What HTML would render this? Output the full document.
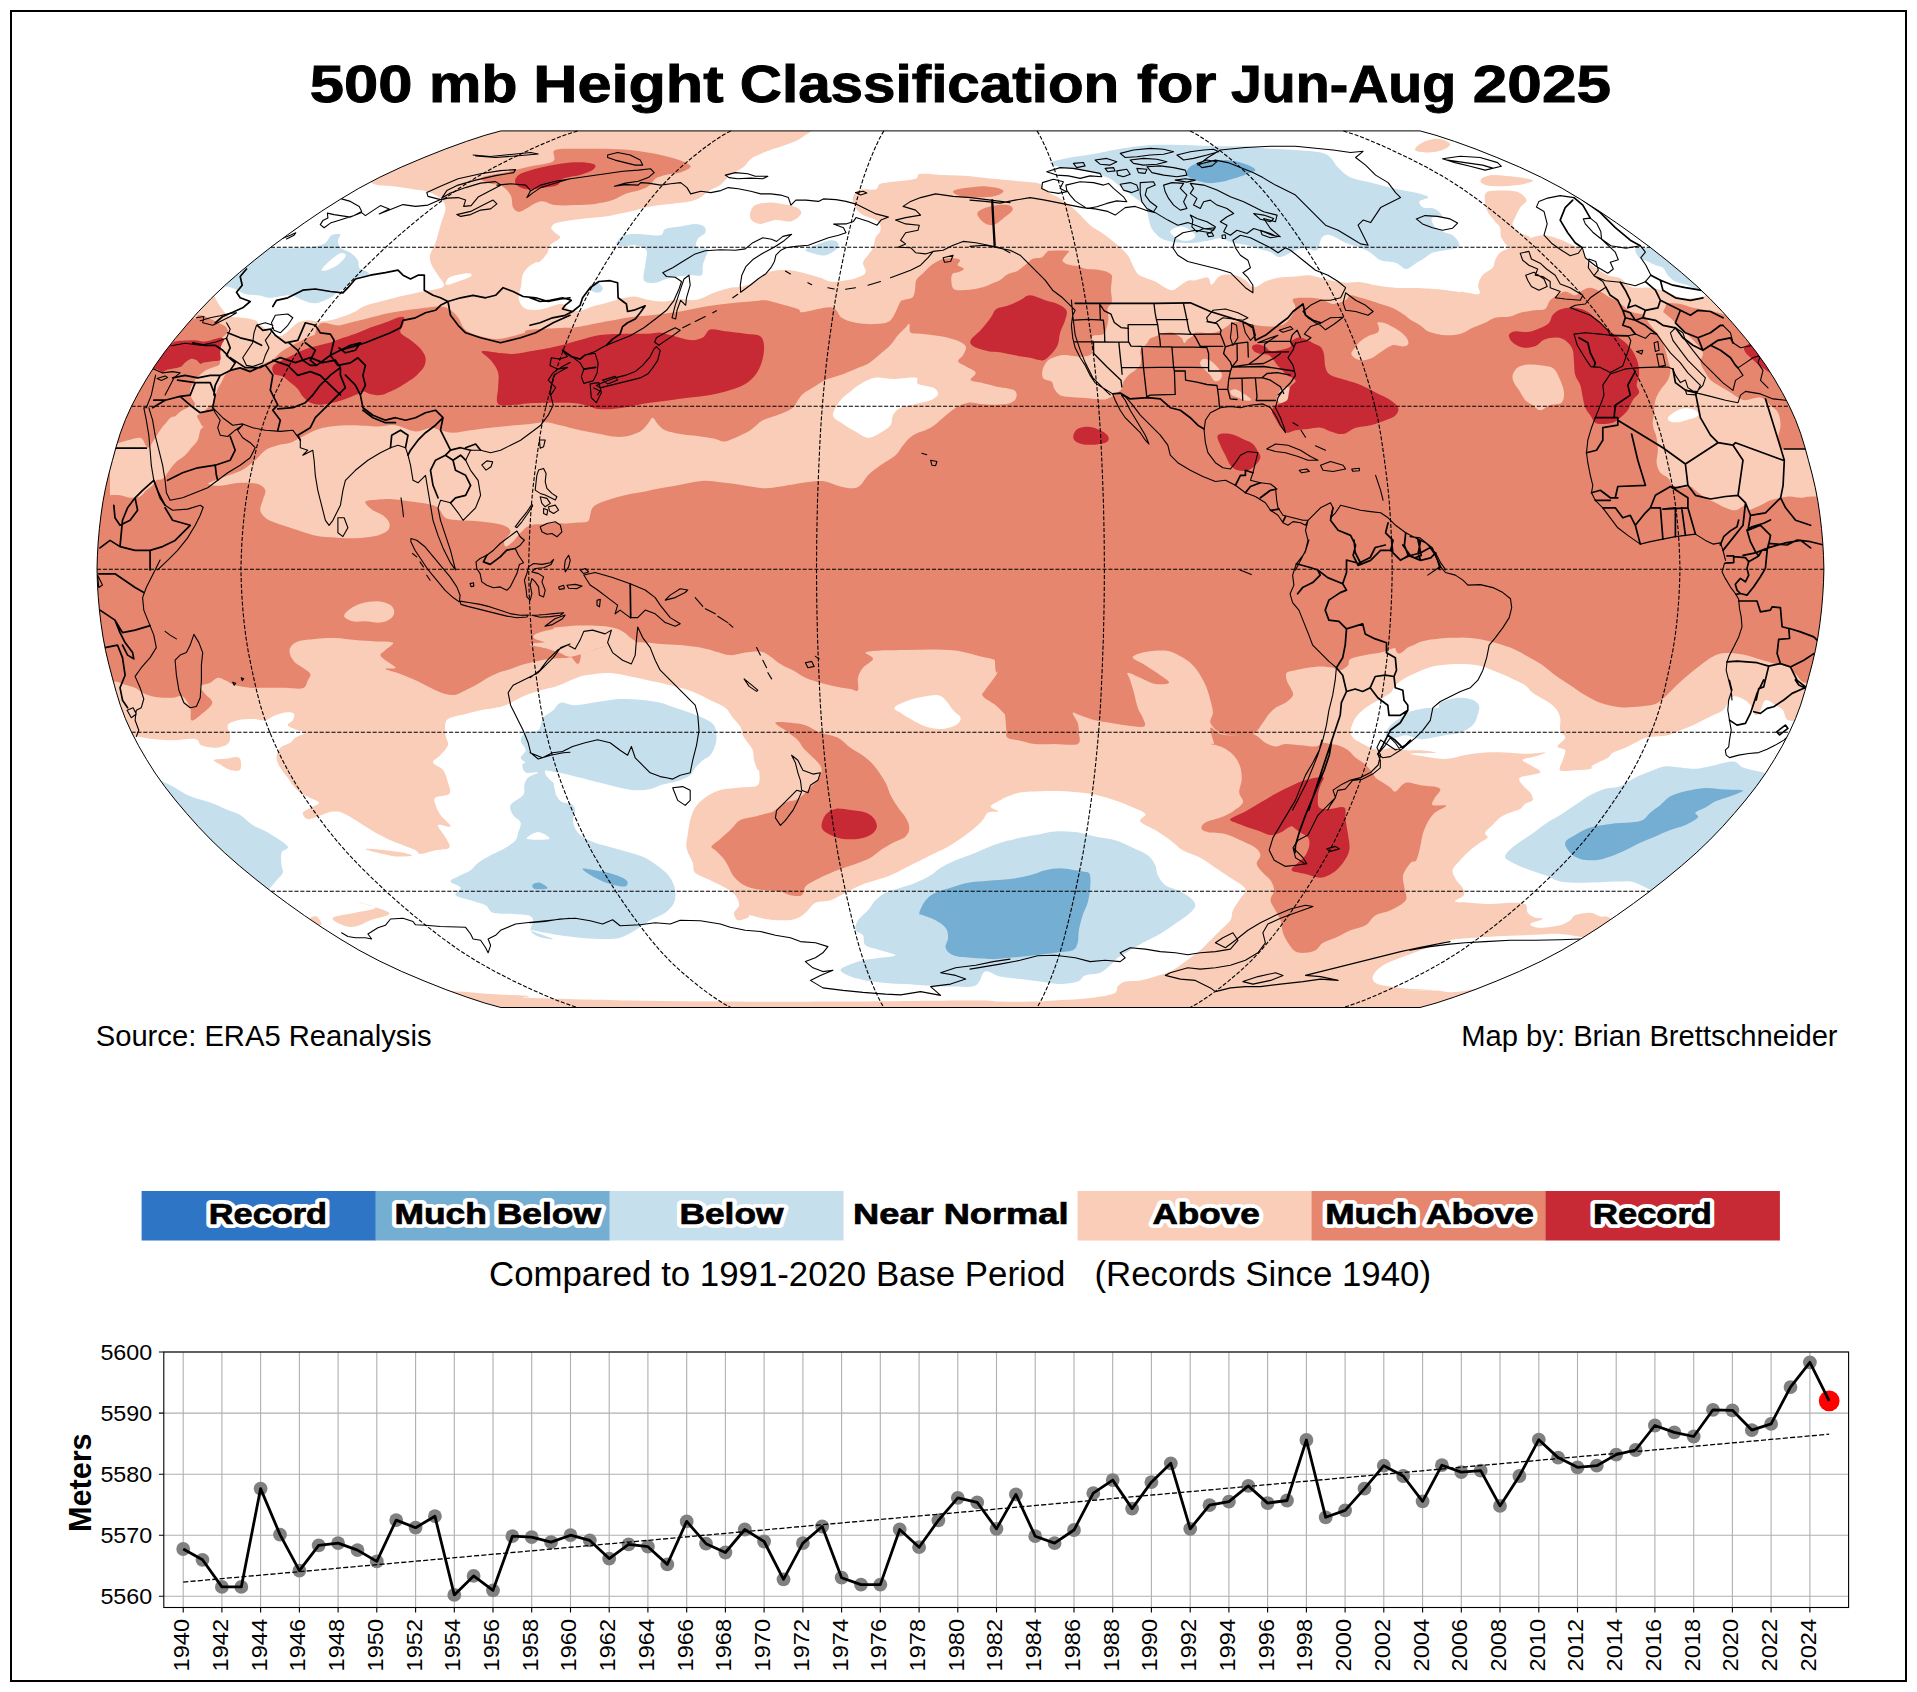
<!DOCTYPE html>
<html><head><meta charset="utf-8"><title>500 mb Height Classification</title>
<style>
html,body{margin:0;padding:0;background:#fff;}
body{width:1917px;height:1692px;overflow:hidden;}
svg{display:block;}
text{font-family:"Liberation Sans",sans-serif;}
.b{font-weight:bold;}
</style></head><body>
<svg width="1917" height="1692" viewBox="0 0 1917 1692">
<rect x="0" y="0" width="1917" height="1692" fill="#fff"/>
<rect x="11" y="11" width="1895" height="1670" fill="none" stroke="#000" stroke-width="2"/>
<text class="b" x="309.8" y="102" font-size="51" textLength="102.6" lengthAdjust="spacingAndGlyphs" stroke="#000" stroke-width="0.9">500</text>
<text class="b" x="429.1" y="102" font-size="51" textLength="88.3" lengthAdjust="spacingAndGlyphs" stroke="#000" stroke-width="0.9">mb</text>
<text class="b" x="533.2" y="102" font-size="51" textLength="190.4" lengthAdjust="spacingAndGlyphs" stroke="#000" stroke-width="0.9">Height</text>
<text class="b" x="739.8" y="102" font-size="51" textLength="379.4" lengthAdjust="spacingAndGlyphs" stroke="#000" stroke-width="0.9">Classification</text>
<text class="b" x="1137.1" y="102" font-size="51" textLength="79.4" lengthAdjust="spacingAndGlyphs" stroke="#000" stroke-width="0.9">for</text>
<text class="b" x="1231.0" y="102" font-size="51" textLength="225.1" lengthAdjust="spacingAndGlyphs" stroke="#000" stroke-width="0.9">Jun-Aug</text>
<text class="b" x="1472.8" y="102" font-size="51" textLength="138.2" lengthAdjust="spacingAndGlyphs" stroke="#000" stroke-width="0.9">2025</text>
<defs><clipPath id="mc"><path d="M500.9,130.9 L484.9,135.3 L466.4,141.4 L445.9,148.8 L424,157.5 L401.3,167.1 L379.2,177.5 L358.8,188.3 L340,199.5 L321.9,211 L304.5,222.8 L287.5,234.9 L270.9,247.2 L254.9,259.8 L239.5,272.5 L224.8,285.4 L211.1,298.5 L198.4,311.7 L186.6,325 L175.3,338.4 L164.7,351.9 L155.1,365.4 L146.5,379 L138.6,392.6 L131.5,406.2 L125.4,419.7 L120.3,433.3 L116.1,446.9 L112.4,460.5 L108.8,474.1 L105.6,487.7 L103,501.3 L101,514.9 L99.4,528.4 L98.2,542 L97.4,555.6 L97,569.2 L97.4,582.8 L98.2,596.4 L99.4,610 L101,623.5 L103,637.1 L105.6,650.7 L108.8,664.3 L112.4,677.9 L116.1,691.5 L120.3,705.1 L125.4,718.7 L131.5,732.2 L138.6,745.8 L146.5,759.4 L155.1,773 L164.7,786.5 L175.3,800 L186.6,813.4 L198.4,826.7 L211.1,839.9 L224.8,853 L239.5,865.9 L254.9,878.6 L270.9,891.2 L287.5,903.5 L304.5,915.6 L321.9,927.4 L340,938.9 L358.8,950.1 L379.2,960.9 L401.3,971.3 L424,980.9 L445.9,989.6 L466.4,997 L484.9,1003.1 L500.9,1007.5 L1420,1007.5 L1436,1003.1 L1454.5,997 L1475,989.6 L1496.9,980.9 L1519.6,971.3 L1541.7,960.9 L1562.1,950.1 L1580.9,938.9 L1599,927.4 L1616.4,915.6 L1633.4,903.5 L1650,891.2 L1666,878.6 L1681.4,865.9 L1696.1,853 L1709.8,839.9 L1722.5,826.7 L1734.3,813.4 L1745.6,800 L1756.2,786.5 L1765.8,773 L1774.4,759.4 L1782.3,745.8 L1789.4,732.2 L1795.5,718.7 L1800.6,705.1 L1804.8,691.5 L1808.5,677.9 L1812.1,664.3 L1815.3,650.7 L1817.9,637.1 L1819.9,623.5 L1821.5,610 L1822.7,596.4 L1823.5,582.8 L1823.9,569.2 L1823.5,555.6 L1822.7,542 L1821.5,528.4 L1819.9,514.9 L1817.9,501.3 L1815.3,487.7 L1812.1,474.1 L1808.5,460.5 L1804.8,446.9 L1800.6,433.3 L1795.5,419.7 L1789.4,406.2 L1782.3,392.6 L1774.4,379 L1765.8,365.4 L1756.2,351.9 L1745.6,338.4 L1734.3,325 L1722.5,311.7 L1709.8,298.5 L1696.1,285.4 L1681.4,272.5 L1666,259.8 L1650,247.2 L1633.4,234.9 L1616.4,222.8 L1599,211 L1580.9,199.5 L1562.1,188.3 L1541.7,177.5 L1519.6,167.1 L1496.9,157.5 L1475,148.8 L1454.5,141.4 L1436,135.3 L1420,130.9Z"/></clipPath></defs>
<g clip-path="url(#mc)">
<rect x="90" y="125" width="1740" height="890" fill="#F9CDB7"/>
<g fill="#ffffff">
<path d="M362.9,178.8 C368.8,179.2 370.8,183.4 375.4,184.6 C380,185.8 384.6,185.4 390.5,186.1 C396.3,186.8 404.4,187.9 410.5,188.8 C416.5,189.8 422,190.1 426.8,191.6 C431.6,193.1 436.1,194.9 439.3,197.6 C442.4,200.3 445.3,203 445.5,207.6 C445.7,212.2 442.2,219.3 440.5,225.2 C438.9,231 437.3,237.7 435.5,242.7 C433.8,247.7 430.6,251.4 430,255.2 C429.4,259 430.4,261.9 431.8,265.2 C433.1,268.5 436.1,271.7 438,275.2 C440,278.8 446,283.8 443.5,286.5 C441,289.2 429.8,290 423,291.5 C416.2,293 409.2,294.3 403,295.8 C396.7,297.2 391.7,298.6 385.4,300.3 C379.2,301.9 370.4,303.9 365.4,305.8 C360.4,307.6 359.2,309.7 355.4,311.5 C351.6,313.3 347.1,315.1 342.9,316.5 C338.7,318 334.5,319.5 330.4,320.3 C326.2,321.1 321.6,321.5 317.8,321.5 C314.1,321.5 311.2,320.1 307.8,320.3 C304.5,320.5 300.7,321.3 297.8,322.8 C294.9,324.3 292.8,327 290.3,329.1 C287.8,331.1 285.5,334.3 282.8,335.3 C280.1,336.4 276.5,336.2 274,335.3 C271.5,334.5 270.3,332.2 267.8,330.3 C265.3,328.4 261.1,325.7 259,324 C256.9,322.4 258,321.3 255.2,320.3 C252.5,319.2 246.9,318.4 242.7,317.8 C238.6,317.2 233.1,317.4 230.2,316.5 C227.3,315.7 226.9,314.5 225.2,312.8 C223.5,311.1 221.7,308.6 220.2,306.5 C218.7,304.4 217.7,302.1 216.4,300.3 C215.2,298.4 215.4,296.1 212.7,295.3 C210,294.4 203.9,296.9 200.2,295.3 C196.4,293.6 179.3,296.9 190.2,285.2 C201,273.6 240.2,242.3 265.3,225.2 C290.3,208 324.1,190.3 340.4,182.6 C356.6,174.9 357.1,178.5 362.9,178.8Z"/>
<path d="M445.5,283.2 C445.9,281.9 446.8,278.4 450.5,276.7 C454.3,275.1 464.6,273.3 468.1,273.2 C471.5,273.1 472.7,274.8 471.1,276.2 C469.4,277.6 461.8,280.1 458.1,281.5 C454.3,282.9 450.6,284.4 448.5,284.7 C446.5,285 445.2,284.6 445.5,283.2Z"/>
<path d="M551.3,227.7 C551.7,226 552.7,224.1 557.5,222.6 C562.3,221.2 572.1,219.9 580.1,218.9 C588,217.8 596.8,217.6 605.1,216.4 C613.5,215.1 622.6,213 630.2,211.4 C637.7,209.7 643.5,207.6 650.2,206.4 C656.9,205.1 663.5,204.7 670.2,203.9 C676.9,203 685.2,202.4 690.2,201.4 C695.2,200.3 696.9,199.5 700.3,197.6 C703.6,195.7 706.9,192.2 710.3,190.1 C713.6,188 716.9,187.6 720.3,185.1 C723.6,182.6 726.5,178 730.3,175.1 C734.1,172.2 739.1,170.5 742.8,167.6 C746.6,164.6 748.2,160.5 752.8,157.5 C757.4,154.6 764.9,152.1 770.4,150 C775.8,148 780.8,146.7 785.4,145 C790,143.4 794.6,141.7 797.9,140 C801.2,138.4 802.1,137.1 805.4,135 C808.8,132.9 817.9,127.5 817.9,127.5 L1020.7,127.5 L1020.7,178.8 C1020.7,178.8 1001.5,179.2 993.2,178.8 C984.8,178.4 979,177 970.7,176.3 C962.3,175.7 951.5,175.5 943.1,175.1 C934.8,174.7 925.2,173.2 920.6,173.8 C916,174.4 919.3,177.6 915.6,178.8 C911.8,180.1 903.9,180.5 898.1,181.3 C892.2,182.2 884.3,182.5 880.5,183.8 C876.8,185.2 878.9,188.6 875.5,189.6 C872.2,190.6 864.3,188.3 860.5,189.6 C856.7,190.9 853.8,194.6 853,197.6 C852.1,200.6 853.8,204.7 855.5,207.6 C857.2,210.5 859.2,212.8 863,215.1 C866.8,217.4 875.1,218.9 878,221.4 C880.9,223.9 880.9,227.4 880.5,230.2 C880.1,232.9 876.8,234.7 875.5,237.7 C874.3,240.6 874.3,244.8 873,247.7 C871.8,250.6 869.7,252.7 868,255.2 C866.3,257.7 863.4,259.8 863,262.7 C862.6,265.6 866.8,270.1 865.5,272.7 C864.3,275.3 859.2,276.9 855.5,278.2 C851.7,279.6 847.1,280.2 843,280.7 C838.8,281.3 834.2,282 830.5,281.5 C826.7,281 825,279.2 820.4,277.7 C815.8,276.3 807.9,274 802.9,272.7 C797.9,271.5 794.6,270.6 790.4,270.2 C786.2,269.8 781.6,269.8 777.9,270.2 C774.1,270.6 771.6,270.8 767.9,272.7 C764.1,274.6 759.5,279.2 755.3,281.5 C751.2,283.8 747,285.4 742.8,286.5 C738.6,287.5 734.9,286.8 730.3,287.7 C725.7,288.7 719.9,290.6 715.3,292.3 C710.7,293.9 706.5,296.4 702.8,297.8 C699,299.1 696.5,300.1 692.7,300.3 C689,300.5 684.8,298.8 680.2,299 C675.6,299.2 670.2,301.3 665.2,301.5 C660.2,301.7 655.2,301.1 650.2,300.3 C645.2,299.4 639.3,296.9 635.2,296.5 C631,296.1 628.5,297.1 625.1,297.8 C621.8,298.4 618.5,299.3 615.1,300.3 C611.8,301.2 608.9,302.2 605.1,303.3 C601.4,304.3 596.8,305.3 592.6,306.5 C588.4,307.8 583.8,310.2 580.1,310.8 C576.3,311.4 573,311.4 570.1,310.3 C567.1,309.2 565.1,304.9 562.5,304 C560,303.2 558.4,304.4 555,305.3 C551.7,306.1 546.7,308.3 542.5,309 C538.3,309.8 533.3,310.2 530,309.8 C526.7,309.4 524.4,308.5 522.5,306.5 C520.6,304.5 518.9,301.3 518.7,297.8 C518.5,294.2 520.6,289 521.2,285.2 C521.9,281.5 521.4,278.1 522.5,275.2 C523.5,272.3 525.4,269.8 527.5,267.7 C529.6,265.6 532.9,263.7 535,262.7 C537.1,261.7 537.9,263.1 540,261.5 C542.1,259.8 545.9,255.4 547.5,252.7 C549.2,250 547.9,247.7 550,245.2 C552.1,242.7 559.2,239.8 560,237.7 C560.9,235.6 556.5,234.3 555,232.7 C553.6,231 550.9,229.3 551.3,227.7Z"/>
<path d="M955,175.1 C955,175.1 963.3,174.4 970,175.1 C976.7,175.7 986.7,177.8 995,178.8 C1003.4,179.9 1012.6,180.5 1020.1,181.3 C1027.6,182.2 1035.9,182.3 1040.1,183.8 C1044.3,185.4 1041.4,187.9 1045.1,190.6 C1048.9,193.3 1057.2,196.4 1062.6,200.1 C1068.1,203.8 1073.1,208.5 1077.7,212.6 C1082.3,216.8 1085.6,221.4 1090.2,225.2 C1094.8,228.9 1100.6,231.8 1105.2,235.2 C1109.8,238.5 1114,241.8 1117.7,245.2 C1121.5,248.5 1125.2,251.9 1127.7,255.2 C1130.2,258.5 1131.1,262.1 1132.7,265.2 C1134.4,268.3 1135.7,271.9 1137.8,274 C1139.8,276.1 1142.3,276.5 1145.3,277.7 C1148.2,279 1151.9,279.8 1155.3,281.5 C1158.6,283.2 1162.4,286.3 1165.3,287.7 C1168.2,289.2 1170.3,290.7 1172.8,290.2 C1175.3,289.8 1177.8,286.8 1180.3,285.2 C1182.8,283.7 1185.3,281.6 1187.8,280.7 C1190.3,279.9 1192,280.7 1195.3,280.2 C1198.7,279.7 1205.1,277 1207.9,277.7 C1210.6,278.5 1209.5,285.1 1211.6,284.7 C1213.7,284.4 1216.4,277.3 1220.4,275.7 C1224.3,274.1 1231.2,274.5 1235.4,275.2 C1239.6,276 1242.3,278.2 1245.4,280.2 C1248.5,282.2 1250.8,287 1254.2,287.2 C1257.5,287.5 1261.5,283.1 1265.4,281.5 C1269.4,279.9 1273,278.6 1278,277.7 C1283,276.9 1290.5,276.9 1295.5,276.5 C1300.5,276.1 1303.8,275 1308,275.2 C1312.2,275.4 1316.8,276.9 1320.5,277.7 C1324.3,278.6 1326.4,279.4 1330.5,280.2 C1334.7,281.1 1340.6,282.4 1345.6,282.7 C1350.6,283.1 1355.6,281.8 1360.6,282.2 C1365.6,282.7 1369.8,284.3 1375.6,285.2 C1381.5,286.2 1388.1,287.3 1395.6,287.7 C1403.1,288.2 1413.6,287.5 1420.7,287.7 C1427.8,288 1431.5,288.2 1438.2,289 C1444.9,289.7 1460.7,292.3 1460.7,292.3 L1460.7,127.5 L955,127.5 L955,175.1Z"/>
<path d="M1395,287.7 C1395,287.7 1403.3,287.5 1410,287.7 C1416.7,288 1426.7,288.4 1435,289 C1443.4,289.6 1452.8,290.7 1460.1,291.5 C1467.4,292.3 1475.8,295 1478.9,294 C1481.9,293 1477.5,288.4 1478.1,285.2 C1478.7,282.1 1480.2,278.1 1482.6,275.2 C1485,272.3 1490.5,270.2 1492.6,267.7 C1494.7,265.2 1493.9,262.7 1495.1,260.2 C1496.4,257.7 1497.6,254.8 1500.1,252.7 C1502.6,250.6 1506.8,249.4 1510.2,247.7 C1513.5,246 1516.8,244.3 1520.2,242.7 C1523.5,241.1 1526.4,239.4 1530.2,238.2 C1533.9,236.9 1538.5,235.2 1542.7,235.2 C1546.9,235.1 1550.6,236.2 1555.2,237.7 C1559.8,239.1 1565.7,241.8 1570.2,243.9 C1574.8,246 1580,247.5 1582.8,250.2 C1585.5,252.9 1584.4,257.3 1586.5,260.2 C1588.6,263.1 1591.7,265.2 1595.3,267.7 C1598.8,270.2 1603.6,273.5 1607.8,275.2 C1612,277 1617,276.6 1620.3,278.2 C1623.7,279.9 1625.3,283.7 1627.8,285.2 C1630.3,286.8 1631.6,287.3 1635.3,287.7 C1639.1,288.2 1645.4,287.1 1650.4,287.7 C1655.4,288.4 1660.4,289.8 1665.4,291.5 C1670.4,293.2 1675.8,296.6 1680.4,297.8 C1685,298.9 1689.2,298.5 1692.9,298.3 C1696.7,298.1 1697.9,298.7 1702.9,296.5 C1707.9,294.3 1723,285.2 1723,285.2 L1585.3,175.1 L1435,120 L1395,120 L1395,287.7Z"/>
<path d="M120,735.3 C120,735.3 130.9,735.9 136.3,736.5 C141.7,737.1 146.5,738.4 152.6,739 C158.6,739.6 165.5,740.3 172.6,740.3 C179.7,740.3 190.4,738.2 195.2,739 C200,739.9 198.1,743.8 201.4,745.3 C204.8,746.7 210.8,748 215.2,747.8 C219.6,747.6 225.2,746.1 227.7,744 C230.2,741.9 230.2,738.4 230.2,735.3 C230.2,732.1 226.5,727.8 227.7,725.2 C229,722.7 233.5,721.3 237.7,720.2 C241.9,719.2 248.2,719 252.7,719 C257.3,719 261.5,720.9 265.3,720.2 C269,719.6 271.5,716.6 275.3,715.2 C279,713.9 284.7,712.4 287.8,712.2 C290.9,712 293.2,712.6 294.1,714 C294.9,715.3 293.8,718.4 292.8,720.2 C291.8,722.1 287,723.6 287.8,725.2 C288.6,726.9 294.9,729 297.8,730.3 C300.7,731.5 305.7,731.5 305.3,732.8 C304.9,734 297.8,736.1 295.3,737.8 C292.8,739.4 292.8,741.1 290.3,742.8 C287.8,744.4 282.6,745.3 280.3,747.8 C278,750.3 276.5,754.5 276.5,757.8 C276.5,761.1 278.4,764.5 280.3,767.8 C282.2,771.2 285.7,774.9 287.8,777.8 C289.9,780.7 290.7,782.8 292.8,785.3 C294.9,787.8 297.4,790.8 300.3,792.8 C303.2,794.9 307.2,796.2 310.3,797.9 C313.5,799.5 319.1,801.2 319.1,802.9 C319.1,804.5 313,806.2 310.3,807.9 C307.6,809.5 303.2,811 302.8,812.9 C302.4,814.8 304.9,818.7 307.8,819.1 C310.7,819.6 316.2,816.6 320.3,815.4 C324.5,814.1 329.1,812 332.9,811.6 C336.6,811.2 339.1,811.4 342.9,812.9 C346.6,814.3 351.6,817.9 355.4,820.1 C359.2,822.4 361.7,824.1 365.4,826.4 C369.2,828.7 373.8,831.6 377.9,833.9 C382.1,836.2 386.3,838.3 390.5,840.2 C394.6,842 398.8,843.5 403,845.2 C407.1,846.8 412.6,848.7 415.5,850.2 C418.4,851.6 417.2,853.9 420.5,853.9 C423.8,853.9 430.7,851.2 435.5,850.2 C440.3,849.1 447.6,849.7 449.3,847.7 C451,845.6 447.4,841.4 445.5,837.6 C443.7,833.9 437.2,827 438,825.1 C438.9,823.2 450.1,828 450.5,826.4 C451,824.7 443,818.7 440.5,815.1 C438,811.6 436.4,808 435.5,805.1 C434.7,802.2 433.2,799.5 435.5,797.6 C437.8,795.7 447.2,796.3 449.3,793.8 C451.4,791.3 449.1,786.5 448,782.6 C447,778.6 445.5,773.4 443,770 C440.5,766.7 433.4,765 433,762.5 C432.6,760 438,757.9 440.5,755 C443,752.1 447.2,748.3 448,745 C448.9,741.7 446,739 445.5,735.3 C445.1,731.6 444.7,725.7 445.5,722.7 C446.4,719.8 447.2,719.2 450.5,717.7 C453.9,716.3 460.6,715.2 465.6,714 C470.6,712.7 475.6,711.3 480.6,710.2 C485.6,709.2 491.4,708.6 495.6,707.7 C499.8,706.9 502.3,706.5 505.6,705.2 C509,704 512.3,701.9 515.6,700.2 C519,698.5 521.5,696.9 525.7,695.2 C529.8,693.5 535.7,691.7 540.7,690.2 C545.7,688.7 551.6,687.7 555.7,686.4 C559.8,685.2 561,684.4 565.1,682.7 C569.1,681 575.1,677.9 580.1,676.4 C585.1,675 589.7,674.5 595.1,673.9 C600.5,673.4 606.8,672.8 612.6,673.2 C618.5,673.6 624.3,675.3 630.2,676.4 C636,677.6 641.8,678.9 647.7,680.2 C653.5,681.4 659.8,682.7 665.2,683.9 C670.6,685.2 675.2,686.2 680.2,687.7 C685.2,689.2 690.2,690.6 695.2,692.7 C700.3,694.8 705.3,697.7 710.3,700.2 C715.3,702.7 721.5,704.8 725.3,707.7 C729,710.6 730.3,714.6 732.8,717.7 C735.3,720.9 738.6,723.6 740.3,726.5 C742,729.4 741.6,732.6 742.8,735.3 C744.1,738 746.2,740.3 747.8,742.8 C749.5,745.3 751.8,747.4 752.8,750.3 C753.9,753.2 753.3,757 754.1,760.3 C754.9,763.6 757,768.7 757.8,770.3 C758.7,771.9 759.1,767.6 759.1,770 C759.1,772.5 761,782.1 757.8,785.1 C754.7,788 746.6,786.7 740.3,787.6 C734.1,788.4 726.1,788.4 720.3,790.1 C714.4,791.7 709.4,794.7 705.3,797.6 C701.1,800.5 697.8,803.8 695.2,807.6 C692.7,811.4 691.5,815.5 690.2,820.1 C689,824.7 688.4,830.6 687.7,835.1 C687.1,839.7 685.7,843.1 686.5,847.7 C687.3,852.3 691.3,858.5 692.7,862.7 C694.2,866.9 692.3,869.8 695.2,872.7 C698.2,875.6 705.3,877.7 710.3,880.2 C715.3,882.7 721.1,885.2 725.3,887.7 C729.5,890.2 733,892.3 735.3,895.2 C737.6,898.2 739.3,902.3 739.1,905.2 C738.9,908.2 734.3,910.3 734.1,912.8 C733.8,915.3 735.5,919.4 737.8,920.3 C740.1,921.1 745.7,918.6 747.8,917.8 C749.9,916.9 747.4,915.1 750.3,915.3 C753.3,915.5 760.3,918.2 765.4,919 C770.4,919.9 775.4,920.3 780.4,920.3 C785.4,920.3 791.2,920.3 795.4,919 C799.6,917.8 802.1,915.5 805.4,912.8 C808.8,910 811.3,904.8 815.4,902.7 C819.6,900.7 825.4,901.9 830.5,900.2 C835.5,898.6 840.5,895.2 845.5,892.7 C850.5,890.2 855.5,887.3 860.5,885.2 C865.5,883.1 870.5,881.9 875.5,880.2 C880.5,878.5 885.5,877.3 890.5,875.2 C895.5,873.1 900.6,870.2 905.6,867.7 C910.6,865.2 915.6,862.7 920.6,860.2 C925.6,857.7 930.6,855.2 935.6,852.7 C940.6,850.2 945.6,848.1 950.6,845.2 C955.6,842.2 960.6,838.9 965.7,835.1 C970.7,831.4 976.9,826.4 980.7,822.6 C984.4,818.9 985.3,814.5 988.2,812.6 C991.1,810.7 997.8,812.4 998.2,811.4 C998.6,810.3 990.3,808.2 990.7,806.3 C991.1,804.5 998.3,801.6 1000.7,800.1 C1003.1,798.6 1001.8,798.8 1005.1,797.6 C1008.3,796.3 1014.2,793.6 1020.1,792.6 C1025.9,791.5 1032.6,791.5 1040.1,791.3 C1047.6,791.1 1056.8,790.9 1065.1,791.3 C1073.5,791.7 1082.7,792.6 1090.2,793.8 C1097.7,795.1 1103.5,796.8 1110.2,798.8 C1116.9,800.9 1124.4,803.8 1130.2,806.3 C1136.1,808.9 1143.6,811.4 1145.3,813.9 C1146.9,816.4 1138.6,818.7 1140.3,821.4 C1141.9,824.1 1150.3,827 1155.3,830.1 C1160.3,833.3 1165.7,836.8 1170.3,840.2 C1174.9,843.5 1177.8,847.2 1182.8,850.2 C1187.8,853.1 1194.9,854.8 1200.3,857.7 C1205.8,860.6 1210.4,864.4 1215.4,867.7 C1220.4,871 1225.4,874.2 1230.4,877.7 C1235.4,881.3 1244,885.2 1245.4,889 C1246.9,892.7 1241.2,896.7 1239.2,900.2 C1237.1,903.8 1234.4,906.9 1232.9,910.3 C1231.4,913.6 1232.5,916.9 1230.4,920.3 C1228.3,923.6 1223.7,926.9 1220.4,930.3 C1217,933.6 1213.7,937 1210.4,940.3 C1207,943.6 1203.7,947.4 1200.3,950.3 C1197,953.2 1193.7,955.3 1190.3,957.8 C1187,960.3 1183.7,963 1180.3,965.3 C1177,967.6 1174.5,969.7 1170.3,971.6 C1166.1,973.5 1160.3,975.1 1155.3,976.6 C1150.3,978.1 1145.3,979.5 1140.3,980.4 C1135.2,981.2 1129,980.6 1125.2,981.6 C1121.5,982.7 1119.4,984.7 1117.7,986.6 C1116.1,988.5 1118.1,991.2 1115.2,992.9 C1112.3,994.5 1106,995.6 1100.2,996.6 C1094.4,997.7 1087.7,998.5 1080.2,999.1 C1072.7,999.8 1063.5,1000 1055.1,1000.4 C1046.8,1000.8 1039.3,1001.4 1030.1,1001.6 C1020.9,1001.9 1010.1,1001.9 1000,1001.6 C990,1001.4 998.3,1000.4 970,1000.4 C941.7,1000.4 870.4,1001.4 830.5,1001.6 C790.5,1001.9 763.7,1001.9 730.3,1001.6 C696.9,1001.4 663.5,1001 630.2,1000.4 C596.8,999.8 547,998.6 530,997.9 C513,997.1 534.7,996.5 528.2,995.9 C521.6,995.3 501.9,994.8 490.6,994.1 C479.3,993.4 469.7,992.3 460.6,991.6 C451.4,991 435.5,990.4 435.5,990.4 L265.3,900.2 L165.1,802.6 L120,735.3Z"/>
<path d="M1350.6,730.3 C1351,726.9 1353.1,721.5 1355.6,717.7 C1358.1,714 1361.4,710.9 1365.6,707.7 C1369.8,704.6 1376.4,701.5 1380.6,699 C1384.8,696.5 1388.1,695 1390.6,692.7 C1393.1,690.4 1393.1,687.7 1395.6,685.2 C1398.1,682.7 1400.8,680.4 1405.7,677.7 C1410.6,675 1419.3,671 1425,668.9 C1430.8,666.8 1434.2,666 1440,665.2 C1445.9,664.3 1453.8,663.9 1460.1,663.9 C1466.3,663.9 1472.2,664.1 1477.6,665.2 C1483,666.2 1487.2,668.1 1492.6,670.2 C1498,672.3 1504.7,675.2 1510.2,677.7 C1515.6,680.2 1521.4,682.7 1525.2,685.2 C1528.9,687.7 1529.3,690.2 1532.7,692.7 C1536,695.2 1541.4,697.7 1545.2,700.2 C1549,702.7 1552.7,704.8 1555.2,707.7 C1557.7,710.6 1559.4,714 1560.2,717.7 C1561.1,721.5 1559.4,726.9 1560.2,730.3 C1561.1,733.6 1565.7,735.1 1565.2,737.8 C1564.8,740.5 1557.7,744.4 1557.7,746.5 C1557.7,748.6 1564.4,748 1565.2,750.3 C1566.1,752.6 1563.6,757 1562.7,760.3 C1561.9,763.6 1558.1,768.6 1560.2,770.3 C1562.3,772 1570.2,770.5 1575.2,770.3 C1580.3,770.1 1587.3,769.9 1590.3,769.1 C1593.2,768.2 1589.9,767.2 1592.8,765.3 C1595.7,763.4 1604.5,759.9 1607.8,757.8 C1611.1,755.7 1609.9,754.5 1612.8,752.8 C1615.7,751.1 1621.6,749.5 1625.3,747.8 C1629.1,746.1 1632,744.4 1635.3,742.8 C1638.7,741.1 1642,738.8 1645.4,737.8 C1648.7,736.7 1651.6,736.9 1655.4,736.5 C1659.1,736.1 1663.7,736.3 1667.9,735.3 C1672.1,734.2 1676.2,731.9 1680.4,730.3 C1684.6,728.6 1689.2,726.9 1692.9,725.2 C1696.7,723.6 1699.6,721.9 1702.9,720.2 C1706.3,718.6 1709.6,716.9 1713,715.2 C1716.3,713.6 1720.5,712.3 1723,710.2 C1725.5,708.1 1726.3,705 1728,702.7 C1729.6,700.4 1730.5,697.1 1733,696.5 C1735.5,695.8 1740.1,697.5 1743,699 C1745.9,700.4 1748.4,702.5 1750.5,705.2 C1752.6,707.9 1753.8,714.4 1755.5,715.2 C1757.2,716.1 1758.9,712.7 1760.5,710.2 C1762.2,707.7 1763,701 1765.5,700.2 C1768,699.4 1772.6,703.5 1775.5,705.2 C1778.5,706.9 1781,707.7 1783.1,710.2 C1785.1,712.7 1784.3,718.6 1788.1,720.2 C1791.8,721.9 1805.6,720.2 1805.6,720.2 L1773,765 L1635.3,940.3 C1635.3,940.3 1616.1,922.2 1610.3,918.3 C1604.5,914.3 1603.6,917.4 1600.3,916.5 C1596.9,915.6 1594.4,913 1590.3,912.8 C1586.1,912.6 1578.6,914 1575.2,915.3 C1571.9,916.5 1572.7,918.6 1570.2,920.3 C1567.7,921.9 1565.2,924 1560.2,925.3 C1555.2,926.5 1545.2,928 1540.2,927.8 C1535.2,927.6 1529.8,925.5 1530.2,924 C1530.6,922.6 1541.9,920.1 1542.7,919 C1543.5,918 1537.7,918.8 1535.2,917.8 C1532.7,916.7 1529.3,915.1 1527.7,912.8 C1526,910.5 1528.1,905.7 1525.2,904 C1522.3,902.3 1516,902.7 1510.2,902.7 C1504.3,902.7 1496.8,904 1490.1,904 C1483.4,904 1475.9,903.2 1470.1,902.7 C1464.2,902.3 1456.1,902.7 1455.1,901.5 C1454,900.2 1462.6,897.5 1463.8,895.2 C1465.1,892.9 1463.8,890.2 1462.6,887.7 C1461.3,885.2 1458,883.1 1456.3,880.2 C1454.7,877.3 1451.9,873.5 1452.6,870.2 C1453.2,866.9 1457.2,863.5 1460.1,860.2 C1463,856.8 1466.8,853.1 1470.1,850.2 C1473.4,847.2 1477.2,844.7 1480.1,842.7 C1483,840.6 1486.8,839.3 1487.6,837.6 C1488.5,836 1484.3,834.7 1485.1,832.6 C1485.9,830.6 1490.1,827.6 1492.6,825.1 C1495.1,822.6 1497.2,819.7 1500.1,817.6 C1503.1,815.5 1506.8,814.1 1510.2,812.6 C1513.5,811.1 1517.7,810.3 1520.2,808.9 C1522.7,807.4 1523.1,805.3 1525.2,803.8 C1527.3,802.4 1531.8,802 1532.7,800.1 C1533.5,798.2 1531.8,795.1 1530.2,792.6 C1528.5,790.1 1524.3,787.6 1522.7,785.1 C1521,782.6 1517.2,779.6 1520.2,777.6 C1523.1,775.5 1538.5,774.6 1540.2,772.5 C1541.9,770.5 1533.1,767.1 1530.2,765 C1527.3,763 1521.8,761.5 1522.7,760 C1523.5,758.6 1531.4,757.5 1535.2,756.3 C1538.9,755 1546.9,752.9 1545.2,752.5 C1543.5,752.1 1531.8,753.8 1525.2,753.8 C1518.5,753.8 1511.8,752.7 1505.1,752.5 C1498.5,752.3 1491.8,752.1 1485.1,752.5 C1478.4,752.9 1471.3,754 1465.1,755 C1458.8,756.1 1453.4,758.4 1447.6,758.8 C1441.7,759.2 1436.3,758.4 1430,757.5 C1423.8,756.7 1409.1,754.6 1410,753.8 C1410.9,753 1433.9,753.4 1435.7,752.8 C1437.5,752.2 1425.7,750.7 1420.7,750.3 C1415.7,749.9 1410.7,750.7 1405.7,750.3 C1400.6,749.9 1394.8,747.8 1390.6,747.8 C1386.5,747.8 1384,750.3 1380.6,750.3 C1377.3,750.3 1373.9,749 1370.6,747.8 C1367.3,746.5 1363.5,744.4 1360.6,742.8 C1357.7,741.1 1354.7,739.9 1353.1,737.8 C1351.4,735.7 1350.2,733.6 1350.6,730.3Z"/>
<path d="M1373.1,975.4 C1374.4,972.4 1378.5,968.3 1383.1,965.3 C1387.7,962.4 1394.4,960.3 1400.6,957.8 C1406.9,955.3 1414.4,952.6 1420.7,950.3 C1426.9,948 1433.3,945.7 1438.2,944.1 C1443.1,942.4 1445.6,941.3 1450.1,940.3 C1454.5,939.3 1459.2,938.8 1465.1,938.3 C1470.9,937.8 1477.6,937.5 1485.1,937 C1492.6,936.6 1501.8,936.2 1510.2,935.8 C1518.5,935.4 1526.8,935.1 1535.2,934.8 C1543.5,934.5 1551.9,933.5 1560.2,934 C1568.6,934.5 1585.3,937.8 1585.3,937.8 L1510.2,980.4 C1510.2,980.4 1472.6,990 1460.1,991.6 C1447.6,993.3 1443.4,990.6 1435,990.4 C1426.7,990.2 1410.3,990.4 1410,990.4 C1409.7,990.4 1433.1,990.6 1433.2,990.4 C1433.3,990.2 1417.8,989.7 1410.7,989.1 C1403.6,988.5 1396.5,987.7 1390.6,986.6 C1384.8,985.6 1378.5,984.7 1375.6,982.9 C1372.7,981 1371.9,978.3 1373.1,975.4Z"/>
<path d="M894.3,707.7 C895.1,705.8 901.2,703.2 905.6,701.5 C909.9,699.7 915.2,698.2 920.6,697.2 C926,696.2 933.9,694.7 938.1,695.2 C942.3,695.7 943.1,697.7 945.6,700.2 C948.1,702.7 950.6,707.3 953.1,710.2 C955.6,713.1 960.2,715.2 960.6,717.7 C961.1,720.2 959,723.4 955.6,725.2 C952.3,727.1 945.6,728.8 940.6,729 C935.6,729.2 930.6,728.2 925.6,726.5 C920.6,724.8 914.7,721.3 910.6,719 C906.4,716.7 903.3,714.6 900.6,712.7 C897.8,710.9 893.5,709.6 894.3,707.7Z"/>
</g>
<g fill="#F9CDB7">
<path d="M750.3,212.6 C751,210.1 752,206.8 755.3,205.1 C758.7,203.5 764.9,202.6 770.4,202.6 C775.8,202.6 783.1,204.1 787.9,205.1 C792.7,206.2 797.1,207.2 799.2,208.9 C801.2,210.5 801.9,213 800.4,215.1 C798.9,217.2 794.6,220.6 790.4,221.4 C786.2,222.2 780.4,219.7 775.4,220.1 C770.4,220.6 764.3,223.9 760.3,223.9 C756.4,223.9 753.3,222 751.6,220.1 C749.9,218.3 749.7,215.1 750.3,212.6Z"/>
<path d="M1415,150 C1414.2,148.4 1418.8,144.4 1422.5,142.5 C1426.3,140.6 1433,138.6 1437.5,138.8 C1442.1,139 1449.2,141.9 1450.1,143.8 C1450.9,145.7 1446.3,148.6 1442.5,150 C1438.8,151.5 1432.1,152.5 1427.5,152.5 C1422.9,152.5 1415.8,151.7 1415,150Z"/>
<path d="M1481.4,178.8 C1483,177.4 1487.8,175.5 1492.6,175.1 C1497.4,174.7 1504.3,175.7 1510.2,176.3 C1516,177 1523.9,178 1527.7,178.8 C1531.4,179.7 1534.4,180.3 1532.7,181.3 C1531,182.4 1523.9,184.3 1517.7,185.1 C1511.4,185.9 1501,186.6 1495.1,186.3 C1489.3,186.1 1484.9,185.1 1482.6,183.8 C1480.3,182.6 1479.7,180.3 1481.4,178.8Z"/>
<path d="M1486.4,192.6 C1488.9,190.6 1494.9,190.7 1500.1,190.6 C1505.4,190.5 1513.3,190.5 1517.7,192.1 C1522,193.7 1526,197.5 1526.4,200.1 C1526.8,202.7 1522,204.7 1520.2,207.6 C1518.3,210.5 1516.4,214.7 1515.2,217.6 C1513.9,220.6 1511.8,222.6 1512.7,225.2 C1513.5,227.7 1517.2,230.6 1520.2,232.7 C1523.1,234.7 1530.2,236 1530.2,237.7 C1530.2,239.3 1523.5,241 1520.2,242.7 C1516.8,244.3 1513.3,248.5 1510.2,247.7 C1507,246.8 1503.1,241 1501.4,237.7 C1499.7,234.3 1501.2,230.4 1500.1,227.7 C1499.1,224.9 1497.2,224.1 1495.1,221.4 C1493,218.7 1489.3,214.5 1487.6,211.4 C1485.9,208.2 1485.3,205.7 1485.1,202.6 C1484.9,199.5 1483.9,194.6 1486.4,192.6Z"/>
<path d="M365.4,848.9 C366.7,848.5 379.2,849.5 385.4,850.2 C391.7,850.8 398.6,851.8 403,852.7 C407.4,853.6 413,855 411.7,855.7 C410.5,856.3 401.1,856.9 395.5,856.4 C389.8,855.9 382.9,853.9 377.9,852.7 C372.9,851.4 364.2,849.3 365.4,848.9Z"/>
<path d="M213.9,760 C214.8,759.1 221,759.2 225.2,758.8 C229.4,758.4 236.5,755.7 239,757.5 C241.5,759.3 241.7,767.5 240.2,769.5 C238.8,771.6 233.5,770.9 230.2,770 C226.9,769.2 222.9,766.2 220.2,764.5 C217.5,762.9 213.1,761 213.9,760Z"/>
<path d="M332.9,917.8 C335,915.7 348.3,914.4 355.4,912.8 C362.5,911.1 375.4,909.6 375.4,907.8 C375.4,905.9 353.1,900.7 355.4,901.5 C357.7,902.3 386.7,909.6 389.2,912.8 C391.7,915.9 376.1,918 370.4,920.3 C364.8,922.6 360,925.7 355.4,926.5 C350.8,927.4 346.6,926.7 342.9,925.3 C339.1,923.8 330.8,919.9 332.9,917.8Z"/>
<path d="M310.3,918.3 C310.5,917 314.7,915.6 316.6,916.5 C318.5,917.5 321.8,922.8 321.6,924 C321.4,925.3 317.2,925 315.3,924 C313.5,923.1 310.1,919.5 310.3,918.3Z"/>
</g>
<g fill="#C6DFED">
<path d="M220.2,290.2 C213.7,297.1 223.5,286.5 226.5,286.5 C229.4,286.5 234.6,289 237.7,290.2 C240.9,291.5 241.5,293.1 245.2,294 C249,294.9 256.1,295.1 260.3,295.8 C264.4,296.4 265.3,297.8 270.3,297.8 C275.3,297.7 284.9,294.8 290.3,295.3 C295.7,295.7 298.6,298.9 302.8,300.3 C307,301.6 310.7,303.7 315.3,303.3 C319.9,302.9 326.6,299.7 330.4,297.8 C334.1,295.8 335.4,293.2 337.9,291.5 C340.4,289.8 343.3,289.4 345.4,287.7 C347.5,286.1 347.9,283.4 350.4,281.5 C352.9,279.6 357.3,277.6 360.4,276.5 C363.5,275.4 368.1,275.6 369.2,274.7 C370.2,273.9 368.3,272.6 366.7,271.5 C365,270.3 360.6,269.6 359.2,267.7 C357.7,265.8 359.4,262.7 357.9,260.2 C356.4,257.7 353.3,254.8 350.4,252.7 C347.5,250.6 342.5,249.8 340.4,247.7 C338.3,245.6 337.9,242.4 337.9,240.2 C337.9,238 341.4,235.2 340.4,234.4 C339.3,233.6 334.1,233.8 331.6,235.2 C329.1,236.5 328.1,240.8 325.4,242.7 C322.6,244.6 321.2,245.5 315.3,246.4 C309.5,247.4 297.6,248 290.3,248.2 C283,248.4 275.7,248.2 271.5,247.7 C267.3,247.2 273.8,238.1 265.3,245.2 C256.7,252.3 226.7,283.4 220.2,290.2Z"/>
<path d="M616.4,242.7 C616.8,240.8 621.6,236.6 625.1,235.2 C628.7,233.7 631.8,233.9 637.7,233.9 C643.5,233.9 655.6,236 660.2,235.2 C664.8,234.3 661.9,230.4 665.2,228.9 C668.5,227.4 675.2,227.2 680.2,226.4 C685.2,225.6 691.3,223.9 695.2,223.9 C699.2,223.9 702.3,224.9 704,226.4 C705.7,227.9 706.3,230.6 705.3,232.7 C704.2,234.7 699.2,236.4 697.8,238.9 C696.3,241.4 694.8,246 696.5,247.7 C698.2,249.4 706.3,247.3 707.8,248.9 C709.2,250.6 706.1,255 705.3,257.7 C704.4,260.4 703.4,262.3 702.8,265.2 C702.1,268.1 703.6,273.6 701.5,275.2 C699.4,276.9 695.5,274.8 690.2,275.2 C685,275.6 676.1,276.5 670.2,277.7 C664.4,279 659.6,282.3 655.2,282.7 C650.8,283.2 645.6,283.2 643.9,280.2 C642.3,277.3 644.8,270.2 645.2,265.2 C645.6,260.2 648.1,253.5 646.4,250.2 C644.8,246.8 639.1,245.8 635.2,245.2 C631.2,244.6 625.8,246.8 622.6,246.4 C619.5,246 616,244.6 616.4,242.7Z"/>
<path d="M805.4,250.2 C805.4,248.7 811.3,246.8 815.4,245.2 C819.6,243.5 826.7,240.6 830.5,240.2 C834.2,239.8 836.9,241.2 838,242.7 C839,244.1 838.8,246.8 836.7,248.9 C834.6,251 829,254.4 825.4,255.2 C821.9,256 818.8,254.8 815.4,253.9 C812.1,253.1 805.4,251.6 805.4,250.2Z"/>
<path d="M590.1,285.2 C590.9,283.8 595.5,282.3 597.6,282.7 C599.7,283.2 602.2,286.2 602.6,287.7 C603,289.3 601.8,291.6 600.1,292.3 C598.4,292.9 594.3,292.7 592.6,291.5 C590.9,290.3 589.3,286.7 590.1,285.2Z"/>
<path d="M1050.1,162.6 C1052.2,161.1 1062.6,159 1070.2,157.5 C1077.7,156.1 1086.8,155.3 1095.2,153.8 C1103.5,152.3 1111,150.2 1120.2,148.8 C1129.4,147.3 1139.8,145.7 1150.3,145 C1160.7,144.4 1171.1,144.8 1182.8,145 C1194.5,145.2 1209.9,146.1 1220.4,146.3 C1230.8,146.5 1237.1,145.9 1245.4,146.3 C1253.8,146.7 1262.1,148.2 1270.5,148.8 C1278.8,149.4 1287.1,149.4 1295.5,150 C1303.8,150.7 1314.7,151.3 1320.5,152.5 C1326.4,153.8 1327.6,155 1330.5,157.5 C1333.5,160.1 1334.7,164.2 1338.1,167.6 C1341.4,170.9 1345.1,175.1 1350.6,177.6 C1356,180.1 1363.1,180.7 1370.6,182.6 C1378.1,184.5 1387.3,187 1395.6,188.8 C1404,190.7 1415.3,192.4 1420.7,193.9 C1426.1,195.3 1428.4,196.4 1428.2,197.6 C1428,198.9 1420.3,199.7 1419.4,201.4 C1418.6,203 1420.6,206.4 1423.2,207.6 C1425.8,208.9 1431.6,207 1435,208.9 C1438.5,210.8 1442.8,215.3 1443.8,218.9 C1444.8,222.4 1439.8,227.4 1441.3,230.2 C1442.8,232.9 1449.6,233.1 1452.6,235.2 C1455.5,237.3 1458,240.6 1458.8,242.7 C1459.7,244.8 1459.9,246.4 1457.6,247.7 C1455.3,248.9 1449.2,249.4 1445.1,250.2 C1440.9,251 1435.9,251.4 1432.5,252.7 C1429.2,253.9 1427.5,256.1 1425,257.7 C1422.5,259.3 1419.5,261 1417.5,262.2 C1415.5,263.5 1415.1,264.1 1413.2,265.2 C1411.2,266.3 1408.6,269.4 1405.7,269 C1402.7,268.5 1399.8,264.2 1395.6,262.7 C1391.5,261.2 1384.8,261.9 1380.6,260.2 C1376.4,258.5 1373.9,254.8 1370.6,252.7 C1367.3,250.6 1364.8,249.4 1360.6,247.7 C1356.4,246 1350.6,244.8 1345.6,242.7 C1340.6,240.6 1334.5,236 1330.5,235.2 C1326.6,234.3 1324.1,235.2 1321.8,237.7 C1319.5,240.2 1319.5,248.5 1316.8,250.2 C1314.1,251.9 1309.1,247.7 1305.5,247.7 C1302,247.7 1298.8,248.9 1295.5,250.2 C1292.1,251.4 1288.4,254.1 1285.5,255.2 C1282.6,256.3 1280.5,257.4 1278,256.9 C1275.5,256.4 1273.8,253.6 1270.5,252.2 C1267.1,250.8 1262.1,249.7 1257.9,248.4 C1253.8,247.2 1249.6,245.6 1245.4,244.7 C1241.2,243.7 1237.1,243.8 1232.9,242.7 C1228.7,241.6 1224.1,238.6 1220.4,238.2 C1216.6,237.8 1214.5,239.4 1210.4,240.2 C1206.2,240.9 1199.9,242.3 1195.3,242.7 C1190.7,243.1 1187,242.9 1182.8,242.7 C1178.6,242.5 1174.1,242.3 1170.3,241.4 C1166.5,240.6 1163,239.3 1160.3,237.7 C1157.6,236 1155.7,233.5 1154,231.4 C1152.4,229.3 1151.7,229.3 1150.3,225.2 C1148.8,221 1147.8,210.9 1145.3,206.4 C1142.8,201.9 1138.6,200.7 1135.2,198.1 C1131.9,195.5 1128.2,192.9 1125.2,190.6 C1122.3,188.3 1120.2,186.6 1117.7,184.6 C1115.2,182.6 1113.1,180.4 1110.2,178.8 C1107.3,177.2 1103.5,176.2 1100.2,175.1 C1096.9,173.9 1094.4,173 1090.2,172.1 C1086,171.2 1080.6,170.5 1075.2,169.6 C1069.7,168.6 1061.8,167.5 1057.6,166.3 C1053.5,165.1 1048,164 1050.1,162.6Z"/>
<path d="M1635.3,248.9 C1636.4,247.3 1642.2,247.5 1645.4,247.7 C1648.5,247.9 1644.5,242.9 1654.1,250.2 C1663.7,257.5 1697.3,285.7 1702.9,291.5 C1708.6,297.3 1692.5,286.9 1687.9,285.2 C1683.3,283.6 1678.7,283.2 1675.4,281.5 C1672.1,279.8 1670,277.5 1667.9,275.2 C1665.8,272.9 1665,269.4 1662.9,267.7 C1660.8,266 1657.9,266.3 1655.4,265.2 C1652.9,264.2 1650.6,262.7 1647.9,261.5 C1645.1,260.2 1641.2,259.8 1639.1,257.7 C1637,255.6 1634.3,250.6 1635.3,248.9Z"/>
<path d="M152.6,775.1 C152.6,775.1 159.3,779.4 162.6,781.3 C165.9,783.2 168,783.8 172.6,786.3 C177.2,788.8 183.9,793.6 190.2,796.3 C196.4,799 203.9,800.3 210.2,802.6 C216.4,804.9 222.7,808 227.7,810.1 C232.7,812.2 236.1,812.6 240.2,815.1 C244.4,817.6 247.7,822 252.7,825.1 C257.8,828.3 264.4,830.3 270.3,833.9 C276.1,837.4 285.9,843.3 287.8,846.4 C289.7,849.5 282.6,849.5 281.5,852.7 C280.5,855.8 281.3,861.8 281.5,865.2 C281.7,868.5 283.6,870.2 282.8,872.7 C282,875.2 278.6,877.7 276.5,880.2 C274.4,882.7 272.6,885.2 270.3,887.7 C268,890.2 262.8,895.2 262.8,895.2 L190.2,840.2 L152.6,775.1Z"/>
<path d="M560.8,702.7 C564.4,701.9 568.5,705.4 575.1,705.2 C581.6,705 592.6,702.5 600.1,701.5 C607.6,700.4 613.5,699.3 620.1,699 C626.8,698.7 633.5,699.1 640.2,699.7 C646.8,700.3 654.4,701.4 660.2,702.7 C666,704 670.2,706.1 675.2,707.7 C680.2,709.4 685.2,710.9 690.2,712.7 C695.2,714.6 701.3,716.9 705.3,719 C709.2,721.1 712.1,722.5 714,725.2 C715.9,728 716.3,731.9 716.5,735.3 C716.7,738.6 716.3,741.9 715.3,745.3 C714.2,748.6 712.4,752.8 710.3,755.3 C708.2,757.8 705.3,758.2 702.8,760.3 C700.3,762.4 697.3,765.3 695.2,767.8 C693.2,770.3 692.7,773.2 690.2,775.3 C687.7,777.4 683.6,779.1 680.2,780.3 C676.9,781.6 673.5,782 670.2,782.8 C666.9,783.7 663.5,784.3 660.2,785.3 C656.9,786.4 654.4,788.3 650.2,789.1 C646,789.9 640.2,790.6 635.2,790.3 C630.2,790.1 625.1,788.9 620.1,787.8 C615.1,786.8 610.1,785.3 605.1,784.1 C600.1,782.8 595.1,781.6 590.1,780.3 C585.1,779.1 580.1,777.8 575.1,776.6 C570.1,775.3 565.1,773.9 560,772.8 C555,771.8 550,771.2 545,770.3 C540,769.5 533.2,769.1 530,767.8 C526.8,766.6 527.3,764.5 525.7,762.8 C524.2,761.1 520.7,759.9 520.7,757.8 C520.7,755.7 525.7,753.2 525.7,750.3 C525.7,747.4 520.7,743.2 520.7,740.3 C520.7,737.3 522.8,734.4 525.7,732.8 C528.7,731.1 535.3,732.8 538.3,730.3 C541.2,727.8 540.8,721.1 543.3,717.7 C545.8,714.4 550.4,712.7 553.3,710.2 C556.2,707.7 557.2,703.5 560.8,702.7Z"/>
<path d="M523.1,763.8 C525.2,761.9 533.2,762.1 538.2,761.3 C543.2,760.4 552.1,756.9 553.2,758.8 C554.3,760.7 544.7,768.1 545,772.5 C545.3,777 553.2,781.5 555,785.3 C556.9,789.1 554.2,792.7 556.3,795.3 C558.4,798 564.4,799.1 567.6,801.3 C570.7,803.6 574.1,805.3 575.1,808.9 C576,812.4 572.2,818.2 573.1,822.6 C573.9,827 576.4,831.8 580.1,835.1 C583.7,838.5 589.7,840.6 595.1,842.7 C600.5,844.7 606.8,846 612.6,847.7 C618.5,849.3 624.7,851 630.2,852.7 C635.6,854.3 640.2,855.2 645.2,857.7 C650.2,860.2 656,864.4 660.2,867.7 C664.4,871 667.7,874 670.2,877.7 C672.7,881.5 674.6,886.1 675.2,890.2 C675.8,894.4 675.6,899 674,902.7 C672.3,906.5 669.2,909.8 665.2,912.8 C661.2,915.7 655.2,917.3 650.2,920.3 C645.2,923.2 640.2,927.4 635.2,930.3 C630.2,933.2 626,936.3 620.1,937.8 C614.3,939.3 606.8,939 600.1,939 C593.4,939 586.8,938.4 580.1,937.8 C573.4,937.2 565.9,936.1 560,935.3 C554.2,934.5 550,933.6 545,932.8 C540,932 528.6,929.2 530,930.3 C531.4,931.3 551.8,938 553.2,939 C554.6,940.1 541.9,938 538.2,936.5 C534.4,935.1 531.5,933 530.7,930.3 C529.8,927.6 533.6,922.8 533.2,920.3 C532.7,917.8 531.5,916.3 528.2,915.3 C524.8,914.2 519,914.4 513.1,914 C507.3,913.6 497.7,914.2 493.1,912.8 C488.5,911.3 489.3,907.3 485.6,905.2 C481.8,903.2 475.6,901.9 470.6,900.2 C465.6,898.6 457.2,897.3 455.5,895.2 C453.9,893.1 461.4,890 460.6,887.7 C459.7,885.4 451,883.3 450.5,881.5 C450.1,879.6 454.7,878.3 458.1,876.5 C461.4,874.6 467.2,872.5 470.6,870.2 C473.9,867.9 474.7,865.2 478.1,862.7 C481.4,860.2 486,857.7 490.6,855.2 C495.2,852.7 501.5,850.2 505.6,847.7 C509.8,845.2 513.6,842.7 515.6,840.2 C517.7,837.6 517.3,835.6 518.1,832.6 C519,829.7 521.5,825.5 520.6,822.6 C519.8,819.7 514.8,818 513.1,815.1 C511.5,812.2 509,808.4 510.6,805.1 C512.3,801.8 520.9,798.4 523.1,795.1 C525.4,791.7 523.6,788 524.4,785.1 C525.2,782.1 525.9,779.6 528.2,777.6 C530.5,775.5 538.6,773.4 538.2,772.5 C537.8,771.7 528.2,774 525.7,772.5 C523.1,771.1 521.1,765.7 523.1,763.8Z"/>
<path d="M1010,840.2 C1012.2,838.9 998.9,843.1 993.2,845.2 C987.5,847.2 981.9,850.2 975.7,852.7 C969.4,855.2 961.5,857.7 955.6,860.2 C949.8,862.7 944.8,865.2 940.6,867.7 C936.4,870.2 934.8,872.7 930.6,875.2 C926.4,877.7 920.6,880.6 915.6,882.7 C910.6,884.8 905.6,886.1 900.6,887.7 C895.5,889.4 889.7,890.6 885.5,892.7 C881.4,894.8 878.4,897.3 875.5,900.2 C872.6,903.2 870.9,906.9 868,910.3 C865.1,913.6 860.1,916.9 858,920.3 C855.9,923.6 854.7,927.8 855.5,930.3 C856.3,932.8 861.3,932.8 863,935.3 C864.7,937.8 862.6,942.8 865.5,945.3 C868.4,947.8 875.5,948.6 880.5,950.3 C885.5,952 895.5,954.1 895.5,955.3 C895.5,956.6 886,957 880.5,957.8 C875.1,958.7 868.4,959.1 863,960.3 C857.6,961.6 851.7,963.7 848,965.3 C844.2,967 840,968.5 840.5,970.3 C840.9,972.2 846.3,974.9 850.5,976.6 C854.7,978.3 859.7,979.3 865.5,980.4 C871.3,981.4 878.9,982.2 885.5,982.9 C892.2,983.5 898.9,983.7 905.6,984.1 C912.2,984.5 918.1,985 925.6,985.4 C933.1,985.8 942.3,986.6 950.6,986.6 C959,986.6 969.9,987.9 975.7,985.4 C981.4,982.9 981,973.1 985,971.6 C989.1,970.1 994.2,975.4 1000,976.6 C1005.9,977.9 1013.4,978.3 1020.1,979.1 C1026.8,979.9 1033.4,980.8 1040.1,981.6 C1046.8,982.4 1053.9,984.1 1060.1,984.1 C1066.4,984.1 1073.5,983.1 1077.7,981.6 C1081.8,980.2 1081.4,976.8 1085.2,975.4 C1088.9,973.9 1096,974.5 1100.2,972.8 C1104.4,971.2 1107.3,967.8 1110.2,965.3 C1113.1,962.8 1114.4,960.3 1117.7,957.8 C1121.1,955.3 1126.1,952.8 1130.2,950.3 C1134.4,947.8 1138.6,945.1 1142.8,942.8 C1146.9,940.5 1151.1,938.8 1155.3,936.5 C1159.5,934.2 1163.6,931.7 1167.8,929 C1172,926.3 1176.6,923 1180.3,920.3 C1184.1,917.6 1187.8,915.3 1190.3,912.8 C1192.8,910.3 1195.3,907.8 1195.3,905.2 C1195.3,902.7 1193.3,900.2 1190.3,897.7 C1187.4,895.2 1182,892.3 1177.8,890.2 C1173.6,888.1 1168.6,887.7 1165.3,885.2 C1162,882.7 1159.5,878.5 1157.8,875.2 C1156.1,871.9 1156.9,868.5 1155.3,865.2 C1153.6,861.8 1151.5,858.1 1147.8,855.2 C1144,852.3 1138.2,850.2 1132.7,847.7 C1127.3,845.2 1121.5,842 1115.2,840.2 C1109,838.3 1101.9,837.7 1095.2,836.4 C1088.5,835.1 1081.8,833 1075.2,832.1 C1068.5,831.3 1061.8,830.9 1055.1,831.4 C1048.5,831.9 1041.8,833.9 1035.1,835.1 C1028.4,836.4 1021.7,837.2 1015.1,838.9 C1008.4,840.6 1000.9,842.9 995,845.2 C989.2,847.5 977.5,853.5 980,852.7 C982.5,851.8 1007.8,841.4 1010,840.2Z"/>
<path d="M1385.6,735.3 C1384.8,733.2 1388.1,728.2 1390.6,725.2 C1393.1,722.3 1397.3,720 1400.6,717.7 C1404,715.4 1406.5,713.1 1410.7,711.5 C1414.8,709.9 1421.1,708.8 1425.7,708.2 C1430.3,707.6 1435.8,708.6 1438.2,707.7 C1440.6,706.8 1437.2,704.3 1440,702.7 C1442.9,701.1 1450.1,698.8 1455.1,698.2 C1460.1,697.6 1466.1,697.8 1470.1,699 C1474.1,700.1 1477.6,702.5 1478.9,705.2 C1480.1,707.9 1478.6,711.9 1477.6,715.2 C1476.6,718.6 1475.5,722.3 1472.6,725.2 C1469.7,728.2 1464.7,731.1 1460.1,732.8 C1455.5,734.4 1450.1,734.3 1445.1,735.3 C1440,736.2 1434.2,737.6 1430,738.3 C1425.9,738.9 1424.1,739.5 1420,739 C1416,738.5 1409.7,735.5 1405.7,735.3 C1401.6,735.1 1399,737.8 1395.6,737.8 C1392.3,737.8 1386.5,737.3 1385.6,735.3Z"/>
<path d="M1505.1,856.4 C1505.1,853.3 1511,848.7 1515.2,845.2 C1519.3,841.6 1525.2,838.7 1530.2,835.1 C1535.2,831.6 1540.2,827.2 1545.2,823.9 C1550.2,820.5 1555.2,818.2 1560.2,815.1 C1565.2,812 1570.2,808.4 1575.2,805.1 C1580.3,801.8 1585.3,797.8 1590.3,795.1 C1595.3,792.4 1600.3,790.3 1605.3,788.8 C1610.3,787.4 1615.3,788.2 1620.3,786.3 C1625.3,784.4 1630.3,780.1 1635.3,777.6 C1640.3,775.1 1645.4,773.2 1650.4,771.3 C1655.4,769.4 1660.4,766.9 1665.4,766.3 C1670.4,765.7 1675.4,767.1 1680.4,767.5 C1685.4,768 1690.4,769 1695.4,768.8 C1700.4,768.6 1705.4,767.3 1710.5,766.3 C1715.5,765.2 1721.3,763.2 1725.5,762.5 C1729.6,761.8 1732.6,761.2 1735.5,762 C1738.4,762.9 1739.2,766 1743,767.5 C1746.8,769.1 1753,770 1758,771.3 C1763,772.5 1773,775.1 1773,775.1 L1660.4,895.2 C1660.4,895.2 1642,885 1635.3,882.7 C1628.7,880.4 1626.2,881.5 1620.3,881.5 C1614.5,881.4 1607,882 1600.3,882.2 C1593.6,882.4 1586.9,882.8 1580.3,882.7 C1573.6,882.6 1566.1,882.7 1560.2,881.5 C1554.4,880.2 1550.2,877.1 1545.2,875.2 C1540.2,873.3 1535.2,872.1 1530.2,870.2 C1525.2,868.3 1519.3,866.2 1515.2,863.9 C1511,861.6 1505.1,859.6 1505.1,856.4Z"/>
</g>
<g fill="#ffffff">
<path d="M321.6,269.7 C322,268.3 326,264.2 329.1,261.5 C332.2,258.7 337.6,254.2 340.4,253.2 C343.2,252.2 346.3,253.8 345.9,255.7 C345.5,257.6 341.1,262.3 337.9,264.7 C334.7,267.1 329.3,269.4 326.6,270.2 C323.9,271.1 321.2,271.2 321.6,269.7Z"/>
<path d="M1170.3,231.4 C1170.7,229.3 1177,226.6 1180.3,226.4 C1183.7,226.2 1187.8,228.5 1190.3,230.2 C1192.8,231.8 1195.8,234.7 1195.3,236.4 C1194.9,238.2 1190.7,240.3 1187.8,240.7 C1184.9,241.1 1180.7,240.5 1177.8,238.9 C1174.9,237.4 1169.9,233.5 1170.3,231.4Z"/>
<path d="M1432.5,217.6 C1434.8,216.5 1443.4,217.2 1447.6,218.1 C1451.7,219.1 1456.7,221.4 1457.6,223.1 C1458.4,224.9 1455.5,227.8 1452.6,228.9 C1449.6,230 1443.2,230.3 1440,229.7 C1436.9,229 1435,227.2 1433.8,225.2 C1432.5,223.1 1430.2,218.8 1432.5,217.6Z"/>
<path d="M554.4,782.6 C556.1,781.1 562.8,782.6 565.7,783.8 C568.6,785.1 570.9,786.9 572,790.1 C573,793.2 573.9,800.7 572,802.6 C570.1,804.5 563.4,803 560.7,801.3 C558,799.7 556.7,795.7 555.7,792.6 C554.7,789.4 552.8,784 554.4,782.6Z"/>
<path d="M526.9,838.9 C525,837.8 534.4,832.1 538.2,832.1 C541.9,832.1 551.3,837.8 549.4,838.9 C547.6,840 528.8,840 526.9,838.9Z"/>
</g>
<g fill="#74AED2">
<path d="M1186.6,171.3 C1187.4,169.4 1189.7,166.6 1192.8,165.1 C1196,163.5 1200.8,162.9 1205.4,162.1 C1209.9,161.2 1215.4,160.2 1220.4,160.1 C1225.4,159.9 1230.8,160.5 1235.4,161.3 C1240,162.1 1244.6,163.6 1247.9,165.1 C1251.3,166.5 1255.4,168.6 1255.4,170.1 C1255.4,171.5 1251.7,172.4 1247.9,173.8 C1244.2,175.3 1237.5,177.5 1232.9,178.8 C1228.3,180.2 1224.5,181.4 1220.4,182.1 C1216.2,182.8 1212,183.4 1207.9,183.1 C1203.7,182.8 1198.7,181.2 1195.3,180.1 C1192,179 1189.3,177.8 1187.8,176.3 C1186.4,174.9 1185.7,173.2 1186.6,171.3Z"/>
<path d="M582.6,868.9 C582.6,867.7 590.1,869.4 595.1,870.2 C600.1,871 607.4,872.3 612.6,874 C617.8,875.6 624.3,878.1 626.4,880.2 C628.5,882.3 627.9,885.8 625.1,886.5 C622.4,887.1 615.1,885.4 610.1,884 C605.1,882.5 599.7,880.2 595.1,877.7 C590.5,875.2 582.6,870.2 582.6,868.9Z"/>
<path d="M532.5,884.7 C533.3,883.7 537.5,882.1 540,882.7 C542.5,883.3 548.4,887.2 547.5,888.2 C546.7,889.3 537.5,889.6 535,889 C532.5,888.4 531.7,885.8 532.5,884.7Z"/>
<path d="M919.3,912.8 C919.8,910.3 922.9,903.6 925.6,900.2 C928.3,896.9 931.4,894.8 935.6,892.7 C939.8,890.6 945.2,889.4 950.6,887.7 C956.1,886.1 961.9,883.9 968.2,882.7 C974.4,881.5 981.2,881.3 988.2,880.7 C995.2,880.1 1003.1,879.9 1010.1,879 C1017,878 1024.2,876.7 1030.1,875.2 C1035.9,873.7 1040.1,871.4 1045.1,870.2 C1050.1,869 1055.1,868.2 1060.1,868.2 C1065.1,868.2 1071.4,869.7 1075.2,870.2 C1078.9,870.7 1080.2,870.8 1082.7,871.4 C1085.1,872.1 1088.4,871.2 1089.7,874 C1090.9,876.7 1090.5,882.9 1090.2,887.7 C1089.8,892.5 1088.9,898.2 1087.7,902.7 C1086.4,907.3 1084.1,910.7 1082.7,915.3 C1081.2,919.9 1079.7,925.7 1078.9,930.3 C1078.1,934.9 1078.7,939.5 1077.7,942.8 C1076.6,946.1 1076.4,948.6 1072.7,950.3 C1068.9,952 1061.4,952 1055.1,952.8 C1048.9,953.7 1041.8,954.6 1035.1,955.3 C1028.4,956.1 1021.7,956.7 1015.1,957.3 C1008.4,958 999.1,958.8 995,959.1 C991,959.4 994.8,959.3 990.7,959.1 C986.6,958.9 976.9,958.5 970.7,957.8 C964.4,957.2 957.3,957 953.1,955.3 C949,953.7 946.5,950.7 945.6,947.8 C944.8,944.9 948.1,941.1 948.1,937.8 C948.1,934.5 947.7,930.7 945.6,927.8 C943.5,924.9 939.4,922.4 935.6,920.3 C931.9,918.2 925.8,916.5 923.1,915.3 C920.4,914 918.9,915.3 919.3,912.8Z"/>
<path d="M1565.2,842.7 C1566.1,839.7 1571.1,837.6 1575.2,835.1 C1579.4,832.6 1584.4,829.5 1590.3,827.6 C1596.1,825.8 1603.6,824.7 1610.3,823.9 C1617,823 1624.9,823.2 1630.3,822.6 C1635.8,822 1639.5,821.8 1642.8,820.1 C1646.2,818.5 1647.4,815.1 1650.4,812.6 C1653.3,810.1 1657,807.8 1660.4,805.1 C1663.7,802.4 1666.2,798.6 1670.4,796.3 C1674.6,794 1679.6,792.7 1685.4,791.3 C1691.3,789.9 1698.8,788.4 1705.4,788.1 C1712.1,787.8 1719.2,789.2 1725.5,789.6 C1731.7,790 1742.2,789.4 1743,790.6 C1743.8,791.7 1735.1,794.5 1730.5,796.3 C1725.9,798.1 1719.6,799.5 1715.5,801.3 C1711.3,803.2 1708.8,805.7 1705.4,807.6 C1702.1,809.5 1696.7,810.9 1695.4,812.6 C1694.2,814.3 1699.6,815.5 1697.9,817.6 C1696.3,819.7 1690,823 1685.4,825.1 C1680.8,827.2 1675.4,828.3 1670.4,830.1 C1665.4,832 1660.4,834.3 1655.4,836.4 C1650.4,838.5 1645.4,840.4 1640.3,842.7 C1635.3,844.9 1630.3,847.9 1625.3,850.2 C1620.3,852.5 1615.3,854.8 1610.3,856.4 C1605.3,858.1 1600.3,859.8 1595.3,860.2 C1590.3,860.6 1584.4,860.2 1580.3,858.9 C1576.1,857.7 1572.7,855.4 1570.2,852.7 C1567.7,850 1564.4,845.6 1565.2,842.7Z"/>
</g>
<g fill="#E6866E">
<path d="M182.6,312.5 C197,301 191.2,318.4 193.9,318.8 C196.6,319.2 196.6,315.2 198.9,315 C201.2,314.8 204.5,316.3 207.7,317.5 C210.8,318.8 214.8,321.1 217.7,322.5 C220.6,324 223.5,324.8 225.2,326.3 C226.9,327.8 227.9,329.6 227.7,331.3 C227.5,333 225,335.3 224,336.3 C222.9,337.4 221.4,336.9 221.4,337.6 C221.4,338.2 224,338.8 224,340.1 C224,341.3 222.1,343 221.4,345.1 C220.8,347.2 220.4,350.1 220.2,352.6 C220,355.1 220.4,358 220.2,360.1 C220,362.2 220.2,363.8 218.9,365.1 C217.7,366.4 215.2,366.6 212.7,367.6 C210.2,368.6 206.8,369.3 203.9,371.4 C201,373.4 197.5,377 195.2,380.1 C192.9,383.3 190.8,387.2 190.1,390.1 C189.5,393.1 190.6,395.4 191.4,397.7 C192.2,399.9 195.4,402.5 195.2,403.9 C194.9,405.4 192.2,405.4 190.1,406.4 C188.1,407.5 184.9,408.7 182.6,410.2 C180.3,411.6 178.5,412.9 176.4,415.2 C174.3,417.5 172,420.6 170.1,423.9 C168.2,427.2 166.4,432.2 165.1,435 C163.9,437.7 162.6,440.2 162.6,440.2 L107.5,440.2 L107.5,387.6 C107.5,387.6 168.2,324 182.6,312.5Z"/>
<path d="M335,328.8 C332.9,329.2 329.5,330.5 326.6,331.3 C323.8,332.1 321,332.8 317.8,333.8 C314.7,334.8 310.8,336.3 307.8,337.6 C304.9,338.8 303.2,339.9 300.3,341.3 C297.4,342.8 293.6,344.4 290.3,346.3 C287,348.2 283,350.5 280.3,352.6 C277.6,354.7 276.3,357.2 274,358.8 C271.7,360.5 269.2,361.1 266.5,362.6 C263.8,364.1 260.9,366.6 257.8,367.6 C254.6,368.6 250.9,368.9 247.7,368.9 C244.6,368.9 241.7,367.4 239,367.6 C236.3,367.8 233.8,368.9 231.5,370.1 C229.2,371.4 226.9,373 225.2,375.1 C223.5,377.2 222.6,380.5 221.4,382.6 C220.3,384.7 219.4,385.3 218.3,387.6 C217.3,389.9 216.1,393.7 215.2,396.4 C214.2,399.1 213.9,402 212.7,403.9 C211.4,405.8 209.1,406.4 207.7,407.7 C206.2,408.9 205.2,410.4 203.9,411.4 C202.7,412.5 201.3,413.2 200.2,413.9 C199,414.7 197.2,414.8 197,415.8 C196.8,416.8 198.2,418.6 198.9,420.2 C199.6,421.8 201.2,423.5 201.4,425.2 C201.6,426.9 200.8,428.6 200.2,430.2 C199.5,431.8 198.1,433.3 197.7,435 C197.2,436.6 197.7,440.2 197.7,440.2 L339.1,440.2 L339.1,328.8 C339.1,328.8 337.1,328.4 335,328.8Z"/>
<path d="M315.3,332.8 C319.5,314.3 332,327.6 340.4,325.3 C348.7,323 357.1,321.1 365.4,319 C373.8,316.9 382.1,314.4 390.5,312.8 C398.8,311.1 407.1,310.1 415.5,309 C423.8,308 434.7,306.3 440.5,306.5 C446.4,306.7 447.6,308.4 450.5,310.3 C453.5,312.1 455.5,314.2 458.1,317.5 C460.6,320.8 461.8,326.9 465.6,330 C469.3,333.2 474.7,334.8 480.6,336.3 C486.4,337.8 491.4,339.9 500.6,338.8 C509.8,337.7 535.7,329.5 535.7,329.5 L535.7,580.4 L77.5,580.4 L77.5,436.5 L315.3,436.5 C315.3,436.5 311.2,351.3 315.3,332.8Z"/>
<path d="M480.6,178.8 C480.6,177.4 485.6,176.3 490.6,175.1 C495.6,173.8 504,172.8 510.6,171.3 C517.3,169.9 523.6,168 530.7,166.3 C537.8,164.6 549.1,164 553.2,161.3 C557.3,158.6 550.6,152.1 555,150 C559.5,148 571.7,149 580.1,148.8 C588.4,148.6 596.8,148.6 605.1,148.8 C613.5,149 621.8,149.2 630.2,150 C638.5,150.9 647.7,152.3 655.2,153.8 C662.7,155.3 669.8,157.1 675.2,158.8 C680.6,160.5 685.2,162.3 687.7,163.8 C690.2,165.3 691.5,166.1 690.2,167.6 C689,169 684.4,171.3 680.2,172.6 C676.1,173.8 669.4,174 665.2,175.1 C661,176.1 657.7,177.2 655.2,178.8 C652.7,180.5 652.7,183.2 650.2,185.1 C647.7,187 644.3,188.6 640.2,190.1 C636,191.6 629.7,192.2 625.1,193.9 C620.6,195.5 617.6,198.4 612.6,200.1 C607.6,201.8 601.4,203 595.1,203.9 C588.8,204.7 581.7,204.9 575.1,205.1 C568.4,205.3 560.9,205.7 555,205.1 C549.2,204.5 545.7,200.3 540,201.4 C534.3,202.4 525.1,210.3 520.6,211.4 C516.2,212.4 514.8,210.3 513.1,207.6 C511.5,204.9 512.7,198.9 510.6,195.1 C508.5,191.3 504,187 500.6,185.1 C497.3,183.2 493.9,184.9 490.6,183.8 C487.3,182.8 480.6,180.3 480.6,178.8Z"/>
<path d="M953.1,191.3 C954,190 960.2,188.7 965.7,188.1 C971.1,187.5 979.4,187.2 985.7,187.6 C991.9,188 1001.5,189.3 1003.2,190.6 C1004.9,191.9 1000.3,194.4 995.7,195.6 C991.1,196.8 981.5,197.5 975.7,197.6 C969.8,197.7 964.4,197.4 960.6,196.4 C956.9,195.3 952.3,192.7 953.1,191.3Z"/>
<path d="M525,331.1 C525,331.1 525,330.3 530,329.8 C535,329.3 547.5,328.7 555,328.3 C562.5,327.9 568.8,328 575.1,327.3 C581.3,326.6 586.8,325.1 592.6,324 C598.4,323 603.9,321.9 610.1,320.8 C616.4,319.7 622.6,318.3 630.2,317.3 C637.7,316.3 646.8,315.7 655.2,314.8 C663.5,313.8 671.9,312.9 680.2,311.5 C688.6,310.2 696.9,307.9 705.3,306.5 C713.6,305.1 722,304.2 730.3,303.3 C738.6,302.3 749.5,301.5 755.3,301 C761.2,300.5 761.2,299.8 765.4,300.3 C769.5,300.8 775,302.6 780.4,304 C785.8,305.5 794.4,307.6 797.9,309 C801.4,310.4 798.3,312.3 801.7,312.3 C805,312.3 813.1,309.9 817.9,309 C822.7,308.2 827.3,307 830.5,307.3 C833.6,307.6 834.8,309 836.7,310.8 C838.6,312.5 838.6,315.8 841.7,317.8 C844.8,319.8 849.9,321.8 855.5,322.8 C861.1,323.8 869.7,324.5 875.5,324 C881.4,323.6 886.5,323.9 890.5,320.3 C894.6,316.7 897.8,306 900,302.6 C902.2,299.3 901.7,301 903.8,300.1 C905.8,299.3 910.6,299.3 912.5,297.6 C914.4,296 914.4,293 915,290.1 C915.6,287.2 915,282.8 916.3,280.1 C917.5,277.4 920.2,276.1 922.5,273.8 C924.8,271.5 927.5,268.4 930,266.3 C932.6,264.2 935.3,262.6 937.6,261.3 C939.9,260.1 941.3,259.3 943.8,258.8 C946.3,258.3 949.9,258 952.6,258.2 C955.3,258.4 959.3,258.9 960.1,260.1 C960.9,261.2 957,263.6 957.6,265.1 C958.2,266.5 963.6,267.7 963.8,268.8 C964.1,270 960.7,271.1 958.8,272 C957,272.8 953.8,272.5 952.6,273.8 C951.3,275.2 951.3,277.8 951.3,280.1 C951.3,282.4 951.7,285.9 952.6,287.6 C953.4,289.3 954.3,289.7 956.3,290.1 C958.4,290.5 962,290.3 965.1,290.1 C968.2,289.9 971.8,289.5 975.1,288.9 C978.5,288.2 982.2,287.3 985.1,286.4 C988.1,285.4 990.1,284.3 992.6,283.2 C995.1,282.2 997.9,281.5 1000.2,280.1 C1002.5,278.7 1004.7,276.2 1006.4,275.1 C1008.1,273.9 1008.3,273.9 1010.2,273.2 C1012.1,272.5 1015.2,272.1 1017.7,270.7 C1020.2,269.4 1022.7,267.1 1025.2,265.1 C1027.7,263.1 1030,260.1 1032.7,258.8 C1035.4,257.6 1039.2,258.6 1041.5,257.6 C1043.8,256.5 1045,253.7 1046.5,252.6 C1047.9,251.4 1046.7,251 1050.2,250.7 C1053.8,250.4 1064.9,250.2 1067.8,250.7 C1070.6,251.2 1067.8,252.7 1067.1,253.8 C1066.5,255 1064.7,256.3 1064,257.6 C1063.3,258.8 1062.1,260.2 1062.8,261.3 C1063.4,262.5 1065.3,263.6 1067.8,264.5 C1070.3,265.3 1074.9,265.6 1077.8,266.3 C1080.7,267.1 1082.4,268.3 1085.3,268.8 C1088.2,269.4 1092,269 1095.3,269.5 C1098.6,269.9 1102.6,270.4 1105.3,271.3 C1108,272.3 1110.5,273.7 1111.6,275.1 C1112.7,276.5 1111.9,277.5 1111.8,280 C1111.7,282.5 1111,286.4 1111,290 C1111,293.6 1112.3,298.6 1111.8,301.7 C1111.2,304.8 1108.2,305.6 1107.6,308.4 C1107.1,311.2 1108.6,315.3 1108.4,318.4 C1108.3,321.5 1107.5,324.2 1106.8,326.7 C1106.1,329.2 1105.7,332 1104.3,333.4 C1102.9,334.8 1100.4,334.7 1098.4,335.1 C1096.5,335.5 1093.8,335.4 1092.6,335.9 C1091.3,336.5 1090.6,337.5 1090.9,338.4 C1091.2,339.3 1093.9,339.5 1094.3,341.4 C1094.6,343.4 1093.8,347.8 1093.1,350.1 C1092.4,352.4 1092,354 1090.1,355.1 C1088.2,356.2 1084.5,356.7 1081.7,356.8 C1079,356.9 1076.4,356.2 1073.4,356 C1070.3,355.7 1066.7,354.8 1063.4,355.1 C1060,355.4 1056.1,356.5 1053.4,357.6 C1050.6,358.7 1048.5,359.7 1046.7,361.8 C1044.9,363.9 1043.1,367.4 1042.5,370.2 C1041.9,372.9 1041.8,376.5 1043.3,378.5 C1044.9,380.4 1049.9,380.2 1051.7,381.8 C1053.5,383.5 1052.8,386.3 1054.2,388.5 C1055.6,390.7 1057.4,393.8 1060,395.2 C1062.7,396.6 1066.4,396.4 1070.1,396.9 C1073.7,397.3 1077.6,397.4 1081.7,397.7 C1085.9,398 1091.2,398.6 1095.1,398.9 C1099,399.1 1102,399.9 1105.1,399.4 C1108.2,398.8 1111.2,396.8 1113.5,395.5 C1115.7,394.3 1117.1,393 1118.5,391.9 C1119.9,390.7 1121,390.2 1121.8,388.5 C1122.6,386.8 1122.4,384.1 1123.5,381.8 C1124.6,379.6 1126.5,377.1 1128.5,375.2 C1130.4,373.2 1133.2,371.8 1135.2,370.2 C1137.1,368.5 1139.2,367.1 1140.2,365.1 C1141.1,363.2 1141,360.7 1141,358.5 C1141,356.2 1140,353.5 1140.2,351.8 C1140.3,350.1 1140.7,349.8 1141.8,348.4 C1142.9,347.1 1145.5,345.1 1146.8,343.4 C1148.2,341.8 1148.5,339.7 1150.2,338.4 C1151.9,337.2 1154.6,336.8 1156.9,335.9 C1159.1,335.1 1161,334 1163.5,333.4 C1166,332.9 1169.7,332.3 1171.9,332.6 C1174.1,332.9 1175.2,334.1 1176.9,335.1 C1178.6,336.1 1180.7,337.1 1181.9,338.4 C1183.2,339.8 1183.4,343 1184.4,343.1 C1185.4,343.2 1186.4,340.5 1187.7,339.3 C1189.1,338.1 1191.6,337 1192.8,335.9 C1193.9,334.9 1193.2,333.6 1194.4,333.1 C1195.7,332.5 1198.2,332.6 1200.3,332.6 C1202.4,332.6 1204.4,333.1 1206.9,333.1 C1209.4,333.1 1212.9,333.1 1215.3,332.6 C1217.7,332.1 1219.5,330.9 1221.1,330.1 C1222.8,329.2 1223.8,328.6 1225.3,327.6 C1226.8,326.5 1228.8,324.7 1230.3,323.7 C1231.8,322.8 1232.8,322 1234.5,321.7 C1236.2,321.5 1238.2,321.8 1240.3,322.1 C1242.4,322.3 1244.8,323 1247,323.4 C1249.2,323.9 1251.2,324.3 1253.7,324.7 C1256.2,325.2 1259.3,325.6 1262,325.9 C1264.8,326.2 1267.9,326.4 1270.4,326.4 C1272.9,326.4 1274.8,326.3 1277.1,325.9 C1279.3,325.5 1281.8,325.2 1283.7,324.2 C1285.7,323.3 1287.2,321.9 1288.7,320.1 C1290.3,318.3 1291.8,315.6 1292.9,313.4 C1294,311.2 1295.4,309.1 1295.4,306.7 C1295.4,304.3 1291.2,300.7 1292.9,299.2 C1294.6,297.7 1300.9,297.8 1305.5,297.8 C1310.1,297.7 1315.9,298 1320.5,299 C1325.1,300.1 1328.9,303.8 1333,304 C1337.2,304.2 1342.6,301.7 1345.6,300.3 C1348.5,298.8 1348.1,295.7 1350.6,295.3 C1353.1,294.8 1356.8,296.7 1360.6,297.8 C1364.3,298.8 1369.3,300.3 1373.1,301.5 C1376.9,302.7 1379.8,303.6 1383.1,304.8 C1386.5,305.9 1389.9,306.8 1393.1,308.3 C1396.4,309.8 1399.9,312 1402.6,313.8 C1405.4,315.6 1406.8,317.1 1409.4,319 C1412,321 1415,323.2 1418.2,325.3 C1421.3,327.4 1423.6,329.8 1428.2,331.6 C1432.8,333.4 1445.7,336.1 1445.7,336.1 L1445.7,580.4 L525,580.4 L525,331.1Z"/>
<path d="M970,187.6 C973.3,187.2 980,186.1 985,186.3 C990,186.6 997.1,187.8 1000,188.8 C1003,189.9 1003.8,191.3 1002.5,192.6 C1001.3,193.9 996.7,195.7 992.5,196.4 C988.4,197 982.1,196.6 977.5,196.4 C972.9,196.1 967.1,196.4 965,195.1 C962.9,193.9 964.2,190.1 965,188.8 C965.8,187.6 966.7,188 970,187.6Z"/>
<path d="M977.5,212.6 C978.8,210.1 985,207.6 990,206.4 C995,205.1 1003.8,204.5 1007.6,205.1 C1011.3,205.7 1013.4,207.8 1012.6,210.1 C1011.7,212.4 1005.9,216.4 1002.5,218.9 C999.2,221.4 995.9,224.7 992.5,225.2 C989.2,225.6 985,223.5 982.5,221.4 C980,219.3 976.3,215.1 977.5,212.6Z"/>
<path d="M1395,317.8 C1395,317.8 1405.8,319 1410,320.3 C1414.2,321.5 1416.7,323.2 1420,325.3 C1423.4,327.4 1425.9,331.1 1430,332.8 C1434.2,334.5 1440,335.1 1445.1,335.3 C1450.1,335.5 1455.5,335.3 1460.1,334.1 C1464.7,332.8 1468.4,329.7 1472.6,327.8 C1476.8,325.9 1481.4,324.5 1485.1,322.8 C1488.9,321.1 1491,318.8 1495.1,317.8 C1499.3,316.7 1506,317.4 1510.2,316.5 C1514.3,315.7 1516,313.8 1520.2,312.8 C1524.3,311.7 1531,310.9 1535.2,310.3 C1539.4,309.7 1542.7,310.7 1545.2,309 C1547.7,307.4 1548.1,302.6 1550.2,300.3 C1552.3,298 1555.2,296.7 1557.7,295.3 C1560.2,293.8 1562.3,291.5 1565.2,291.5 C1568.2,291.5 1572.3,295.5 1575.2,295.3 C1578.2,295 1580.3,291.5 1582.8,290.2 C1585.3,289 1587.3,287.5 1590.3,287.7 C1593.2,288 1596.9,289.8 1600.3,291.5 C1603.6,293.2 1607.4,296.3 1610.3,297.8 C1613.2,299.2 1613.6,299.6 1617.8,300.3 C1622,300.9 1629.9,301.1 1635.3,301.5 C1640.8,301.9 1645.4,302.6 1650.4,302.8 C1655.4,303 1660.4,302.6 1665.4,302.8 C1670.4,303 1675.8,303.2 1680.4,304 C1685,304.9 1687.9,306.6 1692.9,307.8 C1697.9,308.9 1705,309.5 1710.5,310.8 C1715.9,312 1720.5,313.3 1725.5,315.3 C1730.5,317.3 1740.5,322.8 1740.5,322.8 L1835.6,375.1 L1835.6,580.4 L1395,580.4 L1395,317.8Z"/>
<path d="M75,555 L580.7,555 C580.7,555 582.5,639.5 580.7,656.4 C578.9,673.3 573.3,656.2 570,656.4 C566.6,656.6 564.3,657.2 560.7,657.6 C557.1,658.1 552.4,658.3 548.2,658.9 C544,659.5 540.3,660.4 535.7,661.4 C531.1,662.4 524.8,663.9 520.6,665.2 C516.5,666.4 514.8,667.5 510.6,668.9 C506.5,670.4 499.8,672.3 495.6,673.9 C491.4,675.6 488.9,677.1 485.6,678.9 C482.3,680.8 478.9,683.3 475.6,685.2 C472.2,687.1 468.9,688.6 465.6,690.2 C462.2,691.8 458.9,694.1 455.5,694.7 C452.2,695.3 448.9,694.7 445.5,694 C442.2,693.2 438.9,691.7 435.5,690.2 C432.2,688.7 428.8,686.9 425.5,685.2 C422.2,683.5 419.7,682.1 415.5,680.2 C411.3,678.3 405.5,675.8 400.5,673.9 C395.5,672 386.3,670 385.4,668.9 C384.6,667.9 395.5,669.1 395.5,667.7 C395.5,666.2 387.9,662.2 385.4,660.2 C382.9,658.1 380.4,656.8 380.4,655.1 C380.4,653.5 383.4,652.2 385.4,650.1 C387.5,648 394.6,644.1 393,642.6 C391.3,641.2 381.7,641.8 375.4,641.4 C369.2,641 362.1,640.7 355.4,640.1 C348.7,639.6 342,638.3 335.4,638.1 C328.7,637.9 321.6,638.3 315.3,638.9 C309.1,639.4 302,639.9 297.8,641.4 C293.6,642.8 291.6,645.3 290.3,647.6 C289,649.9 289.5,652.6 290.3,655.1 C291.1,657.6 293.2,660.6 295.3,662.7 C297.4,664.7 300.3,665.8 302.8,667.7 C305.3,669.5 309.5,671.8 310.3,673.9 C311.2,676 309.1,677.8 307.8,680.2 C306.6,682.6 306.6,686.9 302.8,688.2 C299.1,689.4 291.6,687.8 285.3,687.7 C279,687.6 271.1,687.7 265.3,687.7 C259.4,687.7 255.2,688.1 250.2,687.7 C245.2,687.3 239.4,686.4 235.2,685.2 C231,683.9 228.1,681.4 225.2,680.2 C222.3,678.9 220.2,677.3 217.7,677.7 C215.2,678.1 213.1,681.2 210.2,682.7 C207.3,684.1 201,684.6 200.2,686.4 C199.3,688.3 203.2,691.2 205.2,694 C207.2,696.7 213,699.7 212.2,703.2 C211.3,706.8 203.6,712.4 200.2,715.2 C196.7,718.1 193.1,721.5 191.4,720.2 C189.7,719 191.6,711.7 190.2,707.7 C188.7,703.8 185.6,698.1 182.6,696.5 C179.7,694.8 176.8,697.6 172.6,697.7 C168.5,697.8 162.2,697.8 157.6,697.2 C153,696.6 148.8,695.5 145.1,694 C141.3,692.4 138.8,689.4 135.1,687.7 C131.3,686 126.1,685 122.5,683.9 C119,682.9 121.7,682.1 113.8,681.4 C105.9,680.8 75,680.2 75,680.2 L75,555Z"/>
<path d="M479.9,555 L1020.7,555 L1020.7,720.2 C1020.7,720.2 1012.5,721.1 1010,720.2 C1007.5,719.4 1008.1,717.7 1005.7,715.2 C1003.3,712.7 999.5,708.3 995.7,705.2 C991.9,702.1 984.8,699 983.2,696.5 C981.5,694 984,692.9 985.7,690.2 C987.4,687.5 990.9,683.9 993.2,680.2 C995.5,676.4 999,671 999.5,667.7 C999.9,664.3 998.8,662 995.7,660.2 C992.6,658.3 987.4,658 980.7,656.4 C974,654.8 964,651.8 955.6,650.6 C947.3,649.5 938.9,649.7 930.6,649.6 C922.3,649.6 913.9,650 905.6,650.1 C897.2,650.3 887.2,650.2 880.5,650.6 C873.8,651.1 866.8,651.3 865.5,652.6 C864.3,654 873.4,656.4 873,658.9 C872.6,661.4 865.5,664.5 863,667.7 C860.5,670.8 858.8,673.9 858,677.7 C857.2,681.4 859.2,688.3 858,690.2 C856.7,692.1 854.2,689.6 850.5,688.9 C846.7,688.3 840.5,687.5 835.5,686.4 C830.5,685.4 825.4,684.1 820.4,682.7 C815.4,681.2 810,679.8 805.4,677.7 C800.8,675.6 797.1,672.5 792.9,670.2 C788.7,667.9 784.1,666.2 780.4,663.9 C776.6,661.6 773.7,658.5 770.4,656.4 C767,654.3 764.5,652 760.3,651.4 C756.2,650.8 750.3,652 745.3,652.6 C740.3,653.3 735.3,655.4 730.3,655.1 C725.3,654.9 720.3,652.6 715.3,651.4 C710.3,650.1 706.1,648.7 700.3,647.6 C694.4,646.6 686.9,645.8 680.2,645.1 C673.5,644.5 666,644.3 660.2,643.9 C654.4,643.5 649.3,642.8 645.2,642.6 C641,642.4 641.8,642 635.2,642.6 C628.5,643.2 615.5,644.1 605.1,646.4 C594.7,648.7 579.7,654.4 572.6,656.4 C565.5,658.4 567.1,657.7 562.5,658.1 C558,658.6 550.4,658.6 545,658.9 C539.6,659.2 536.7,660.2 530,660.2 C523.3,660.2 513.3,658.9 505,658.9 C496.6,658.9 479.9,660.2 479.9,660.2 L479.9,555Z"/>
<path d="M995,555 C995,555 994.4,643.5 995,662.7 C995.7,681.8 999.2,667.2 998.8,670.2 C998.4,673.1 994.8,676.8 992.5,680.2 C990.2,683.5 986.7,687.7 985,690.2 C983.4,692.7 981.3,693.7 982.5,695.2 C983.8,696.7 989.2,697.7 992.5,699 C995.9,700.2 1000.5,700 1002.5,702.7 C1004.6,705.4 1004.4,710.6 1005.1,715.2 C1005.7,719.8 1005.9,726.5 1006.3,730.3 C1006.7,734 1005.3,736 1007.6,737.8 C1009.9,739.5 1015.5,739.7 1020.1,740.8 C1024.7,741.8 1029.3,743.5 1035.1,744 C1040.9,744.6 1048,744 1055.1,744 C1062.2,744 1073.7,745.9 1077.7,744 C1081.6,742.1 1078.9,736.3 1078.9,732.8 C1078.9,729.2 1078.7,726.1 1077.7,722.7 C1076.6,719.4 1072.2,714 1072.7,712.7 C1073.1,711.5 1076.4,714 1080.2,715.2 C1083.9,716.5 1090.2,719 1095.2,720.2 C1100.2,721.5 1105.2,721.9 1110.2,722.7 C1115.2,723.6 1119.6,724.6 1125.2,725.2 C1130.9,725.9 1141.1,727.8 1144,726.5 C1146.9,725.2 1143.8,720.9 1142.8,717.7 C1141.7,714.6 1139.2,711.9 1137.8,707.7 C1136.3,703.5 1135.2,697.3 1134,692.7 C1132.7,688.1 1131.3,683.5 1130.2,680.2 C1129.2,676.8 1126.1,673.1 1127.7,672.7 C1129.4,672.3 1135.7,675.8 1140.3,677.7 C1144.8,679.6 1150.5,683.1 1155.3,683.9 C1160.1,684.8 1168.2,684.1 1169,682.7 C1169.9,681.2 1164.2,678.1 1160.3,675.2 C1156.3,672.3 1149.9,668.1 1145.3,665.2 C1140.7,662.2 1133.2,659.7 1132.7,657.6 C1132.3,655.6 1138.6,653.8 1142.8,652.6 C1146.9,651.5 1153.2,650.8 1157.8,650.6 C1162.4,650.4 1166.1,650.2 1170.3,651.4 C1174.5,652.6 1179.1,655.4 1182.8,657.6 C1186.6,659.9 1189.9,662.2 1192.8,665.2 C1195.8,668.1 1198.1,671.4 1200.3,675.2 C1202.6,678.9 1204.9,683.5 1206.6,687.7 C1208.3,691.9 1209.3,696 1210.4,700.2 C1211.4,704.4 1212.9,709 1212.9,712.7 C1212.9,716.5 1209.1,719.4 1210.4,722.7 C1211.6,726.1 1216.2,730.7 1220.4,732.8 C1224.5,734.8 1230,735.1 1235.4,735.3 C1240.8,735.5 1248.3,736.1 1252.9,734 C1257.5,731.9 1260.4,725.9 1262.9,722.7 C1265.4,719.6 1265.9,717.7 1267.9,715.2 C1270,712.7 1272.5,709.8 1275.5,707.7 C1278.4,705.6 1282.6,704.8 1285.5,702.7 C1288.4,700.6 1292.1,697.7 1293,695.2 C1293.8,692.7 1291.5,690.2 1290.5,687.7 C1289.4,685.2 1287.4,682.7 1286.7,680.2 C1286.1,677.7 1285.3,674.3 1286.7,672.7 C1288.2,671 1291.9,671 1295.5,670.2 C1299,669.3 1303.8,668.3 1308,667.7 C1312.2,667 1316.4,666.4 1320.5,666.4 C1324.7,666.4 1329.7,667 1333,667.7 C1336.4,668.3 1338.1,670.6 1340.6,670.2 C1343.1,669.7 1346.4,667 1348.1,665.2 C1349.7,663.3 1347.6,660.6 1350.6,658.9 C1353.5,657.2 1360.6,656.2 1365.6,655.1 C1370.6,654.1 1375.6,653.9 1380.6,652.6 C1385.6,651.4 1390.6,649.1 1395.6,647.6 C1400.6,646.2 1405.2,645.1 1410.7,643.9 C1416.1,642.6 1421.6,641.2 1428.2,640.1 C1434.7,639.1 1444.5,638 1450,637.6 C1455.4,637.2 1460.7,637.6 1460.7,637.6 L1460.7,555 L995,555Z"/>
<path d="M1395,555 C1395,555 1392.5,631.1 1395,646.4 C1397.5,661.6 1405,647.4 1410,646.4 C1415,645.3 1419.2,641.6 1425,640.1 C1430.9,638.7 1437.5,638 1445.1,637.6 C1452.6,637.3 1462.6,637.5 1470.1,638.1 C1477.6,638.7 1483.4,639.8 1490.1,641.4 C1496.8,643 1503.9,645.1 1510.2,647.6 C1516.4,650.1 1522.3,653.5 1527.7,656.4 C1533.1,659.3 1538.1,662 1542.7,665.2 C1547.3,668.3 1550.6,671.8 1555.2,675.2 C1559.8,678.5 1565.2,681.8 1570.2,685.2 C1575.2,688.5 1580.3,692.3 1585.3,695.2 C1590.3,698.1 1594.4,700.7 1600.3,702.7 C1606.1,704.7 1613.6,706.6 1620.3,707.2 C1627,707.8 1634.5,707 1640.3,706.5 C1646.2,705.9 1651.2,705.6 1655.4,704 C1659.5,702.3 1662,699.4 1665.4,696.5 C1668.7,693.5 1671.6,690 1675.4,686.4 C1679.2,682.9 1683.7,678.7 1687.9,675.2 C1692.1,671.6 1696.3,668.3 1700.4,665.2 C1704.6,662 1708.8,658.4 1713,656.4 C1717.1,654.4 1720.5,653.4 1725.5,653.1 C1730.5,652.8 1737.2,653.6 1743,654.6 C1748.8,655.7 1755.1,658.1 1760.5,659.6 C1766,661.2 1771,662.8 1775.5,663.9 C1780.1,665 1784.5,664.5 1788.1,666.4 C1791.6,668.3 1793.9,672.5 1796.8,675.2 C1799.8,677.9 1799.1,681.4 1805.6,682.7 C1812.1,683.9 1835.6,682.7 1835.6,682.7 L1835.6,555 L1395,555Z"/>
<path d="M1210.4,727.8 C1211.4,726.1 1216.2,732.8 1220.4,734 C1224.5,735.3 1230,735.3 1235.4,735.3 C1240.8,735.3 1247.9,732.8 1252.9,734 C1257.9,735.3 1261.7,740.7 1265.4,742.8 C1269.2,744.9 1272.1,746.3 1275.5,746.5 C1278.8,746.7 1281.3,744.2 1285.5,744 C1289.6,743.8 1295.5,744.9 1300.5,745.3 C1305.5,745.7 1311.8,746.9 1315.5,746.5 C1319.3,746.1 1320.5,743.2 1323,742.8 C1325.5,742.4 1328,743.6 1330.5,744 C1333,744.4 1335.1,744.2 1338.1,745.3 C1341,746.3 1345.1,748.2 1348.1,750.3 C1351,752.4 1353.1,755.7 1355.6,757.8 C1358.1,759.9 1360.6,760.7 1363.1,762.8 C1365.6,764.9 1368.5,767.8 1370.6,770.3 C1372.7,772.8 1373.5,775.7 1375.6,777.8 C1377.7,779.9 1380.6,781.2 1383.1,782.8 C1385.6,784.5 1388.5,786.4 1390.6,787.8 C1392.7,789.3 1393.1,792.4 1395.6,791.6 C1398.1,790.8 1401.5,783.9 1405.7,782.8 C1409.8,781.8 1416.1,784.7 1420.7,785.3 C1425.3,786 1432.5,786.6 1433.2,786.6 C1433.9,786.5 1423.9,784.7 1425,785.1 C1426.2,785.4 1438.4,786.7 1440,788.8 C1441.7,790.9 1436.3,794.9 1435,797.6 C1433.8,800.3 1430.7,803.8 1432.5,805.1 C1434.4,806.4 1445.9,804.3 1446.3,805.6 C1446.7,806.9 1438.2,809.8 1435,812.6 C1431.9,815.4 1429.6,818.9 1427.5,822.6 C1425.4,826.4 1423.8,831 1422.5,835.1 C1421.3,839.3 1421.1,843.5 1420,847.7 C1419,851.8 1417.8,857.7 1416.3,860.2 C1414.7,862.7 1412.8,860.2 1410.7,862.7 C1408.5,865.2 1404.2,871 1403.1,875.2 C1402.1,879.4 1404,883.5 1404.4,887.7 C1404.8,891.9 1407.9,896.5 1405.7,900.2 C1403.4,904 1395.6,907.8 1390.6,910.3 C1385.6,912.8 1379.8,912.8 1375.6,915.3 C1371.4,917.8 1369.8,922.8 1365.6,925.3 C1361.4,927.8 1355.6,928.2 1350.6,930.3 C1345.6,932.4 1340.1,935.7 1335.5,937.8 C1331,939.9 1326.4,940.7 1323,942.8 C1319.7,944.9 1318.4,948.6 1315.5,950.3 C1312.6,952 1308.8,952.6 1305.5,952.8 C1302.2,953 1298.4,953.2 1295.5,951.6 C1292.6,949.9 1290.1,945.9 1288,942.8 C1285.9,939.7 1284.2,936.5 1283,932.8 C1281.7,929 1281.7,924 1280.5,920.3 C1279.2,916.5 1277.1,913.6 1275.5,910.3 C1273.8,906.9 1270.7,903.6 1270.5,900.2 C1270.2,896.9 1274.2,893.6 1274.2,890.2 C1274.2,886.9 1272.3,883.1 1270.5,880.2 C1268.6,877.3 1265.2,875.4 1262.9,872.7 C1260.6,870 1257.1,866.9 1256.7,863.9 C1256.3,861 1260.6,857.9 1260.4,855.2 C1260.2,852.5 1258.8,850.2 1255.4,847.7 C1252.1,845.2 1245.4,842.4 1240.4,840.2 C1235.4,837.9 1230.4,835.1 1225.4,833.9 C1220.4,832.6 1214.3,833.5 1210.4,832.6 C1206.4,831.8 1202.4,830.6 1201.6,828.9 C1200.8,827.2 1202.2,824.5 1205.4,822.6 C1208.5,820.7 1215.8,819.5 1220.4,817.6 C1225,815.7 1229.1,813.9 1232.9,811.4 C1236.6,808.9 1241.9,805.7 1242.9,802.6 C1244,799.5 1239.4,796.3 1239.2,792.6 C1238.9,788.8 1241.4,784.2 1241.7,780.1 C1241.9,775.9 1241.4,771.3 1240.4,767.5 C1239.4,763.8 1237.9,760.7 1235.4,757.5 C1232.9,754.4 1229.3,751.1 1225.4,748.8 C1221.4,746.5 1213.5,744.5 1211.6,743.8 C1209.7,743 1214.3,746.7 1214.1,744 C1213.9,741.4 1209.3,729.4 1210.4,727.8Z"/>
<path d="M775.4,722.7 C776.2,721.5 785.4,722.3 790.4,722.7 C795.4,723.2 800.4,723.6 805.4,725.2 C810.4,726.9 815,730.7 820.4,732.8 C825.9,734.8 833,735.3 838,737.8 C843,740.3 845.9,744.5 850.5,747.8 C855.1,751.1 861.3,754.2 865.5,757.5 C869.7,760.8 872.2,763.4 875.5,767.5 C878.9,771.7 883,778 885.5,782.6 C888,787.2 888.5,790.9 890.5,795.1 C892.6,799.3 895.5,803.8 898.1,807.6 C900.6,811.4 903.7,814.3 905.6,817.6 C907.4,821 909.3,824.5 909.3,827.6 C909.3,830.8 908.3,833.9 905.6,836.4 C902.9,838.9 897.2,840.4 893,842.7 C888.9,844.9 884.3,847.7 880.5,850.2 C876.8,852.7 874.7,855.4 870.5,857.7 C866.3,860 860.5,862.1 855.5,863.9 C850.5,865.8 845.5,867.1 840.5,868.9 C835.5,870.8 830,873.1 825.4,875.2 C820.9,877.3 816.3,879.6 812.9,881.5 C809.6,883.3 807.3,884.2 805.4,886.5 C803.5,888.8 804.2,893.8 801.7,895.2 C799.2,896.7 793.9,895.9 790.4,895.2 C786.8,894.6 784.5,892.3 780.4,891.5 C776.2,890.6 770.4,890.9 765.4,890.2 C760.3,889.6 754.5,889 750.3,887.7 C746.2,886.5 743.2,884.8 740.3,882.7 C737.4,880.6 734.9,878.1 732.8,875.2 C730.7,872.3 729.5,868.1 727.8,865.2 C726.1,862.3 724.9,860.2 722.8,857.7 C720.7,855.2 717.2,852 715.3,850.2 C713.4,848.3 710.7,848.3 711.5,846.4 C712.4,844.5 717.2,841.6 720.3,838.9 C723.4,836.2 727,833.3 730.3,830.1 C733.6,827 736.1,822.4 740.3,820.1 C744.5,817.8 750.3,817.6 755.3,816.4 C760.3,815.1 767,813.7 770.4,812.6 C773.7,811.6 772.9,811.8 775.4,810.1 C777.9,808.4 782,804.3 785.4,802.6 C788.7,800.9 792.5,801.3 795.4,800.1 C798.3,798.8 800.4,797.2 802.9,795.1 C805.4,793 807.9,790.1 810.4,787.6 C812.9,785.1 816.1,783 817.9,780.1 C819.8,777.1 821.7,773 821.7,770 C821.7,767.1 819.8,765 817.9,762.5 C816.1,760 812.9,757.5 810.4,755 C807.9,752.5 805,750 802.9,747.5 C800.8,745.1 800.8,743.1 797.9,740.3 C795,737.4 789.1,733.2 785.4,730.3 C781.6,727.3 774.5,724 775.4,722.7Z"/>
</g>
<g fill="#F9CDB7">
<path d="M175.1,416.4 C181.2,416.6 197.2,422.9 201.4,425.2 C205.6,427.5 200.8,427.7 200.2,430.2 C199.5,432.7 199.1,437.3 197.7,440.2 C196.2,443.1 193.5,445.2 191.4,447.7 C189.3,450.2 187.4,453.1 185.1,455.2 C182.8,457.4 179.7,459 177.6,460.7 C175.5,462.5 174.3,463.7 172.6,465.7 C171,467.8 169.3,470.5 167.6,472.8 C165.9,475 164.5,477.8 162.6,479 C160.7,480.3 158,479.2 156.3,480.3 C154.7,481.3 154.3,483.6 152.6,485.3 C150.9,486.9 148.4,488.4 146.3,490.3 C144.2,492.2 142.8,495.3 140.1,496.5 C137.4,497.8 133.4,498 130.1,497.8 C126.7,497.6 123.4,495.7 120,495.3 C116.7,494.9 110,495.3 110,495.3 L110,442.7 C110,442.7 114.2,443.7 117.5,443.2 C120.9,442.7 126.1,440.5 130.1,439.7 C134,438.9 138.4,436.9 141.3,438.2 C144.2,439.5 145.5,447.4 147.6,447.7 C149.7,448.1 151.8,443.1 153.8,440.2 C155.9,437.3 158.2,432.9 160.1,430.2 C162,427.5 162.6,426.2 165.1,423.9 C167.6,421.6 169.1,416.2 175.1,416.4Z"/>
<path d="M210.2,482.3 C213.5,480.6 224.8,476.8 230.2,474.8 C235.6,472.7 238.6,472.2 242.7,469.8 C246.9,467.3 251.5,463.5 255.2,460.2 C259,457 261.5,452.7 265.3,450.2 C269,447.7 273.6,446.5 277.8,445.2 C282,444 286.5,444 290.3,442.7 C294.1,441.5 296.1,439.8 300.3,437.7 C304.5,435.6 310.3,432.1 315.3,430.2 C320.3,428.3 324.1,427.3 330.4,426.4 C336.6,425.6 345,425.2 352.9,425.2 C360.8,425.2 370.8,426.4 377.9,426.4 C385,426.4 389.2,424.4 395.5,425.2 C401.7,426 409.6,431 415.5,431.4 C421.3,431.9 426.3,427.9 430.5,427.7 C434.7,427.5 436.8,429.4 440.5,430.2 C444.3,431 448,432.7 453,432.7 C458.1,432.7 464.3,431 470.6,430.2 C476.8,429.4 483.1,428.5 490.6,427.7 C498.1,426.9 509.1,425.8 515.6,425.2 C522.2,424.6 525.1,424.4 530,423.9 C534.9,423.4 540,422 545,422.2 C550,422.4 554.2,423.9 560,425.2 C565.9,426.5 573.4,428.7 580.1,430.2 C586.8,431.7 594.7,432.9 600.1,434 C605.5,435 608.5,436 612.6,436.5 C616.8,436.9 620.6,437.3 625.1,436.5 C629.7,435.6 636.4,433.5 640.2,431.4 C643.9,429.4 645.6,426.2 647.7,423.9 C649.8,421.6 651,417.7 652.7,417.7 C654.4,417.7 655.6,421.8 657.7,423.9 C659.8,426 661.4,428.5 665.2,430.2 C669,431.9 674.4,432.9 680.2,434 C686.1,435 694.4,435.6 700.3,436.5 C706.1,437.3 711.3,438.1 715.3,439 C719.2,439.8 720.7,441.7 724,441.5 C727.4,441.3 730.9,439.6 735.3,437.7 C739.7,435.8 745.7,433.1 750.3,430.2 C754.9,427.3 757.8,422.9 762.8,420.2 C767.9,417.5 775.4,416 780.4,413.9 C785.4,411.8 790,410 792.9,407.7 C795.8,405.4 796.2,402.4 797.9,400.2 C799.6,397.9 800.4,396 802.9,393.9 C805.4,391.8 809.2,389.9 812.9,387.6 C816.7,385.3 820.9,382.2 825.4,380.1 C830,378 835.5,377 840.5,375.1 C845.5,373.2 850.9,370.7 855.5,368.9 C860.1,367 863.8,366.3 868,363.8 C872.2,361.3 876.8,357 880.5,353.8 C884.3,350.7 887.6,348.2 890.5,345.1 C893.5,341.9 895.5,338 898.1,335.1 C900.6,332.1 903.7,329.4 905.6,327.5 C907.4,325.7 908.5,323 909.3,323.8 C910.2,324.6 908.7,330.9 910.6,332.5 C912.4,334.2 915.6,333.2 920.6,333.8 C925.6,334.4 934.8,335.3 940.6,336.3 C946.5,337.3 951.5,338.4 955.6,340.1 C959.8,341.7 964.4,343.8 965.7,346.3 C966.9,348.8 964.4,352.6 963.1,355.1 C961.9,357.6 957.7,359.5 958.1,361.3 C958.6,363.2 962.7,364.5 965.7,366.3 C968.6,368.2 974.8,370.3 975.7,372.6 C976.5,374.9 969.8,378.5 970.7,380.1 C971.5,381.8 976.5,381.6 980.7,382.6 C984.8,383.7 990.2,385.1 995.7,386.4 C1001.2,387.6 1010.4,388.3 1013.8,390.1 C1017.3,392 1016.9,395.5 1016.3,397.6 C1015.7,399.8 1013.6,402 1010.1,403.2 C1006.5,404.3 1000,404.5 995,404.7 C990,404.8 984.5,404.2 980,403.9 C975.5,403.6 972.2,402 968.2,402.7 C964.1,403.3 959.8,405.2 955.6,407.7 C951.5,410.2 947.3,414.3 943.1,417.7 C938.9,421 935.6,424.8 930.6,427.7 C925.6,430.6 917.7,432.3 913.1,435.2 C908.5,438.1 906,441.9 903.1,445.2 C900.1,448.6 899.3,451.9 895.5,455.2 C891.8,458.6 885.1,461.9 880.5,465.2 C875.9,468.6 871.3,471.9 868,475.3 C864.7,478.6 863,483.1 860.5,485.3 C858,487.4 856.3,488.1 853,488.3 C849.6,488.5 845.1,487.7 840.5,486.5 C835.9,485.4 830,482.4 825.4,481.5 C820.9,480.7 817.9,481.1 812.9,481.5 C807.9,481.9 800.8,483.2 795.4,484 C790,484.9 785.4,485.8 780.4,486.5 C775.4,487.2 770.4,488.3 765.4,488.3 C760.3,488.3 755.3,487.2 750.3,486.5 C745.3,485.8 740.3,484.7 735.3,484 C730.3,483.3 725.3,482.8 720.3,482.3 C715.3,481.7 710.3,480.7 705.3,480.8 C700.3,480.9 695.2,481.9 690.2,482.8 C685.2,483.6 680.2,484.9 675.2,485.8 C670.2,486.7 665.2,487.3 660.2,488.3 C655.2,489.2 650.2,490.6 645.2,491.5 C640.2,492.5 635.2,493 630.2,494 C625.1,495.1 620.1,496.3 615.1,497.8 C610.1,499.3 603.9,501.1 600.1,502.8 C596.3,504.5 594.3,505.7 592.6,507.8 C590.9,509.9 590.9,513 590.1,515.3 C589.3,517.6 590.1,520.3 587.6,521.6 C585.1,522.8 578.8,522.5 575.1,522.8 C571.3,523.2 568,523.6 565.1,523.6 C562.1,523.6 560.9,522.8 557.5,522.8 C554.2,522.9 549.6,523.7 545,524.1 C540.4,524.5 534.1,523.9 530,525.3 C525.9,526.8 523.5,530.1 520.6,532.8 C517.8,535.6 515.6,539.3 513.1,541.6 C510.6,543.9 507.1,546.8 505.6,546.6 C504.2,546.4 503.5,542.9 504.4,540.4 C505.2,537.9 510.8,534.1 510.6,531.6 C510.4,529.1 508.1,527 503.1,525.3 C498.1,523.7 488.1,522.4 480.6,521.6 C473.1,520.7 463.9,521 458.1,520.3 C452.2,519.7 448.9,519.9 445.5,517.8 C442.2,515.7 440.9,510.1 438,507.8 C435.1,505.5 432.6,505.1 428,504.1 C423.4,503 416.7,502.4 410.5,501.6 C404.2,500.7 397.1,499.3 390.5,499 C383.8,498.8 374.6,499.7 370.4,500.3 C366.2,500.9 365,501.1 365.4,502.8 C365.8,504.5 370,508.2 372.9,510.3 C375.8,512.4 380.2,513.2 382.9,515.3 C385.7,517.4 388.4,520.3 389.2,522.8 C390,525.3 389.8,528.3 387.9,530.3 C386.1,532.4 382.5,534.1 377.9,535.4 C373.3,536.6 366.7,537.4 360.4,537.9 C354.1,538.3 347.1,538.1 340.4,537.9 C333.7,537.6 326.2,537.4 320.3,536.6 C314.5,535.8 310.3,534.3 305.3,532.8 C300.3,531.4 295.3,529.5 290.3,527.8 C285.3,526.2 279.5,524.5 275.3,522.8 C271.1,521.2 267.8,519.9 265.3,517.8 C262.8,515.7 260.7,513.2 260.3,510.3 C259.8,507.4 261.9,503.6 262.8,500.3 C263.6,497 266.1,493 265.3,490.3 C264.4,487.6 261.9,485.3 257.8,484 C253.6,482.8 246.5,482.5 240.2,482.8 C234,483.1 225.2,485.4 220.2,485.8 C215.2,486.1 211.8,485.4 210.2,484.8 C208.5,484.2 206.8,483.9 210.2,482.3Z"/>
<path d="M1351.3,353.9 C1351.1,352 1353.6,349.7 1355.1,347.6 C1356.6,345.6 1358,343.3 1360.1,341.4 C1362.2,339.5 1364.7,337.8 1367.6,336.4 C1370.5,334.9 1375.8,334.1 1377.6,332.6 C1379.5,331.2 1378.9,329.3 1378.9,327.6 C1378.9,325.9 1376.6,323.3 1377.6,322.6 C1378.7,321.9 1382.4,322.4 1385.1,323.2 C1387.9,324.1 1391.2,326 1393.9,327.6 C1396.6,329.2 1399.3,330.9 1401.4,332.6 C1403.5,334.3 1405.3,335.7 1406.4,337.6 C1407.6,339.5 1408.9,342.4 1408.3,343.9 C1407.7,345.3 1405.1,346.2 1402.7,346.4 C1400.3,346.6 1396.4,344.9 1393.9,345.1 C1391.4,345.3 1389.9,346.4 1387.7,347.6 C1385.4,348.9 1382.6,351 1380.1,352.6 C1377.6,354.3 1375.3,356.4 1372.6,357.7 C1369.9,358.9 1366.6,359.9 1363.9,360.2 C1361.2,360.4 1358.4,359.9 1356.4,358.9 C1354.3,357.9 1351.6,355.8 1351.3,353.9Z"/>
<path d="M1200.3,361.8 C1200.8,360.6 1202.5,358.8 1204.4,358.8 C1206.4,358.8 1209.6,360.2 1212,361.8 C1214.3,363.4 1217,366.3 1218.6,368.5 C1220.3,370.7 1221.8,373.2 1222,375.2 C1222.1,377.1 1220.7,379.2 1219.5,380.2 C1218.2,381.1 1216,381.8 1214.5,381 C1212.9,380.2 1211.8,377 1210.3,375.2 C1208.8,373.4 1206.8,371.7 1205.3,370.2 C1203.7,368.6 1201.9,367.4 1201.1,366 C1200.3,364.6 1199.7,363 1200.3,361.8Z"/>
<path d="M1230.3,391 C1230.9,390 1233.4,389.1 1235.3,389.3 C1237.3,389.6 1239.8,391.4 1242,392.7 C1244.2,393.9 1247.2,395.6 1248.7,396.9 C1250.2,398.1 1251.7,399.6 1251.2,400.2 C1250.6,400.8 1247.4,401 1245.3,400.5 C1243.3,400.1 1240.9,398.6 1238.7,397.7 C1236.4,396.8 1233.4,396.3 1232,395.2 C1230.6,394.1 1229.8,392 1230.3,391Z"/>
<path d="M1277.1,396.9 C1277.2,394.8 1278.7,391.9 1280.4,390.2 C1282.1,388.5 1285.4,386.8 1287.1,386.8 C1288.7,386.8 1290,388.5 1290.4,390.2 C1290.8,391.9 1290.4,394.9 1289.6,396.9 C1288.7,398.8 1287.1,400.9 1285.4,401.9 C1283.7,402.8 1281,403.5 1279.6,402.7 C1278.2,401.9 1276.9,398.9 1277.1,396.9Z"/>
<path d="M1617.8,300.3 C1615.9,301.2 1622,304.6 1624.1,306.5 C1626.2,308.4 1627.6,310.3 1630.3,311.5 C1633,312.8 1638.1,313.5 1640.3,314 C1642.6,314.6 1642.4,313.2 1644.1,315 C1645.8,316.9 1647.6,321.3 1650.4,325 C1653.1,328.8 1657.9,333.4 1660.4,337.6 C1662.9,341.7 1664.1,346.3 1665.4,350.1 C1666.6,353.8 1667.1,356.8 1667.9,360.1 C1668.7,363.4 1670.4,366.8 1670.4,370.1 C1670.4,373.4 1669.6,376.8 1667.9,380.1 C1666.2,383.5 1662.5,386.8 1660.4,390.1 C1658.3,393.5 1656.4,396.4 1655.4,400.2 C1654.3,403.9 1654.5,408.5 1654.1,412.7 C1653.7,416.8 1652.4,421 1652.9,425.2 C1653.3,429.4 1655.8,433.5 1656.6,437.7 C1657.5,441.9 1657.9,446.1 1657.9,450.2 C1657.9,454.4 1656.2,459 1656.6,462.7 C1657,466.5 1658.5,470.3 1660.4,472.8 C1662.3,475.3 1665.8,475.7 1667.9,477.8 C1670,479.9 1670.4,483.6 1672.9,485.3 C1675.4,486.9 1680,487.6 1682.9,487.8 C1685.8,488 1688.3,486.1 1690.4,486.5 C1692.5,486.9 1692.9,488.4 1695.4,490.3 C1697.9,492.2 1702.1,495.7 1705.4,497.8 C1708.8,499.9 1712.1,501.1 1715.5,502.8 C1718.8,504.5 1722.1,506.6 1725.5,507.8 C1728.8,509.1 1732.1,510.7 1735.5,510.3 C1738.8,509.9 1743.4,505.3 1745.5,505.3 C1747.6,505.3 1745.5,510.3 1748,510.3 C1750.5,510.3 1756.8,507 1760.5,505.3 C1764.3,503.6 1767.2,501.6 1770.5,500.3 C1773.9,499 1777.2,498.4 1780.6,497.8 C1783.9,497.2 1787.2,496.5 1790.6,496.5 C1793.9,496.5 1797.2,497.8 1800.6,497.8 C1803.9,497.8 1804.8,496.8 1810.6,496.5 C1816.4,496.3 1835.6,496.5 1835.6,496.5 L1835.6,449 C1835.6,449 1813.9,449 1805.6,449 C1797.2,449 1789.7,449.2 1785.6,449 C1781.4,448.8 1781.8,449.6 1780.6,447.7 C1779.3,445.8 1778.1,441.5 1778.1,437.7 C1778.1,434 1780.6,429.4 1780.6,425.2 C1780.6,421 1779.7,416 1778.1,412.7 C1776.4,409.3 1773.5,407.7 1770.5,405.2 C1767.6,402.7 1764.7,398.5 1760.5,397.6 C1756.4,396.8 1749.3,400.2 1745.5,400.2 C1741.7,400.2 1740.5,398.9 1738,397.6 C1735.5,396.4 1733.8,394.7 1730.5,392.6 C1727.1,390.6 1721.3,387.2 1718,385.1 C1714.6,383 1712.5,382.2 1710.5,380.1 C1708.4,378 1707.1,375.5 1705.4,372.6 C1703.8,369.7 1700.9,365.9 1700.4,362.6 C1700,359.3 1703.8,355.9 1702.9,352.6 C1702.1,349.2 1698.3,345.9 1695.4,342.6 C1692.5,339.2 1688.8,335.9 1685.4,332.5 C1682.1,329.2 1678.7,325.7 1675.4,322.5 C1672.1,319.4 1667.4,315.6 1665.4,313.8 C1663.4,311.9 1663.4,313.3 1663.4,311.5 C1663.4,309.8 1667.6,304.8 1665.4,303.3 C1663.2,301.7 1655.4,302.6 1650.4,302.3 C1645.4,301.9 1640.8,301.3 1635.3,301 C1629.9,300.7 1619.7,299.3 1617.8,300.3Z"/>
<path d="M1512.7,375.1 C1513.3,372.6 1515.2,369.4 1517.7,367.6 C1520.2,365.8 1523.5,364.9 1527.7,364.6 C1531.8,364.3 1538.3,364.9 1542.7,365.6 C1547.1,366.3 1551,366.4 1554,368.9 C1556.9,371.3 1558.6,376.2 1560.2,380.1 C1561.9,384.1 1563.8,388.9 1564,392.6 C1564.2,396.4 1563.8,400.6 1561.5,402.7 C1559.2,404.7 1553.8,403.9 1550.2,405.2 C1546.7,406.4 1543.1,410.2 1540.2,410.2 C1537.3,410.2 1535.2,406.8 1532.7,405.2 C1530.2,403.5 1527.5,402.7 1525.2,400.2 C1522.9,397.6 1520.8,393.1 1518.9,390.1 C1517,387.2 1514.9,385.1 1513.9,382.6 C1512.9,380.1 1512,377.6 1512.7,375.1Z"/>
<path d="M344.1,616.3 C343.7,614.2 347.3,611 350.4,608.8 C353.5,606.6 358.3,604.3 362.9,603.1 C367.5,601.8 373.3,601 377.9,601.3 C382.5,601.6 387.7,603.2 390.5,605.1 C393.2,606.9 394.2,610.3 394.2,612.6 C394.2,614.9 392.7,617.2 390.5,618.8 C388.2,620.5 384.6,622.2 380.4,622.6 C376.3,623 370,621.6 365.4,621.3 C360.8,621.1 356.4,622.2 352.9,621.3 C349.3,620.5 344.5,618.4 344.1,616.3Z"/>
<path d="M533.2,636.4 C533.6,635 537.3,633.4 540.7,632.1 C544,630.9 550.8,629.6 553.2,628.9 C555.6,628.1 550.6,628.1 555,627.6 C559.5,627.1 571.7,625.8 580.1,625.6 C588.4,625.4 598.4,625.6 605.1,626.3 C611.8,627.1 616,628.2 620.1,630.1 C624.3,632 627.6,635.3 630.2,637.6 C632.7,639.9 639.3,642.4 635.2,643.9 C631,645.3 615.5,644.3 605.1,646.4 C594.7,648.5 580.1,655.3 572.6,656.4 C565.1,657.5 564.6,654.5 560,653.1 C555.5,651.8 550,649.7 545,648.1 C540,646.6 527.4,645 530,643.9 C532.6,642.7 557.7,641.6 560.7,641.4 C563.7,641.2 551.9,642.8 548.2,642.6 C544.4,642.4 540.7,641.2 538.2,640.1 C535.7,639.1 532.7,637.7 533.2,636.4Z"/>
</g>
<g fill="#ffffff">
<path d="M833,415.2 C832.5,411.2 837.5,404.1 840.5,400.2 C843.4,396.2 847.1,394.1 850.5,391.4 C853.8,388.7 856.3,386.2 860.5,383.9 C864.7,381.6 870.1,378.5 875.5,377.6 C880.9,376.8 886.4,378.9 893,378.9 C899.7,378.9 911.4,376.8 915.6,377.6 C919.8,378.5 915.2,382.2 918.1,383.9 C921,385.5 929.8,386 933.1,387.6 C936.4,389.3 938.5,391.8 938.1,393.9 C937.7,396 934.4,398.5 930.6,400.2 C926.8,401.8 920.6,402.7 915.6,403.9 C910.6,405.2 904.3,405.8 900.6,407.7 C896.8,409.5 894.7,412.3 893,415.2 C891.4,418.1 892.6,422.3 890.5,425.2 C888.5,428.1 884.3,430.6 880.5,432.7 C876.8,434.8 872.2,437.9 868,437.7 C863.8,437.5 859.7,433.7 855.5,431.4 C851.3,429.2 846.7,426.6 843,423.9 C839.2,421.2 833.4,419.1 833,415.2Z"/>
<path d="M1667.9,417.7 C1668.7,416 1672.5,413 1675.4,411.4 C1678.3,409.8 1682.1,408.4 1685.4,408.2 C1688.8,408 1693.3,408.9 1695.4,410.2 C1697.5,411.4 1699.2,414.1 1697.9,415.7 C1696.7,417.3 1691.3,418.6 1687.9,419.7 C1684.6,420.8 1680.8,421.9 1677.9,422.2 C1675,422.5 1672.1,422.2 1670.4,421.4 C1668.7,420.7 1667.1,419.3 1667.9,417.7Z"/>
</g>
<g fill="#C72A35">
<path d="M165.1,346.3 C169.7,341.3 168.4,345.9 170.1,345.1 C171.8,344.3 173,342.3 175.1,341.6 C177.2,340.8 179.3,340.9 182.6,340.7 C186,340.5 191.4,340.2 195.2,340.3 C198.9,340.5 201.8,341.8 205.2,341.6 C208.5,341.4 212.5,339.7 215.2,339.1 C217.9,338.4 220,337.4 221.4,337.6 C222.9,337.7 224,338.8 224,340.1 C224,341.3 222.1,343 221.4,345.1 C220.8,347.2 220.4,350.1 220.2,352.6 C220,355.1 221.4,358.6 220.2,360.1 C218.9,361.6 215.4,360.9 212.7,361.3 C210,361.8 206,362.2 203.9,362.6 C201.8,363 201.4,364.3 200.2,363.8 C198.9,363.4 197.9,360.9 196.4,360.1 C194.9,359.3 193.3,358.4 191.4,358.8 C189.5,359.3 186.8,361.3 185.1,362.6 C183.5,363.8 183.1,365.4 181.4,366.4 C179.7,367.3 177.4,367.7 175.1,368.2 C172.8,368.8 169.7,368.9 167.6,369.5 C165.5,370.1 164.3,372 162.6,372 C160.9,372 159.1,370 157.6,369.5 C156.1,369 155.1,368.4 153.8,368.9 C152.6,369.3 152,370.9 150.1,372 C148.2,373 140.1,379.4 142.6,375.1 C145.1,370.8 160.5,351.3 165.1,346.3Z"/>
<path d="M481.8,351.3 C483.5,350.2 495,352.7 500.6,353.1 C506.2,353.5 510.7,354.1 515.6,353.8 C520.5,353.5 525.1,352.2 530,351.3 C534.9,350.5 539.6,349.9 545,348.8 C550.4,347.8 556.7,346.5 562.5,345.1 C568.4,343.6 573.8,341.7 580.1,340.1 C586.3,338.4 592.6,336.1 600.1,335.1 C607.6,334 617.2,334 625.1,333.8 C633.1,333.6 641.8,334 647.7,333.8 C653.5,333.6 656.4,332.3 660.2,332.5 C664,332.8 665.2,333.8 670.2,335.1 C675.2,336.3 684.8,339.6 690.2,340.1 C695.7,340.5 699.4,339.3 702.8,337.6 C706.1,335.8 706.5,330.6 710.3,329.5 C714,328.5 719.5,330.6 725.3,331.3 C731.1,332 739.5,333 745.3,333.8 C751.2,334.6 757.2,334 760.3,336.3 C763.5,338.6 763.9,343.2 764.1,347.6 C764.3,352 763.1,358 761.6,362.6 C760.1,367.2 758.1,371.6 755.3,375.1 C752.6,378.7 749.5,381.4 745.3,383.9 C741.2,386.4 736.1,388.3 730.3,390.1 C724.5,392 716.9,393.9 710.3,395.1 C703.6,396.4 696.9,396.8 690.2,397.6 C683.6,398.5 676.9,399.3 670.2,400.2 C663.5,401 656.9,401.6 650.2,402.7 C643.5,403.7 636.4,405.4 630.2,406.4 C623.9,407.5 618,408.5 612.6,408.9 C607.2,409.3 601.4,409.3 597.6,408.9 C593.8,408.5 593.8,407.4 590.1,406.4 C586.3,405.4 580.9,403.8 575.1,403.2 C569.2,402.5 562.5,402.7 555,402.7 C547.5,402.7 536.6,402.8 530,403.2 C523.4,403.5 521,404.5 515.6,404.7 C510.3,404.8 501,406.7 498.1,403.9 C495.2,401.1 498.1,392.8 498.1,387.6 C498.1,382.4 499.4,377.2 498.1,372.6 C496.9,368 493.3,363.6 490.6,360.1 C487.9,356.5 480.2,352.5 481.8,351.3Z"/>
<path d="M272.8,366.3 C273.8,364.3 277.4,363 280.3,361.3 C283.2,359.7 287,358 290.3,356.3 C293.6,354.7 297,352.8 300.3,351.3 C303.7,349.9 307,348.6 310.3,347.6 C313.7,346.5 317,345.9 320.3,345.1 C323.7,344.2 327,343.6 330.4,342.6 C333.7,341.5 336.2,340.3 340.4,338.8 C344.5,337.3 350.4,335.7 355.4,333.8 C360.4,331.9 365.4,329.4 370.4,327.5 C375.4,325.7 380.9,324.2 385.4,322.5 C390,320.9 394.8,318.4 398,317.5 C401.1,316.7 403.4,316.3 404.2,317.5 C405.1,318.8 403.6,322.5 403,325 C402.3,327.5 399.2,330 400.5,332.5 C401.7,335.1 407.1,337.3 410.5,340.1 C413.8,342.8 418,345.9 420.5,348.8 C423,351.7 424.9,354.7 425.5,357.6 C426.1,360.5 425.5,363.6 424.3,366.3 C423,369.1 420.3,371.6 418,373.9 C415.7,376.2 413.4,378 410.5,380.1 C407.6,382.2 403.8,384.5 400.5,386.4 C397.1,388.3 393.8,389.9 390.5,391.4 C387.1,392.8 383.8,394.7 380.4,395.1 C377.1,395.6 373.3,394.5 370.4,393.9 C367.5,393.3 365.4,391.2 362.9,391.4 C360.4,391.6 358.3,393.9 355.4,395.1 C352.5,396.4 349.1,397.6 345.4,398.9 C341.6,400.2 337,401.7 332.9,402.7 C328.7,403.6 324.1,404.7 320.3,404.7 C316.6,404.7 313.3,404 310.3,402.7 C307.4,401.3 304.9,398.7 302.8,396.4 C300.7,394.1 299.9,391.2 297.8,388.9 C295.7,386.6 292.8,384.7 290.3,382.6 C287.8,380.5 285.5,377.8 282.8,376.4 C280.1,374.9 275.7,375.5 274,373.9 C272.4,372.2 271.7,368.4 272.8,366.3Z"/>
<path d="M515.6,178.8 C516.5,177.2 517.3,175.5 520.6,173.8 C524,172.2 530.2,170.3 535.7,168.8 C541.1,167.4 547.5,166.1 553.2,165.1 C558.9,164 564.7,163 570.1,162.6 C575.4,162.1 580.9,162.1 585.1,162.6 C589.3,163 593.8,163.8 595.1,165.1 C596.3,166.3 595.1,168.4 592.6,170.1 C590.1,171.7 585.1,173.6 580.1,175.1 C575.1,176.5 566.3,177.2 562.5,178.8 C558.8,180.5 560.5,183.6 557.5,185.1 C554.6,186.6 549.6,186.8 545,187.6 C540.4,188.3 534.1,189.6 530,189.6 C525.9,189.6 523,188.6 520.6,187.6 C518.3,186.6 516.5,185.3 515.6,183.8 C514.8,182.4 514.8,180.5 515.6,178.8Z"/>
<path d="M970.8,340.1 C972,337.4 977.4,333.8 980.8,330.1 C984.1,326.3 988.2,321 990.8,317.5 C993.4,314 993.5,311 996.3,309 C999.1,307.1 1003.6,307.2 1007.6,305.8 C1011.5,304.3 1016.3,302 1020.1,300.3 C1023.8,298.5 1025.9,295.3 1030.1,295.3 C1034.3,295.3 1040.5,298.8 1045.1,300.3 C1049.7,301.7 1054.1,302.3 1057.6,304 C1061.2,305.7 1065.1,307.6 1066.4,310.3 C1067.6,313 1066.2,316.5 1065.1,320.3 C1064.1,324 1061.4,328.6 1060.1,332.8 C1058.9,337 1059.3,341.6 1057.6,345.3 C1056,349.1 1052.6,352.8 1050.1,355.3 C1047.6,357.8 1045.9,359.9 1042.6,360.4 C1039.3,360.8 1034.7,358.7 1030.1,357.8 C1025.5,357 1020.1,356.3 1015.1,355.3 C1010.1,354.4 1004.5,353 1000,352.3 C995.6,351.7 992.7,352.3 988.3,351.3 C983.8,350.3 976.2,348.2 973.3,346.3 C970.3,344.5 969.5,342.8 970.8,340.1Z"/>
<path d="M1252,346.8 C1252.4,345.5 1254.8,344.3 1257,344.3 C1259.3,344.3 1263.1,345.7 1265.4,346.8 C1267.6,347.9 1267.9,350.4 1270.4,351 C1272.9,351.5 1277.1,350.8 1280.4,350.1 C1283.7,349.4 1288.7,348.2 1290.4,346.8 C1292.1,345.4 1289.6,343.2 1290.4,341.8 C1291.3,340.4 1293.8,339.1 1295.4,338.4 C1297.1,337.7 1298.5,337.3 1300.4,337.6 C1302.4,337.9 1304.9,339.1 1307.1,340.1 C1309.3,341.1 1311.6,342.3 1313.8,343.4 C1316,344.6 1318.8,345.1 1320.5,346.8 C1322.1,348.4 1323,350 1323.8,353.5 C1324.7,356.9 1324.4,364 1325.5,367.6 C1326.7,371.2 1327.2,373 1330.5,375.1 C1333.9,377.2 1340.6,378.5 1345.6,380.1 C1350.6,381.8 1355.6,383 1360.6,385.1 C1365.6,387.2 1370.6,390.1 1375.6,392.6 C1380.6,395.1 1386.9,397.6 1390.6,400.2 C1394.4,402.7 1397.3,405.2 1398.1,407.7 C1399,410.2 1397.7,413.1 1395.6,415.2 C1393.6,417.3 1389.8,418.5 1385.6,420.2 C1381.5,421.8 1375.6,423.9 1370.6,425.2 C1365.6,426.4 1360.2,426.2 1355.6,427.7 C1351,429.2 1347.2,433.3 1343.1,434 C1338.9,434.6 1334.3,432.5 1330.5,431.4 C1326.8,430.4 1324.3,428.1 1320.5,427.7 C1316.8,427.3 1312.2,428.5 1308,428.9 C1303.8,429.4 1299,429.6 1295.5,430.2 C1291.9,430.8 1289.2,433.2 1286.7,432.7 C1284.2,432.2 1282.3,429.3 1280.4,426.9 C1278.5,424.6 1276.8,421.1 1275.4,418.6 C1274,416.1 1272.3,413.8 1272.1,411.9 C1271.8,409.9 1272.3,408.3 1273.7,406.9 C1275.1,405.5 1278.2,404.7 1280.4,403.5 C1282.6,402.4 1285.7,401.9 1287.1,400.2 C1288.5,398.5 1288.2,395.7 1288.7,393.5 C1289.3,391.3 1289.3,388.8 1290.4,386.8 C1291.5,384.9 1294.9,383.2 1295.4,381.8 C1296,380.4 1295.1,379.6 1293.8,378.5 C1292.4,377.4 1289,376.5 1287.1,375.2 C1285.1,373.8 1283.7,371.8 1282.1,370.2 C1280.4,368.5 1278.5,366.8 1277.1,365.1 C1275.7,363.5 1275.1,361.8 1273.7,360.1 C1272.3,358.5 1270.7,356.1 1268.7,355.1 C1266.8,354.2 1264.4,354.8 1262,354.3 C1259.7,353.7 1256.2,353 1254.5,351.8 C1252.9,350.5 1251.6,348 1252,346.8Z"/>
<path d="M1073.4,435.3 C1073.9,433.2 1075.6,430 1078.4,428.6 C1081.2,427.2 1086.2,426.5 1090.1,426.9 C1094,427.3 1098.7,429.4 1101.8,431.1 C1104.8,432.8 1107.6,435.1 1108.4,436.9 C1109.3,438.7 1108.7,440.7 1106.8,441.9 C1104.8,443.2 1100.7,444 1096.8,444.4 C1092.9,444.9 1087,445 1083.4,444.4 C1079.8,443.9 1076.7,442.6 1075.1,441.1 C1073.4,439.6 1072.8,437.3 1073.4,435.3Z"/>
<path d="M1217.9,435.2 C1219.5,433.3 1226.2,433.3 1230.4,434 C1234.6,434.6 1239.2,437.3 1242.9,439 C1246.7,440.6 1250.4,441.9 1252.9,444 C1255.4,446.1 1256.7,449.2 1257.9,451.5 C1259.2,453.8 1260.9,455.4 1260.4,457.7 C1260,460 1257.5,463.2 1255.4,465.2 C1253.3,467.3 1250.8,469.4 1247.9,470.3 C1245,471.1 1240.8,471.1 1237.9,470.3 C1235,469.4 1232.5,467.8 1230.4,465.2 C1228.3,462.7 1227.1,458.6 1225.4,455.2 C1223.7,451.9 1221.6,448.6 1220.4,445.2 C1219.1,441.9 1216.2,437.1 1217.9,435.2Z"/>
<path d="M1508.9,335.1 C1509.3,333.2 1512,331.8 1515.2,331.3 C1518.3,330.8 1523.5,332.6 1527.7,332 C1531.8,331.5 1536.6,329.5 1540.2,328 C1543.7,326.5 1546.9,325.2 1549,323 C1551,320.9 1550.8,317.3 1552.7,315 C1554.6,312.8 1556.9,310.8 1560.2,309.5 C1563.6,308.3 1568.6,307.3 1572.7,307.5 C1576.9,307.7 1581.5,308.8 1585.3,310.5 C1589,312.3 1591.9,315.2 1595.3,318 C1598.6,320.9 1602,324.7 1605.3,327.5 C1608.6,330.4 1612,332.5 1615.3,335.1 C1618.6,337.6 1622.4,339.9 1625.3,342.6 C1628.2,345.3 1630.7,348 1632.8,351.3 C1634.9,354.7 1636.8,358.6 1637.8,362.6 C1638.9,366.6 1639.3,371.4 1639.1,375.1 C1638.9,378.9 1636.6,382.2 1636.6,385.1 C1636.6,388 1639.7,390.1 1639.1,392.6 C1638.5,395.1 1634.7,397.2 1632.8,400.2 C1631,403.1 1629.9,407.2 1627.8,410.2 C1625.7,413.1 1622.8,415.6 1620.3,417.7 C1617.8,419.8 1615.7,421.6 1612.8,422.7 C1609.9,423.7 1605.7,423.9 1602.8,423.9 C1599.9,423.9 1597.4,424.1 1595.3,422.7 C1593.2,421.2 1591.9,417.7 1590.3,415.2 C1588.6,412.7 1586.5,410.6 1585.3,407.7 C1584,404.7 1583.6,401.4 1582.8,397.6 C1581.9,393.9 1581.5,388.9 1580.3,385.1 C1579,381.4 1576.3,378.9 1575.2,375.1 C1574.2,371.4 1574.4,366.8 1574,362.6 C1573.6,358.4 1573.8,353.4 1572.7,350.1 C1571.7,346.7 1569.8,344.6 1567.7,342.6 C1565.7,340.6 1563.1,338.8 1560.2,338.1 C1557.3,337.3 1553.1,337.6 1550.2,338.1 C1547.3,338.5 1545.2,339.2 1542.7,340.6 C1540.2,341.9 1538.5,345.2 1535.2,346.3 C1531.8,347.5 1526.4,348.2 1522.7,347.6 C1518.9,346.9 1514.9,344.7 1512.7,342.6 C1510.4,340.5 1508.5,336.9 1508.9,335.1Z"/>
<path d="M1744.3,347.6 C1745.1,346.1 1747.8,343.4 1750.5,343.8 C1753.2,344.2 1757.2,346.5 1760.5,350.1 C1763.9,353.6 1768,360.9 1770.5,365.1 C1773,369.3 1775.5,373.8 1775.5,375.1 C1775.5,376.4 1773,374.6 1770.5,373.1 C1768,371.6 1763.7,368.7 1760.5,366.3 C1757.4,364 1754.3,361.1 1751.8,358.8 C1749.3,356.5 1746.8,354.5 1745.5,352.6 C1744.3,350.7 1743.4,349 1744.3,347.6Z"/>
<path d="M1230.4,818.9 C1232.1,817 1240.4,814.1 1245.4,811.4 C1250.4,808.6 1255.4,805.5 1260.4,802.6 C1265.4,799.7 1270.5,796.5 1275.5,793.8 C1280.5,791.1 1285.5,788.6 1290.5,786.3 C1295.5,784 1300.1,781.6 1305.5,780.1 C1310.9,778.5 1320.5,776.2 1323,777.1 C1325.5,777.9 1321.4,782.1 1320.5,785.1 C1319.7,788.1 1318.2,791.3 1318,795.1 C1317.8,798.8 1317.2,805.3 1319.3,807.6 C1321.4,809.9 1326.4,808.9 1330.5,808.9 C1334.7,808.9 1341.8,805.7 1344.3,807.6 C1346.8,809.5 1344.9,815.5 1345.6,820.1 C1346.2,824.7 1347.4,830.1 1348.1,835.1 C1348.7,840.2 1350.2,845.6 1349.3,850.2 C1348.5,854.8 1345.8,858.9 1343.1,862.7 C1340.3,866.4 1336.8,870.2 1333,872.7 C1329.3,875.2 1325.1,877.5 1320.5,877.7 C1315.9,877.9 1310.3,875.2 1305.5,874 C1300.7,872.7 1293,872.1 1291.7,870.2 C1290.5,868.3 1295.7,865.2 1298,862.7 C1300.3,860.2 1303.6,858.1 1305.5,855.2 C1307.4,852.3 1308.8,848.1 1309.3,845.2 C1309.7,842.2 1309.5,839.7 1308,837.6 C1306.5,835.6 1302.6,834.1 1300.5,832.6 C1298.4,831.2 1297.2,829.9 1295.5,828.9 C1293.8,827.8 1293,825.8 1290.5,826.4 C1288,827 1283.8,831.2 1280.5,832.6 C1277.1,834.1 1273.8,835.4 1270.5,835.1 C1267.1,834.9 1264.6,832.8 1260.4,831.4 C1256.3,829.9 1249.6,827.8 1245.4,826.4 C1241.2,824.9 1237.9,823.9 1235.4,822.6 C1232.9,821.4 1228.7,820.7 1230.4,818.9Z"/>
<path d="M821.7,827.6 C820.9,824.3 823.1,818.2 825.4,815.1 C827.7,812 831.3,809.7 835.5,808.9 C839.6,808 845.5,809.5 850.5,810.1 C855.5,810.7 861.5,811.1 865.5,812.6 C869.5,814.1 872.4,816.4 874.3,818.9 C876.1,821.4 877.4,824.9 876.8,827.6 C876.1,830.3 873.6,833.3 870.5,835.1 C867.4,837 862.6,838.3 858,838.9 C853.4,839.5 847.6,839.5 843,838.9 C838.4,838.3 834,837 830.5,835.1 C826.9,833.3 822.5,831 821.7,827.6Z"/>
</g>
</g>
<g fill="none" stroke="#000" stroke-linejoin="round" stroke-linecap="round" clip-path="url(#mc)">
<path stroke-width="1.1" d="M473.1,155 490.6,156.5 510.6,154.5 530.7,152.5 538.2,154 515.6,156 495.6,157.5 475.6,156 M426.8,192.6 440.5,186.3 458.1,178.8 480.6,173.8 500.6,170.6 515.6,169.6 513.6,172.6 495.6,175.6 475.6,180.1 458.1,185.1 446.8,190.6 441.8,198.1 450.5,193.1 465.6,187.6 480.6,183.1 495.6,181.6 501.1,185.1 490.6,190.6 478.1,197.1 471.1,205.6 463.6,206.4 465.6,200.1 458.1,197.6 448,198.1 440.5,199.6 428,196.4Z M456.8,214.6 470.6,211.4 483.1,205.1 493.1,200.1 496.9,203.9 490.6,208.9 480.6,210.1 470.6,214.6 460.6,216.4Z M341.6,198.9 350.4,201.4 359.2,206.4 361.7,211.4 354.1,215.6 341.6,219.6 330.4,223.1 324.1,227.7 320.3,224.6 322.8,220.6 327.9,218.1 327.4,213.1 334.1,214.6 350.4,217.1 361.7,212.6 365.4,215.6 371.7,211.4 380.4,205.6 389.2,208.9 379.2,213.9 390.5,209.6 403,204.6 415.5,206.4 428,205.1 440.5,199.6 M496.9,185.1 510.6,183.8 525.7,185.1 530.7,190.6 526.9,197.6 533.2,192.6 540.7,187.6 553.2,183.8 570,178.8 M282.8,238.2 290.3,235.2 295.8,232.7 294.1,235.2 286.5,238.9 M196.4,317.8 203.9,316.5 202.7,322.8 212.7,325.3 222.7,320.3 230.2,316.5 236.5,312.8 230.2,313.3 220.2,315.8 210.2,317.8 200.2,320.8 M171.4,345.8 185.1,343.3 200.2,345.3 215.2,342.3 226.5,338.3 230.2,329.1 226.5,322.8 M256.5,325.3 265.3,322.8 272.8,325.3 270.8,332.8 265.3,340.3 269,347.8 265.3,355.3 262.8,362.9 252.7,366.6 246.5,365.4 242.7,357.8 247.7,350.3 252.7,342.8 254,332.8Z M275.3,315.3 287.8,314 292.8,317.8 287.8,325.3 280.3,332.8 274,330.3 271.5,322.8Z M152.6,368.4 162.6,372.9 172.6,371.6 180.1,372.9 173.9,377.9 170.1,385.4 165.1,394.9 M157.1,378.4 165.1,375.9 167.6,377.4 161.4,380.4Z M607.6,155 617.6,152.5 630.2,155 640.2,160.1 642.7,165.1 635.2,165.1 625.1,162.6 615.1,160.1 607.6,157.5Z M791.6,234.4 782.9,236.4 776.6,241.4 771.6,239.2 762.8,237.7 752.8,242.7 745.3,248.9 735.3,250.2 720.3,249.7 705.3,250.7 695.2,253.9 682.7,261.5 672.7,267.7 662.7,272.7 666.5,276.5 675.2,277.2 681.5,281.5 679,289 674,300.3 666.5,310.3 656.4,318.3 643.9,327.8 630.2,335.8 617.6,340.8 605.1,345.8 595.1,351.6 584.6,355.3 M791.6,234.4 784.1,240.7 774.1,247.2 762.8,253.2 753.3,259.2 745.8,266.7 741.8,275.2 740.3,285.2 740.6,292.3 744.1,289.7 750.8,284.7 758.3,278.7 765.9,273.7 770.9,267.7 774.4,261.5 775.9,255.2 780.9,250.2 785.9,247.7 795.9,246.4 808.4,245.2 818.4,241.4 828.4,237.7 838.5,235.2 846,232.7 843.5,227.7 833.5,224.1 846,223.9 853.5,221.4 856,217.6 868.5,221.6 877,225.2 881,220.1 888.5,217.1 876,213.9 866,208.9 856,204.1 846,201.4 836,199.6 823.4,198.9 818.4,201.4 805.9,200.1 795.9,200.1 790.9,205.1 788.4,197.6 780.9,195.1 770.9,193.9 760.8,193.9 750.8,191.3 738.3,188.8 728.3,187.6 720.8,190.6 710.8,192.6 700.8,191.3 690.7,193.9 687,187.6 680.7,182.6 670.7,183.8 660.7,185.1 648.2,183.1 640.7,182.6 638.2,185.1 625.6,184.6 614.4,186.3 625.6,183.1 638.2,181.3 648.2,177.6 654.2,172.6 650.7,168.8 638.2,170.1 623.1,171.3 605.6,173.8 588.1,176.3 570.6,178.8 555.5,181.3 540.5,185.1 530,191.3 M725.3,175.1 735.3,172.6 747.8,173.8 755.3,176.3 767.9,176.3 762.8,178.8 750.3,178.1 737.8,178.8 729,177.6Z M855.5,192.6 863,191.3 866.8,193.1 860.5,195.1Z M689,275.2 690.2,285.2 686.5,297.8 685.7,305.3 680.7,300.3 677,310.3 675.7,319 672,317.8 675.2,305.3 680.2,290.2 684,279Z M1010,202.6 990.7,200.1 970.7,197.6 953.1,196.4 935.6,193.9 920.6,197.6 910.6,201.4 903.1,206.4 915.6,210.1 920.6,215.1 905.6,217.6 895.5,220.1 905.6,223.9 919.3,225.2 918.1,230.2 905.6,232.7 900.6,240.2 905.6,243.9 898.1,247.2 910.6,247.7 915.6,252.7 925.6,253.9 933.1,251.4 928.1,257.7 920.6,265.2 910.6,270.2 900.6,274 890.5,277.7 M933.1,251.4 943.1,250.2 953.1,245.2 963.1,241.4 975.7,242.7 988.2,245.2 1000.7,247.7 1010,252.7 M880.5,281.5 868,285.2 M855.5,287.7 845.5,289.2 M834.2,289 827.9,287.7 M811.7,284.7 807.9,282.7 M790.4,274 785.4,271 M943.1,257.7 953.1,255.2 950.6,261.5 944.4,262.2Z M584.6,355.3 595.1,353.3 598.1,362.9 597.1,372.9 593.1,380.9 583.8,383.4 581.3,376.6 583.8,369.1 580.1,362.9 M580.1,362.9 570.1,355.3 562.5,350.3 567.6,356.6 560,359.1 551.3,357.8 550,365.4 557.5,369.1 567.6,367.4 560,371.6 553.8,375.4 551.3,385.4 550,394.9 M656.4,337.8 665.2,332.8 675.2,327.8 680.2,330.3 671.5,336.6 664,341.6 658.9,345.3 654.7,342.3Z M656.4,346.6 660.2,350.3 657.7,360.4 652.7,367.9 647.7,374.1 640.2,377.9 630.2,380.4 620.1,382.9 610.1,385.4 600.1,387.9 596.3,385.4 605.1,381.6 615.1,377.9 625.1,375.4 635.2,371.6 642.7,365.4 650.2,356.6 653.9,349.1Z M593.8,387.9 600.1,390.9 597.6,394.9 M682.7,327.8 690.2,324 M695.2,321.5 705.3,316.5 M712.8,312.8 716.5,310.8 M732.8,297.8 737.8,294.3 M970,246.4 985,245.2 997.5,247.7 1010.1,250.2 1020.1,255.2 1030.1,265.2 1037.6,272.7 1045.1,280.2 1052.6,290.2 1062.6,297.8 1070.2,305.3 1075.2,310.3 1072.7,315.3 1071.4,325.3 1072.7,337.8 1075.2,347.8 1080.2,357.8 1085.2,365.4 1090.2,375.4 1095.2,382.9 1102.7,387.9 1110.2,394.9 M970,200.1 985,201.4 1000,203.1 1015.1,200.1 1030.1,197.6 1045.1,200.1 1057.6,202.6 1070.2,205.1 1082.7,207.6 1095.2,208.9 1107.7,211.4 1115.2,215.1 1125.2,207.6 1135.2,206.4 1145.3,210.1 1155.3,212.6 1167.8,220.1 1177.8,225.2 1187.8,222.6 1195.3,225.2 1205.4,228.9 1215.4,227.7 1210.4,232.7 1195.3,230.2 1182.8,232.7 1175.3,237.7 1172.8,247.7 1177.8,255.2 1187.8,261.5 1202.8,265.2 1217.9,269 1230.4,272.7 1237.9,280.2 1245.4,287.7 1252.9,292.8 1252.9,285.2 1247.9,277.7 1242.9,272.7 1250.4,267.7 1247.9,260.2 1240.4,255.2 1235.4,247.7 1232.9,240.2 1240.4,235.2 1250.4,237.7 1260.4,242.7 1270.5,247.7 1278,252.7 1285.5,247.7 1290.5,250.2 1303,260.2 1315.5,270.2 1328,275.2 1338.1,281.5 1345.6,287.7 1340.6,297.8 1330.5,300.3 1320.5,300.3 1310.5,305.3 1303,311.5 1308,317.8 1315.5,322.8 1320.5,325.3 1325.5,329.8 1334.3,324 1343.1,317.3 1330.5,317.8 1320.5,323.3 1310.5,326.6 1304.3,334.1 1311,337.8 1306.8,340.8 1295.5,343.3 1293,350.3 1288,357.8 1293,365.4 1295.5,375.4 1290.5,382.9 1283,390.4 1278,394.9 M1345.6,292.8 1355.6,300.3 1365.6,305.3 1373.1,311.5 1368.1,315.3 1355.6,311.5 1345.6,310.3 1343.1,302.8Z M1220.4,150 1245.4,147.5 1270.5,146.3 1295.5,146.3 1320.5,148.8 1333,150 1350.6,152.5 1363.1,151.3 1355.6,157.5 1365.6,165.1 1375.6,175.1 1388.1,182.6 1395.6,192.6 1400.6,197.6 1390.6,202.6 1380.6,207.6 1375.6,215.1 1370.6,222.6 1363.1,220.1 1358.1,225.2 1363.1,235.2 1368.1,245.2 1360.6,243.9 1350.6,237.7 1338.1,230.2 1325.5,225.2 1315.5,215.1 1305.5,205.1 1295.5,195.1 1285.5,190.1 1275.5,185.1 1262.9,177.6 1252.9,172.6 1240.4,167.6 1227.9,162.6 1215.4,160.1 1205.4,162.6 1197.8,165.1 1207.9,157.5Z M1206.6,317.8 1212.9,310.3 1225.4,309 1237.9,312.8 1247.9,317.8 1242.9,320.3 1232.9,319 1222.9,317.8 1215.4,322.8 1207.9,321.5Z M1231.6,322.8 1236.6,325.3 1237.9,337.8 1232.9,345.3 1230.4,337.8 1231.6,327.8Z M1242.9,322.8 1252.9,325.3 1255.4,335.3 1250.4,340.3 1245.4,332.8Z M1257.9,342.8 1270.5,337.8 1278,335.3 1267.9,341.6Z M1279.2,330.3 1290.5,326.6 1293,329.1 1283,332.3Z M1442.5,158.8 1460.1,156.3 1480.1,157.5 1497.6,162.6 1501.4,166.3 1485.1,170.1 1470.1,166.3 1455.1,162.6Z M1447.6,160.1 1465.1,162.6 1482.6,165.1 1492.6,168.1 M1416.3,218.9 1425,215.6 1437.5,216.4 1450.1,218.9 1457.6,223.1 1452.6,228.2 1442.5,230.2 1432.5,227.7 1422.5,223.9Z M1574,197.6 1560.2,195.6 1547.7,198.1 1538.9,201.4 1536.4,207.1 1544,211.4 1547.2,223.9 1544,235.2 1551.5,243.2 1561.5,250.2 1570.2,255.7 1578.3,253.2 1582.3,247.7 1585.3,257.7 1595.3,265.7 1607.8,273.2 1613.3,269 1610.3,262.2 1618.3,259.7 1615.3,252.2 1608.3,245.7 1600.3,238.2 1592.8,232.2 1585.3,223.9 1583.3,218.9 1590.3,218.1 1596.5,223.1 1600.8,231.4 1601.5,238.9 1610.8,245.7 1625.8,248.2 1640.3,245.7 M1594,275.7 1605.3,280.7 1620.3,282.2 1635.3,285.7 1645.4,281.7 1650.9,275.2 1645.9,265.2 1640.8,257.7 1645.4,252.2 1640.3,245.7 M1589,259 1595.8,261.5 1598.3,270.2 1594,275.7 1588.3,267.7Z M1520.2,253.2 1528.9,251.4 1531.4,259 1540.2,263.2 1546.5,269 1555.2,275.2 1560.2,284 1570.2,287.7 1582.8,295.3 1580.3,300.3 1565.2,299 1555.2,297.8 1560.2,291.5 1550.2,287.7 1550.2,281.5 1542.7,276.5 1535.2,275.2 1537.7,269 1528.9,265.2 1522.7,260.2Z M1525.7,275.2 1533.9,272.2 1544,279 1547.2,286.5 1538.9,290.2 1531.4,286.5 1527.7,280.2Z M1594,275.7 1602.8,281.5 1605.8,287.2 1598.3,292.3 1590.3,297.8 1585.3,304 1575.2,305.3 1570.2,307.8 1580.3,311.5 1590.3,315.3 1600.3,322.8 1607.8,330.3 1610.3,335.3 1600.3,334.1 1585.3,332.8 1574,334.1 1577.3,345.3 1584.8,357.8 1590.8,366.6 1600.3,367.4 1610.3,372.4 1622.8,365.9 1628.3,350.3 1630.8,340.8 1628.3,335.8 1635.3,334.1 1645.4,338.3 1650.4,333.3 1656.6,334.1 1662.9,342.8 1670.4,352.8 1680.4,362.9 1687.9,372.9 1695.4,380.4 1700.4,385.4 1697.9,390.4 1702.9,385.4 1705.4,377.9 1697.9,370.4 1687.9,360.4 1680.4,350.3 1672.9,340.3 1670.4,332.8 1675.4,327.8 1682.9,332.8 1685.4,340.3 1692.9,350.3 1702.9,362.9 1713,372.9 1723,382.9 1733,390.4 1735.5,380.4 1743,375.4 1738,367.9 1745.5,362.9 1753,357.8 1760.5,355.3 1758,362.9 1763,370.4 1760.5,380.4 1768,387.9 M1654.1,342.8 1657.9,341.6 1659.1,350.3 1655.4,351.6Z M1656.6,354.1 1662.9,354.1 1665.4,365.4 1659.1,366.6Z M1685.4,390.4 1697.9,391.6 1695.4,394.9 1686.7,394.2Z M1636.6,351.6 1642.8,350.3 1641.6,354.1Z M1723,325.3 1730.5,332.8 1733,342.8 1740.5,347.8 1753,345.3 1760.5,342.8 M155.6,375.1 151.3,395.1 146.3,407.7 143.8,407.7 146.3,420.2 148.8,435.2 150.1,450.2 151.3,465.2 153.8,480.3 157.6,490.3 162.6,500.3 165.1,505.3 172.6,510.3 187.6,509.1 200.2,505.3 203.2,507.3 200.2,515.3 195.2,525.3 187.6,537.9 177.6,550.4 167.6,560.4 157.6,569.9 M148.8,407.7 152.6,420.2 155.1,435.2 158.9,450.2 162.6,465.2 165.1,480.3 166.4,492.8 170.1,500.3 182.6,497.8 195.2,492.8 207.7,487.8 217.7,480.3 227.7,472.8 240.2,465.2 250.2,457.7 255.2,447.7 250.2,442.7 242.7,437.7 237.7,430.2 242.7,425.2 235.2,430.2 227.7,436.5 220.2,435.2 217.7,427.7 220.2,420.2 215.2,412.7 212.7,407.7 222.7,417.7 232.7,425.2 242.7,423.9 252.7,427.7 265.3,430.2 280.3,431.4 292.8,430.2 300.3,440.2 300.3,447.7 307.8,450.2 302.8,455.2 312.8,450.2 314.1,460.2 315.3,475.3 317.8,490.3 321.6,505.3 325.4,520.3 329.1,525.3 332.9,520.3 340.4,505.3 342.9,490.3 345.4,480.3 355.4,470.3 367.9,460.2 380.4,452.7 390.5,447.7 398,445.2 405.5,447.7 408,455.2 410.5,465.2 413,480.3 418,482.8 425.5,475.3 428,490.3 430.5,505.3 433,520.3 438,535.4 443,547.9 450.5,562.9 455.5,569.9 M455.5,569.9 450.5,550.4 445.5,535.4 440.5,520.3 438,507.8 440.5,500.3 450.5,502.8 458.1,512.8 463.1,520.3 475.6,507.8 480.6,495.3 478.1,480.3 470.6,470.3 465.6,460.2 470.6,450.2 480.6,450.2 490.6,452.7 500.6,450.2 510.6,445.2 520.6,440.2 530.7,432.7 540.7,425.2 548.2,415.2 553.2,405.2 550.7,395.1 555.7,387.6 548.2,380.1 553.2,372.6 560.7,367.6 570,362.6 M337.9,517.8 344.1,517.8 347.9,527.8 342.9,536.6 337.9,532.8Z M401,497.8 402.5,507.8 403.5,516.6 M930.6,460.2 936.9,461.5 935.6,465.7 931.9,465.2Z M921.8,453.2 926.8,454.7 M590.1,383.9 598.9,382.6 601.4,392.6 596.3,402.7 591.3,397.6Z M602.6,380.1 615.1,376.4 617.6,380.1 607.6,383.9Z M1071.4,300 1072.7,315 1075.2,335.1 1080.2,350.1 1085.2,362.6 1092.7,377.6 1102.7,387.6 1112.7,393.9 1115.2,400.2 1120.2,410.2 1125.2,417.7 1132.7,425.2 1140.3,432.7 1145.3,440.2 1149,444 1145.3,435.2 1137.8,422.7 1130.2,410.2 1125.2,400.2 1121.5,395.1 1125.2,396.4 1132.7,405.2 1140.3,415.2 1150.3,425.2 1160.3,435.2 1167.8,445.2 1170.3,455.2 1177.8,462.7 1190.3,470.3 1202.8,476.5 1215.4,481.5 1225.4,480.3 1235.4,485.3 1245.4,492.8 1255.4,496.5 1265.4,502.8 1270.5,510.3 1278,515.3 1283,522.8 1288,525.3 1293,521.6 1300.5,522.8 1305.5,525.3 1308,520.3 1305.5,530.3 1308,540.4 1305.5,550.4 1300.5,560.4 1295.5,569.9 M1295.5,342.6 1293,350.1 1288,357.6 1293,365.1 1295.5,375.1 1290.5,382.6 1283,390.1 1278,397.6 1275.5,407.7 1280.5,417.7 1284.2,427.7 1285.5,432.7 1280.5,425.2 1275.5,415.2 1270.5,407.7 1262.9,403.9 1250.4,405.2 1240.4,407.7 1230.4,406.4 1220.4,407.7 1210.4,412.7 1205.4,420.2 1204.1,430.2 1205.4,442.7 1207.9,452.7 1215.4,462.7 1222.9,467.8 1230.4,469 1235.4,462.7 1240.4,455.2 1247.9,451.5 1257.9,452.7 1255.4,462.7 1252.9,472.8 1250.4,480.3 1260.4,482.8 1270.5,484 1275.5,487.8 1276.7,500.3 1278,507.8 1283,515.3 1293,517.8 1303,520.3 1308,520.3 1315.5,512.8 1320.5,507.8 1330.5,502.8 1333,507.8 1330.5,517.8 1335.5,512.8 1340.6,505.3 1350.6,507.8 1360.6,510.3 1370.6,511.6 1380.6,512.8 1388.1,517.8 1395.6,525.3 1405.7,532.8 1415.7,537.9 1425.7,542.9 1435.7,552.9 1440.7,562.9 1445.7,569.9 M1266.7,449 1275.5,444 1288,445.2 1300.5,450.2 1310.5,456.5 1318,460.2 1308,460.2 1298,456.5 1285.5,452.7 1275.5,451.5Z M1320.5,465.2 1330.5,461.5 1343.1,465.2 1345.6,469 1333,471.5 1323,470.3Z M1299.2,470.3 1306.8,469 1309.3,471.5 1301.7,472.8Z M1351.8,469 1359.3,468.3 1359.3,470.8 1352.6,471.3Z M1293,422.7 1298,425.7 M1301,430.2 1305.5,437.2 M1315.5,445.7 1325.5,450.2 M1375.6,475.3 1380.6,490.3 1383.1,500.3 M1610.3,373.9 1602.8,385.1 1604,395.1 1600.3,405.2 1595.3,417.7 1591.5,427.7 1587.8,440.2 1586.5,452.7 1587.8,462.7 1590.3,475.3 1592.8,485.3 1591.5,492.8 1595.3,500.3 1602.8,507.8 1610.3,517.8 1617.8,527.8 1627.8,535.4 1640.3,544.1 1650.4,541.6 1662.9,539.1 1675.4,536.6 1685.4,535.4 1695.4,534.1 1705.4,540.4 1713,544.1 1720.5,542.9 1723,550.4 1725.5,560.4 M1610.3,373.9 1625.3,368.9 1640.3,367.6 1655.4,367.1 1667.9,367.1 1672.9,368.9 1675.4,375.1 1680.4,382.6 1685.4,380.1 1687.9,387.6 1695.4,392.6 1710.5,396.4 1725.5,400.2 1738,402.7 1740.5,395.1 1745.5,391.4 1760.5,393.9 1773,398.9 1785.6,400.2 1796.8,398.9 M1410,536.6 1420,537.9 1432.5,547.9 1437.5,560.4 1440,569.9 M160.1,560 152.6,575 146.3,587.5 142.6,597.6 143.8,610.1 148.8,622.6 153.8,635.1 156.3,647.6 150.1,657.6 141.3,667.7 135.1,676.4 140.1,687.7 143.8,699 141.3,707.7 136.3,710.2 135.1,720.2 138.8,730.3 136.3,736.5 M127.1,710.2 133.1,707.7 136.3,714 131.3,717.7Z M97.5,575 102.5,585 98.8,587.5Z M193.9,634.4 198.9,642.6 202.7,652.6 201.4,665.2 201.4,680.2 200.2,697.7 196.4,706.5 190.2,707.7 183.9,702.7 178.9,690.2 176.4,675.2 175.1,660.2 180.1,655.1 186.4,652.6 190.2,645.1Z M165.1,631.4 170.1,635.1 176.4,638.9 M232.7,682.2 235.7,683.2 234.2,685.2Z M241.2,677.7 243.7,678.7 242.2,680.7Z M570,643.9 560.7,647.6 553.2,657.6 545.7,665.2 538.2,672.7 525.7,678.9 513.1,685.2 508.1,692.7 510.6,705.2 515.6,715.2 523.1,730.3 528.2,742.8 530.7,752.8 538.2,759 550.7,755.3 563.2,752.8 570,752.3 M530,677.7 540,670.2 547.5,660.2 557.5,650.1 567.6,645.1 575.1,648.9 580.1,640.1 583.8,631.4 592.6,630.1 605.1,633.9 611.4,630.1 607.6,642.6 612.6,652.6 622.6,660.2 631.4,663.9 635.2,655.1 636.4,640.1 637.7,627.1 642.7,637.6 650.2,647.6 655.2,660.2 660.2,670.2 670.2,680.2 680.2,690.2 690.2,700.2 695.2,705.2 697.8,715.2 699,730.3 696.5,745.3 692.7,760.3 690.2,772.8 680.2,775.3 672.7,779.1 666.5,777.8 660.2,776.6 650.2,772.8 642.7,765.3 635.2,757.8 631.4,746.5 627.6,755.3 620.1,750.3 610.1,742.8 597.6,739.8 585.1,742.8 572.6,746.5 562.5,751.5 552.5,752.8 542.5,757.8 530,752.8 M672.7,787.8 682.7,786.6 690.2,790.3 690.2,800.4 685.2,805.4 677.7,800.4Z M583.8,575 595.1,572.5 612.6,577.5 630.2,583.8 645.2,590 655.2,597.6 660.2,605.1 670.2,617.6 680.2,623.8 675.2,626.3 665.2,622.6 655.2,613.8 645.2,610.1 637.7,617.6 630.2,617.6 620.1,610.1 615.1,613.8 617.6,605.1 607.6,597.6 597.6,590 590.1,585Z M665.2,600.1 675.2,597.6 685.2,592.5 687.7,590 680.2,588.8 670.2,595.1Z M695.2,597.6 702.8,606.3 M705.3,608.8 715.3,613.8 M717.8,616.3 727.8,622.6 M729,623.8 732.8,627.1 M756.6,647.6 760.3,655.1 M762.8,660.2 766.6,667.7 M767.9,672.7 771.6,678.9 M744.1,678.9 750.3,683.9 757.8,690.2 756.6,691.4 749.1,686.4Z M805.4,662.7 811.7,661.4 814.2,666.4 807.9,667.7Z M815.4,656.4 819.2,658.9 M545,626.3 555,618.8 565.1,615.1 562.5,618.8 552.5,624.6Z M791.6,755.3 797.9,760.3 802.9,770.3 812.9,774.1 820.4,772.8 817.9,780.3 810.4,785.3 807.9,792.8 801.7,790.3 800.4,780.3 797.9,772.8 795.4,762.8Z M801.7,791.6 797.9,800.4 792.9,810.4 785.4,820.4 780.4,825.4 775.4,817.9 776.6,810.4 782.9,804.1 790.4,796.6 796.6,790.3Z M1308.9,540 1305.1,552.5 1296.4,563.8 1292.6,575.1 1293.9,585.1 1290.1,593.8 1292.6,602.6 1298.9,610.1 1303.9,622.6 1308.9,635.1 1312.7,645.2 1320.2,652.7 1328.9,661.4 1336.4,667.7 1335.2,680.2 1332.7,695.2 1328.9,710.3 1326.4,725.3 1322.7,740.3 1317.7,755.3 1312.7,767.8 1307.6,780.4 1302.6,790.4 1297.6,800.4 1292.6,809.9 M1427.8,575.1 1435.3,570 1440.3,566.3 1445.4,572.5 1455.4,575.1 1462.9,580.1 1467.9,585.1 1480.4,584.6 1492.9,587.6 1502.9,592.6 1510.5,598.8 1511.7,607.6 1509.2,617.6 1502.9,627.6 1495.4,637.6 1489.2,645.2 1486.7,657.7 1482.9,670.2 1477.9,680.2 1470.4,687.7 1460.4,691.5 1450.4,696.5 1440.3,701.5 1432.8,707.8 1430.3,720.3 1422.8,730.3 1415.3,737.8 1407.8,744.1 1400.3,750.3 1390.3,756.6 1382.8,757.8 1377.8,754.1 1380.3,760.3 1380.3,767.8 1372.7,774.1 1362.7,779.1 1352.7,780.4 1345.2,789.1 1337.7,790.4 1335.2,797.9 1330.2,805.4 1327.7,809.9 M1377.8,754.1 1385.3,745.3 1390.3,737.8 1395.3,742.8 1400.3,750.3 M1240,570 1245.1,572 1251.3,574.6 M1724.5,563.4 1722,571.8 1725.3,578.4 1730.3,586.8 1735.3,593.5 1738.7,599.3 1739.5,608.5 1741.2,616.8 1742,626.8 1738.7,636.9 1733.7,646.9 1729.5,655.2 1727,661.9 1726.2,670.3 1728.7,680.3 1731.2,690.3 1732,700 M1729.5,680 1732,690 1728.7,700 1727.8,710.1 1729.5,720.1 1731.2,730.1 1729.5,740.1 1728.7,746.8 1725.3,750.1 1726.2,755.1 1729.5,757.6 1738.7,755.1 1748.7,753.5 1758.7,752.6 1767.1,749.3 1775.4,745.1 1783.8,740.1 1787.9,736.4 M341.6,932.8 347.9,936.5 355.4,937.8 365.4,937.8 371.7,939 367.9,934 377.9,927.8 385.4,925.3 390.5,919 403,918.3 413,921.5 415.5,924.8 425.5,925.3 440.5,926.5 465.6,927.3 470.6,934 473.1,939 480.6,940.3 485.6,947.8 488.1,952.8 490.6,945.3 488.1,939 495.6,935.3 500.6,930.3 515.6,924 530.7,922.3 545.7,920.8 570,918.3 M530,922.8 545,921.5 560,919 575.1,918.3 590.1,920.8 602.6,924 612.6,919.8 620.1,925.8 640.2,924.8 655.2,922.8 670.2,924 680.2,920.3 700.3,920.8 720.3,924 730.3,927.3 745.3,930.3 760.3,931.5 775.4,935.3 790.4,937.8 800.4,941.6 815.4,942.8 827.9,946.6 822.9,952.8 815.4,957.8 805.4,961.6 812.9,967.8 822.9,971.6 833,970.3 820.4,975.4 810.4,980.4 822.9,987.9 843,990.4 863,992.4 885.5,994.1 900.6,994.9 920.6,991.6 940.6,995.4 930.6,986.6 950.6,984.1 965.7,979.1 955.6,975.4 940.6,972.8 955.6,967.8 975.7,965.3 993.2,961.6 1010,959.1 M970,969.1 985,966.6 1000,964.1 1020.1,960.3 1037.6,955.8 1055.1,955.3 1075.2,957.8 1090.2,961.6 1105.2,960.3 1120.2,961.6 1125.2,957.8 1120.2,952.8 1130.2,947.8 1145.3,949.1 1160.3,951.6 1175.3,952.8 1187.8,954.8 1200.3,952.8 1215.4,951.6 1230.4,949.1 1237.9,940.3 1232.9,932.8 1222.9,937.8 1215.4,942.8 1225.4,947.8 1235.4,940.3 1247.9,930.3 1260.4,922.8 1275.5,915.3 1290.5,909 1305.5,905.2 1313,906.5 1295.5,912.8 1280.5,918.3 1267.9,924 1262.9,932.8 1265.4,942.8 1257.9,952.8 1245.4,960.3 1230.4,965.3 1215.4,967.8 1200.3,969.1 1187.8,967.8 1170.3,972.8 1165.3,975.4 1180.3,979.1 1195.3,980.4 1210.4,987.9 1215.4,991.6 1230.4,987.9 1245.4,986.6 1260.4,986.6 1280.5,984.1 1303,981.6 1320.5,979.1 1338.1,980.4 1320.5,976.6 1305.5,975.4 1320.5,971.6 1340.6,966.6 1360.6,961.6 1380.6,956.6 1400.6,951.6 1420.7,947.3 1450,941.6 M1242.9,981.6 1257.9,976.6 1275.5,972.8 1283,975.4 1270.5,980.4 1252.9,984.1Z M1410,950.3 1430,946.6 1450.1,944.1 1465.1,942.8 1485.1,941.6 1510.2,940.3 1535.2,940.3 1560.2,939.8 1580.3,939 M1321.8,740 1319.3,750 1313,762.5 1305.5,775.1 1300.5,787.6 1295.5,800.1 1288,812.6 1280.5,825.1 1273,837.6 1269.2,850.2 1274.2,860.2 1285.5,866.4 1295.5,865.2 1305.5,863.9 1295.5,857.7 1293,847.7 1298,840.2 1308,835.1 1313,825.1 1318,815.1 1328,805.1 1335.5,797.6 1333,790.1 1340.6,785.1 1350.6,780.1 1360.6,777.6 1370.6,772.5 1378.1,765 1380.6,755 1376.9,747.5 1380.6,740 M1294.2,848.9 1303,857.7 1306.8,863.9 M1326.8,848.9 1335.5,846.4 1339.3,848.9 1330.5,851.4Z M1380.6,740 1395.6,750 1405.7,745 1410.7,740 M1120.2,153.4 1133.5,150 1150.2,148.4 1163.6,149.2 1173.6,151.7 1163.6,154.2 1150.2,155 1136.8,156.7 1125.2,157.5Z M1130.2,160 1143.5,158.4 1156.9,159.2 1166.9,161.7 1156.9,164.2 1143.5,165.1 1133.5,163.4Z M1176.9,155 1190.3,151.7 1203.6,150 1213.6,149.2 1218.6,151.7 1207,155 1193.6,158.4 1183.6,160Z M1146.9,166.7 1160.2,165.9 1173.6,167.6 1185.3,170.1 1186.9,175.1 1176.9,176.7 1163.6,175.1 1151.9,172.6Z M1095.1,160 1106.8,158.4 1116.8,161.7 1110.1,165.1 1100.1,164.2Z M1073.4,163.4 1083.4,162.5 1085.1,165.9 1076.7,167.6Z M1046.7,171.7 1060.1,167.6 1073.4,168.4 1086.8,170.9 1100.1,173.4 1101.8,176.7 1090.1,175.9 1080.1,178.4 1068.4,175.9 1056.7,175.1Z M1116.8,170.9 1126.8,169.2 1130.2,174.2 1123.5,176.7 1117.6,175.1Z M1042.5,182.6 1053.4,179.2 1063.4,181.7 1060.1,188.4 1066.7,191.8 1058.4,193.4 1048.4,191.8 1041.7,188.4Z M1065.9,185.1 1080.1,181.7 1093.4,182.6 1103.5,185.1 1108.5,183.4 1113.5,188.4 1123.5,196.8 1126.8,201.8 1116.8,200.9 1106.8,203.4 1096.8,206.8 1086.8,208.5 1081.8,205.1 1075.1,200.9 1070.1,195.1 1066.7,190.1Z M1120.2,184.2 1130.2,182.6 1136.8,185.1 1138.5,190.1 1131.8,192.6 1123.5,190.1Z M1140.2,182.6 1153.5,181.7 1155.2,185.1 1146.9,188.4 1145.2,195.1 1150.2,201.8 1156.9,206.8 1153.5,211.8 1146.9,208.5 1141.9,201.8 1140.2,193.4Z M1163.6,185.1 1171.9,182.6 1183.6,183.4 1180.3,188.4 1186.9,195.1 1183.6,201.8 1186.9,208.5 1180.3,210.1 1173.6,205.1 1168.6,198.4 1165.2,191.8Z M1190.3,183.4 1203.6,185.1 1217,190.1 1230.3,196.8 1243.7,201.8 1253.7,206.8 1263.7,211.8 1277.1,215.1 1275.4,221.8 1263.7,218.5 1270.4,228.5 1280.4,236.8 1272.1,235.2 1263.7,231.8 1253.7,228.5 1247,233.5 1237,230.2 1230.3,235.2 1223.7,231.8 1227,225.2 1220.3,221.8 1227,216.8 1233.7,213.5 1227,208.5 1217,205.1 1210.3,200.1 1203.6,201.8 1200.3,208.5 1193.6,205.1 1196.9,198.4 1190.3,193.4 1193.6,188.4Z M1190.3,215.1 1196.9,218.5 1207,221.8 1215.3,226.8 1213.6,230.2 1203.6,228.5 1196.9,231.8 1191.9,226.8 1192.8,220.1Z M1207,233.5 1212,232.7 1213.6,236 1208.6,236.8Z M1222,235.2 1225.3,234.8 1225.7,238.2 1222.3,238.5Z M1136.8,168.4 1146.9,169.2 1145.2,173.4 1138.5,172.6Z M1105.1,168.4 1113.5,167.6 1115.1,170.9 1107.6,171.7Z M1175.2,180.1 1185.3,178.7 1195.3,180.1 1186.9,182.1Z M1196.9,163.4 1207,160 1217,161.7 1212,165.9 1202,167.6Z M1253.7,213.5 1263.7,215.1 1273.7,218.5 1270.4,221.8 1260.4,219.3Z M1260.4,230.2 1270.4,233.5 1277.1,236.8 1270.4,237.7 1262.1,234.8Z M481.8,465 486.8,460.9 492.7,461.7 491,466.7 486,470.1Z M410.9,538.5 416.7,540.2 425,546.8 433.4,556.9 441.7,566.9 450.1,576.9 456.8,586.9 460.1,595.3 459.3,601.9 453.4,597.8 445.1,590.3 436.7,580.2 428.4,570.2 421.7,560.2 415,550.2 410.9,541.8Z M412.5,553.5 416.7,556.9 M420,561.9 423.4,566.9 M426.7,575.2 430.1,580.2 M460.1,601.1 470.1,602.8 480.1,604.4 490.2,606.9 500.2,610.3 510.2,613.6 520.2,615.3 528.5,615 526.9,617 516.9,617.8 506.8,616.1 496.8,613.6 486.8,611.1 476.8,608.6 466.8,606.1 460.9,604.4Z M531.9,615.3 538.6,615 545.2,614.5 553.6,613.6 563.6,612.8 560.3,615.3 550.3,616.6 540.2,617.3Z M476,561.9 480.1,558.5 486.8,555.2 493.5,550.2 500.2,543.5 506.8,538.5 513.5,533.5 516.9,531 520.2,536.8 524.4,540.2 520.2,545.2 515.2,548.5 518.5,555.2 523.5,562.7 519.4,564.4 516.9,573.6 513.5,580.2 510.2,586.9 506.8,590.3 500.2,586.9 493.5,587.7 486.8,585.2 481.8,581.9 480.1,573.6 476.8,568.5Z M528.5,566.9 533.6,563.5 541.9,564.4 550.3,562.7 553.6,559.4 551.1,564.4 543.6,567.7 535.2,568.5 531.9,571.9 538.6,573.6 543.6,576.9 541.9,581.9 545.2,590.3 543.6,596.9 539.4,595.3 538.6,586.9 535.2,581.9 531.9,578.6 530.2,585.2 531.9,593.6 530.2,600.3 526.9,596.9 526,588.6 524.4,580.2 526.9,573.6Z M538.6,470.1 543.6,468.4 546.1,473.4 545.2,481.7 546.9,488.4 551.9,493.4 556.9,496.8 555.3,500.1 550.3,497.6 545.2,495.1 540.2,493.4 535.2,490.1 536.1,481.7 536.9,475.1Z M540.2,496.8 546.9,498.4 550.3,503.4 545.2,506.8 541.9,503.4Z M548.6,506.8 555.3,505.1 558.6,510.1 553.6,513.5 549.4,511Z M543.6,508.4 547.7,510.1 546.9,515.1 543.6,513.5Z M540.2,526.8 546.9,523.5 555.3,521.8 560.3,525.1 561.9,531.8 556.9,536.8 551.9,533.5 546.9,534.3 541.9,531.8Z M515.2,526.8 520.2,520.1 526.9,511.8 531.9,504.3 532.7,505.9 527.7,513.5 521.9,521.8 516.9,527.6Z M565.3,560.2 568.6,555.2 570.3,560.2 568.6,566.9 565.3,571.9 564.4,566.9Z M558.6,586.9 563.6,585.2 564.4,588.6 559.4,589.4Z M566.9,585.2 575.3,584.4 582,586.1 577,588.6 568.6,588.2Z M539.4,440 545.2,440 543.6,446.7 540.2,448.3Z M580.3,570.2 585.3,568.5 588.6,571.9 583.6,573.6Z M470.1,583.6 473.5,582.7 473.8,586.1 471,586.6Z M597,600.3 600.3,599.4 599.5,606.9 597,605.3Z"/>
<path stroke-width="1.7" d="M272.8,306.5 276.5,300.3 287.8,297.8 302.8,290.2 315.3,289 330.4,291.5 342.9,292.8 347.9,287.7 355.4,279 370.4,275.2 385.4,272.7 398,270.2 403,275.2 410.5,279 418,275.2 424.3,275.2 424.3,290.2 433,295.3 440.5,297.8 448,301.5 460.6,297.8 473.1,295.3 485.6,297.8 495.6,295.3 503.1,287.7 513.1,291.5 523.1,296.5 535.7,297.8 548.2,301.5 560.7,299 570,297.8 M448,301.5 450.5,315.3 458.1,325.3 465.6,332.8 480.6,337.8 500.6,342.8 520.6,337.8 535.7,332.8 553.2,322.8 570,315.3 M448,301.5 440.5,305.3 435.5,310.3 425.5,312.8 415.5,317.8 403,320.3 400.5,327.8 390.5,332.8 377.9,337.8 365.4,342.8 352.9,346.6 340.4,350.3 330.4,355.3 M246.5,269 240.2,276.5 242.2,285.2 236.5,292.3 240.2,297.8 250.2,301.5 242.7,307.8 232.7,312.3 222.7,316.5 215.2,322.8 M227.7,332.8 240.2,337.8 252.7,340.8 261.5,345.3 M226.5,338.3 230.2,347.8 226.5,355.3 235.2,362.9 230.2,370.4 220.2,375.4 215.2,385.4 213.9,394.9 M230.2,370.4 240.2,367.9 250.2,371.6 262.8,365.4 M272.8,360.4 287.8,365.4 297.8,375.4 310.3,371.6 320.3,375.4 330.4,385.4 340.4,394.9 M257.3,325.3 262.8,330.3 270.3,329.1 275.3,335.3 285.3,342.8 297.8,340.3 305.3,322.8 315.3,325.3 320.3,332.8 330.4,334.1 334.1,340.3 330.4,355.3 337.9,365.4 350.4,362.9 357.9,357.8 365.4,365.4 362.9,375.4 365.4,385.4 360.4,394.9 M305.3,342.8 315.3,350.3 310.3,360.4 316.6,365.4 330.4,355.3 M289,342.8 297.8,350.3 302.8,360.4 310.3,365.4 316.6,365.4 M340.4,350.3 350.4,345.3 360.4,342.8 355.4,350.3 345.4,352.8 339.1,347.8 M192.7,342.8 205.2,345.3 215.2,345.3 222.7,350.3 227.7,355.3 M172.6,377.9 185.1,375.4 197.7,377.9 210.2,375.4 220.2,375.4 M991.9,200.1 993.2,225.2 994.4,246.4 M530,297.8 540,301.5 550,300.3 562.5,297.8 571.3,300.3 565.1,305.3 562.5,309 572.6,311.5 580.1,305.3 582.6,297.8 590.1,287.7 598.9,281.5 610.1,280.7 617.6,282.7 618.1,297.8 626.4,304 627.6,311.5 635.2,309.8 645.2,305.8 640.2,312.8 635.2,319 627.6,322.8 622.6,326.6 620.1,334.1 612.6,339.1 606.4,345.3 M530,325.3 540,322.8 552.5,317.8 565.1,315.3 572.6,311.5 M584.6,355.3 580.1,359.1 571.3,356.6 562.5,350.3 M583.8,369.1 595.6,367.4 M992.5,200.1 993.8,225.2 995,245.2 M1075.2,303.3 1120.2,303.3 1155.3,303.3 1190.3,302.8 1210.4,311.5 1230.4,317.8 1245.4,322.8 1252.9,327.8 1255.4,340.3 1265.4,335.3 1278,325.3 1288,317.8 1293,311.5 1303,304 1305.5,315.3 1313,320.3 1320.5,322.8 M1572.7,200.1 1565.2,207.6 1560.2,220.1 1567.7,232.7 1575.2,242.7 1582.3,247.7 M1574,197.6 1582.8,205.1 1590.3,218.1 M1582.8,200.1 1600.3,212.6 1615.3,227.7 1630.3,240.2 1640.3,245.7 M1579,337.8 1587.8,342.8 1590.3,352.8 1595.3,362.9 1594,366.6 M1610.3,335.3 1627.8,335.8 M1605.8,287.2 1610.3,295.3 1617.8,300.3 1622.8,310.3 1625.3,317.8 1622.8,325.3 1630.3,327.8 1635.3,334.1 M1620.3,282.2 1625.3,290.2 1630.3,300.3 1627.8,307.8 1635.3,305.3 1645.4,310.3 1642.8,317.8 1635.3,320.3 1625.3,317.8 M1645.4,281.7 1655.4,290.2 1660.4,300.3 1657.9,307.8 1645.4,310.3 M1642.8,317.8 1655.4,320.3 1662.9,325.3 1675.4,327.8 1682.9,337.8 1692.9,345.3 1702.9,350.3 1710.5,345.3 1720.5,350.3 1730.5,357.8 1735.5,365.4 1738,367.9 M1660.4,300.3 1670.4,305.3 1680.4,310.3 1690.4,315.3 1697.9,310.3 1710.5,311.5 1723,317.8 M1680.4,310.3 1675.4,322.8 1685.4,332.8 1697.9,337.8 1710.5,332.8 1720.5,325.3 1723,325.3 M1650.9,275.2 1660.4,280.2 1672.9,285.2 1685.4,287.7 1700.4,290.2 M1660.4,280.2 1662.9,290.2 1675.4,297.8 1690.4,300.3 1702.9,297.8 M1635.3,320.3 1645.4,325.3 1656.6,334.1 M1622.8,310.3 1630.3,312.8 1635.3,320.3 M1697.9,337.8 1702.9,350.3 M1710.5,345.3 1718,340.3 1730.5,337.8 1733,342.8 M116.3,448.2 146.3,448.2 M152.6,407.7 165.1,400.2 180.1,396.4 190.2,405.2 200.2,412.7 212.7,410.2 M210.2,382.6 215.2,395.1 212.7,407.7 M177.6,380.1 195.2,382.6 210.2,382.6 M195.2,382.6 190.2,395.1 180.1,396.4 M153.8,400.2 165.1,400.2 M167.6,480.3 182.6,472.8 197.7,467.8 215.2,465.2 230.2,460.2 235.2,450.2 230.2,436.5 M215.2,465.2 216.4,475.3 217.7,480.3 M230.2,357.6 245.2,367.6 260.3,367.6 265.3,365.1 272.8,375.1 270.3,390.1 277.8,405.2 272.8,410.2 280.3,420.2 277.8,430.2 M265.3,365.1 280.3,357.6 295.3,362.6 310.3,357.6 322.8,362.6 335.4,360.1 340.4,367.6 330.4,375.1 320.3,385.1 312.8,395.1 305.3,402.7 292.8,407.7 277.8,408.9 M340.4,367.6 340.4,375.1 345.4,387.6 335.4,397.6 325.4,407.7 315.3,417.7 310.3,427.7 297.8,435.2 300.3,440.2 M345.4,375.1 355.4,385.1 360.4,395.1 362.9,407.7 372.9,415.2 385.4,420.2 395.5,417.7 405.5,420.2 415.5,417.7 425.5,412.7 435.5,410.2 443,417.7 M362.9,410.2 372.9,417.7 385.4,422.7 395.5,422.7 M390.5,447.7 391.7,435.2 400.5,430.2 408,435.2 405.5,447.7 M443,417.7 435.5,425.2 425.5,432.7 418,440.2 410.5,450.2 408,455.2 M443,417.7 440.5,430.2 445.5,440.2 450.5,450.2 445.5,455.2 435.5,460.2 430.5,470.3 433,485.3 438,497.8 M445.5,455.2 453,460.2 460.6,455.2 465.6,460.2 M450.5,450.2 460.6,447.7 470.6,450.2 M453,460.2 455.5,470.3 465.6,475.3 470.6,485.3 465.6,495.3 455.5,497.8 450.5,502.8 M465.6,447.7 475.6,444 480.6,450.2 M153.8,480.3 142.6,490.3 135.1,497.8 137.6,510.3 130.1,520.3 120,525.3 115,517.8 113.8,505.3 M165.1,507.8 172.6,520.3 190.2,525.3 175.1,540.4 162.6,546.6 150.1,550.4 150.1,569.9 M120,546.6 135.1,550.4 150.1,550.4 M100,547.9 110,540.4 120,546.6 M153.8,480.3 160.1,497.8 165.1,505.3 M135.1,497.8 127.6,507.8 122.5,520.3 120,546.6 M1112.7,393.9 1120.2,393.1 1130.2,398.9 1147.8,397.6 1160.3,398.9 1170.3,407.7 1180.3,410.2 1190.3,417.7 1197.8,425.2 1204.1,428.9 M1235.4,485.3 1240.4,475.3 1245.4,475.3 1245.4,470.3 1252.9,472.8 M1245.4,492.8 1250.4,486.5 1260.4,482.8 M1260.4,497.8 1270.5,490.3 1276.7,489 M1270.5,510.3 1279.2,509.1 M1283,521.6 1285.5,516.6 M1333,507.8 1330.5,520.3 1338.1,530.3 1350.6,535.4 1355.6,545.4 1353.1,555.4 1358.1,565.4 M1388.1,522.8 1385.6,532.8 1393.1,540.4 1390.6,550.4 M1405.7,532.8 1404.4,545.4 1408.2,555.4 M1420.7,540.4 1418.2,552.9 1420.7,560.4 M1358.1,565.4 1370.6,560.4 1380.6,550.4 1390.6,550.4 1400.6,560.4 1408.2,555.4 1420.7,560.4 1430.7,557.9 1435.7,552.9 M1417.5,537.9 1421.3,555.4 1415,557.9 1410,555.4 M1635.3,371.4 1627.8,385.1 1630.3,395.1 1615.3,405.2 1614.1,417.7 M1595.3,417.7 1617.8,417.7 1617.8,425.2 1602.8,427.7 1602.8,440.2 1596.5,450.2 1586.5,452.7 M1631.6,434 1637.8,460.2 1645.4,485.3 1617.8,486.5 1615.3,497.8 M1617.8,420.2 1662.9,447.7 1685.4,464 1718,442.7 1733,445.2 1735.5,442.7 1783.1,460.2 M1695.4,392.6 1700.4,417.7 1710.5,435.2 1718,442.7 M1765.5,398.9 1780.6,447.7 1784.3,460.2 1783.1,485.3 1780.6,497.8 1785.6,507.8 1795.6,520.3 1810.6,525.3 M1784.3,449 1805.6,449 M1733,445.2 1743,460.2 1738,495.3 1745.5,502.8 M1685.4,464 1687.9,485.3 1675.4,487.8 1670.4,486.5 M1687.9,485.3 1695.4,495.3 1710.5,499 1725.5,496.5 1738,495.3 M1672.9,368.9 1675.4,382.6 1685.4,390.1 1695.4,392.6 M1591.5,492.8 1600.3,490.3 1610.3,497.8 1617.8,497.8 M1595.3,500.3 1610.3,500.3 M1602.8,507.8 1615.3,507.8 1622.8,517.8 1630.3,515.3 1635.3,525.3 1640.3,544.1 M1635.3,525.3 1645.4,512.8 1650.4,507.8 1660.4,507.8 1662.9,539.1 M1662.9,509.1 1675.4,507.8 1675.4,536.6 M1681.7,507.8 1685.4,535.4 M1687.9,507.8 1695.4,534.1 M1650.4,507.8 1655.4,495.3 1670.4,486.5 1687.9,497.8 1687.9,507.8 1662.9,509.1 M1723,550.4 1733,537.9 1743,525.3 1745.5,502.8 1750.5,515.3 1748,530.3 1760.5,525.3 1770.5,535.4 1768,547.9 1755.5,552.9 1743,555.4 M1750.5,515.3 1765.5,512.8 1780.6,497.8 M1768,547.9 1785.6,542.9 1800.6,540.4 1810.6,547.9 M98.8,573.8 115,573.8 135.1,587.5 143.8,592.5 M100,610.1 115,620.1 122.5,632.6 135.1,630.1 150.1,625.6 M115,620.1 120,632.6 125.1,642.6 132.6,652.6 133.8,658.9 127.6,655.1 122.5,645.1 M105,647.6 117.5,645.1 122.5,657.6 125.1,675.2 120,687.7 122.5,700.2 127.6,707.7 M630.2,583.8 630.7,617.6 M1296.4,563.8 1310.2,567.5 1317.7,570 1320.2,575.1 1312.7,582.6 1302.6,587.6 1297.6,593.8 M1317.7,570 1327.7,577.6 1342.7,583.8 1346.5,590.1 1340.2,592.6 1328.9,600.1 1325.2,610.1 1328.9,620.1 1338.9,621.4 1346.5,628.9 1345.2,645.2 1342.7,657.7 1336.4,667.7 M1346.5,628.9 1362.7,623.9 1365.2,633.9 1375.2,638.9 1386.5,642.7 1386.5,652.7 1395.3,657.7 1396.5,670.2 1394,676.5 1395.3,687.7 1402.8,690.2 1404,700.2 1407.8,705.2 1407.8,710.3 1400.3,722.8 1390.3,730.3 1387.8,735.3 1395.3,740.3 1402.8,747.8 1410.3,740.3 M1336.4,667.7 1342.7,675.2 1346.5,691.5 1355.2,689 1362.7,691.5 1370.2,687.7 1375.2,676.5 1385.3,675.2 1394,676.5 M1370.2,687.7 1377.8,697.7 1387.8,705.2 1389,715.3 1400.3,715.3 1407.8,710.3 M1387.8,735.3 1382.8,745.3 1377.8,754.1 M1346.5,691.5 1341.4,702.7 1340.2,715.3 1335.2,730.3 1330.2,745.3 1325.2,760.3 1320.2,775.4 1315.2,790.4 1310.2,805.4 1308.9,809.9 M1346.5,560 1346.5,572.5 1342.7,583.8 M1354,540 1355.2,552.5 1360.2,562.5 1370.2,557.5 1375.2,547.5 1385.3,545 M1346.5,560 1360.2,563.8 M1391.5,540 1392.8,552.5 1400.3,560 1410.3,555.5 1420.3,553 1430.3,547.5 1435.3,555 1440.3,566.3 M1402.8,545 1410.3,555.5 M1419.1,540 1420.3,553 M1720.3,545 1723.7,536.7 1730.3,530.9 1737,526.7 1738.7,520 M1727,555.9 1733.7,555.9 1733.7,562.6 1725.3,563.1 M1733.7,556.7 1745.4,557.6 1748.7,561.7 1747,568.4 1748.7,575.1 1745.4,581.8 1740.4,578.4 1735.3,584.3 1737,590.1 1740.4,593.5 M1747,530 1750.4,541.7 1755.4,551.7 1758.7,555.9 1748.7,561.7 M1747,530 1752,526.7 1763.7,523.3 1770.4,520 M1758.7,555.9 1762.1,550.1 1767.1,550.1 1768.7,543.4 1787.1,545 1797.1,540 1810.5,541.7 1823.8,545 M1767.1,550.9 1765.4,568.4 1760.4,576.8 1753.7,586.8 1747,595.1 1740.4,593.5 M1738.7,601 1757,601 1760.4,611.8 1770.4,610.2 1772.1,606.8 1780.4,607.6 1782.1,626.8 1788.8,628.5 1789.6,638.5 1778.7,639.4 1777.1,653.6 1780.4,663.6 M1727,661.9 1737,661.1 1747,661.9 1757,662.7 1768.7,666.1 1780.4,663.6 1790.4,666.9 1803.8,660.2 1813.8,653.6 M1768.7,666.1 1763.7,686.9 1758.7,688.6 1756.2,700 M1789.6,628.5 1800.5,631.9 1813.8,636.9 1817.1,640.2 M1790.4,666.9 1797.1,680.3 1805.5,686.9 M1736.2,594.3 1740.4,593.5 M1729.5,720.1 1737,725.1 1745.4,723.4 1750.4,713.4 1753.7,703.4 1757,693.4 1760.4,686.7 1763.7,680 M1753.7,711.7 1760.4,713.4 1767.1,708.4 1773.7,706.7 1783.8,700 1792.1,693.4 1803.8,688.3 M1776.7,731.8 1785.4,725.1 1787.9,728.4 1779.6,734.8Z M1795.4,680 1798.8,685 1805.5,688.3 M1331.8,740 1329.3,755 1324.3,770 1318,785.1 1311.8,800.1 1305.5,815.1 1300,830.1 1295.5,845.2 1295,852.7 M486.8,555.2 483.5,561.9 490.2,564.4 500.2,556.9 506.8,550.2 515.2,548.5"/>
<path stroke-width="1.3" d="M1074.2,320.1 1088.4,319.4 1103.4,320.1 M1099.8,304.4 1100.4,320.1 1103.4,320.4 1104.4,330.1 1104.8,341.4 M1074.2,341.8 1093.4,341.8 1118.5,342.1 M1093.4,342.1 1093.8,353.5 1106.8,366.8 1121,380.2 1121.8,386.8 M1118.8,342.1 1120.1,355.1 1121.5,367.6 1122.1,374.3 M1099.8,304.4 1104.3,310.9 1111,314.2 1114.3,322.6 1121,327.6 1128.5,328.4 M1118.5,342.1 1128.5,342.1 1128.1,324.7 1156.9,324.7 M1128.8,342.1 1131,346.1 1141.8,346.4 M1154,304 1155.2,313.4 1156.4,319.7 1157.7,324.7 1158.9,333.8 1159.9,340.1 1160.5,346.8 M1156.4,319.7 1187.7,319.6 M1158.9,333.8 1178.6,333.8 1193.6,334.3 M1131,346.1 1160.5,346.8 1171.9,346.8 1193.6,347.1 1206.9,347.6 M1141.8,346.4 1143.5,367.6 1146.8,396.9 M1121.5,367.6 1143.5,367.6 1173.6,367.1 1208.6,367.6 M1171.9,346.8 1173.6,367.1 1174.4,371 1175.2,394.4 1150.2,395.2 1146.8,396.9 M1174.4,371 1185.2,371 1185.6,380.2 1196.9,382.2 1206.9,384.5 1217,385.5 1218.6,396.9 1219.5,407.2 M1183.6,304 1186.9,319.6 1188.9,330.1 1191.1,334.3 1220.3,333.8 M1193.6,334.3 1196.1,338.4 1200.3,346.4 1206.9,347.6 1208.6,353.5 1208.6,371 1230.3,371 M1200.3,346.4 1222.8,346.4 M1220.3,333.8 1222.8,340.1 1225.3,346.8 1223.6,353.5 1230.3,361.8 1232,366.8 1230.3,371.8 1228.6,380.2 1227.8,389.3 1230.3,398.9 1237,399.5 M1218.6,389.3 1228,389.3 M1206.9,321.7 1217,323.7 1221.1,330.1 1220.3,333.8 M1237,343.4 1237.3,360.1 1232,366.8 M1247.8,342.1 1248.3,357.1 M1225.3,346.8 1237,343.4 1247.8,342.1 M1264.5,344.3 1264.7,352.1 1288.7,351.8 M1264.5,344.3 1268.7,341.4 1290.4,341.4 1293.8,346.8 M1232,366.8 1248.7,364.3 1263.7,363.5 1273.7,358.5 1280.4,353.5 M1230.3,378.5 1262,377.7 M1232,367.1 1263.7,366.5 1293.8,371 M1242,378.5 1242.7,400.2 M1255.4,378.2 1257,396.9 1256.2,400.5 1275.4,400.5 M1262,377.7 1270.4,380.2 1280.4,386.8 1283.7,393.5 M1262,377.7 1267,373.5 1277.1,372.7 1290.4,375.2 M1264.7,352.1 1257,358.5 1248.7,364.3 M1290.4,341.4 1292.1,335.1 1297.1,330.1 1300.4,337.6"/>
</g>
<path d="M270.9,891.2 L1650,891.2 M131.5,732.2 L1789.4,732.2 M97,569.2 L1823.9,569.2 M131.5,406.2 L1789.4,406.2 M270.9,247.2 L1650,247.2 M883.9,130.9 L881.2,135.3 L878.1,141.4 L874.7,148.8 L871,157.5 L867.3,167.1 L863.6,177.5 L860.2,188.3 L857,199.5 L854,211 L851.1,222.8 L848.3,234.9 L845.5,247.2 L842.9,259.8 L840.3,272.5 L837.8,285.4 L835.6,298.5 L833.4,311.7 L831.5,325 L829.6,338.4 L827.8,351.9 L826.2,365.4 L824.8,379 L823.5,392.6 L822.3,406.2 L821.3,419.7 L820.4,433.3 L819.7,446.9 L819.1,460.5 L818.5,474.1 L818,487.7 L817.5,501.3 L817.2,514.9 L816.9,528.4 L816.7,542 L816.6,555.6 L816.5,569.2 L816.6,582.8 L816.7,596.4 L816.9,610 L817.2,623.5 L817.5,637.1 L818,650.7 L818.5,664.3 L819.1,677.9 L819.7,691.5 L820.4,705.1 L821.3,718.7 L822.3,732.2 L823.5,745.8 L824.8,759.4 L826.2,773 L827.8,786.5 L829.6,800 L831.5,813.4 L833.4,826.7 L835.6,839.9 L837.8,853 L840.3,865.9 L842.9,878.6 L845.5,891.2 L848.3,903.5 L851.1,915.6 L854,927.4 L857,938.9 L860.2,950.1 L863.6,960.9 L867.3,971.3 L871,980.9 L874.7,989.6 L878.1,997 L881.2,1003.1 L883.9,1007.5 M1037,130.9 L1039.7,135.3 L1042.8,141.4 L1046.2,148.8 L1049.9,157.5 L1053.6,167.1 L1057.3,177.5 L1060.7,188.3 L1063.9,199.5 L1066.9,211 L1069.8,222.8 L1072.6,234.9 L1075.4,247.2 L1078,259.8 L1080.6,272.5 L1083.1,285.4 L1085.3,298.5 L1087.5,311.7 L1089.4,325 L1091.3,338.4 L1093.1,351.9 L1094.7,365.4 L1096.1,379 L1097.4,392.6 L1098.6,406.2 L1099.6,419.7 L1100.5,433.3 L1101.2,446.9 L1101.8,460.5 L1102.4,474.1 L1102.9,487.7 L1103.4,501.3 L1103.7,514.9 L1104,528.4 L1104.2,542 L1104.3,555.6 L1104.4,569.2 L1104.3,582.8 L1104.2,596.4 L1104,610 L1103.7,623.5 L1103.4,637.1 L1102.9,650.7 L1102.4,664.3 L1101.8,677.9 L1101.2,691.5 L1100.5,705.1 L1099.6,718.7 L1098.6,732.2 L1097.4,745.8 L1096.1,759.4 L1094.7,773 L1093.1,786.5 L1091.3,800 L1089.4,813.4 L1087.5,826.7 L1085.3,839.9 L1083.1,853 L1080.6,865.9 L1078,878.6 L1075.4,891.2 L1072.6,903.5 L1069.8,915.6 L1066.9,927.4 L1063.9,938.9 L1060.7,950.1 L1057.3,960.9 L1053.6,971.3 L1049.9,980.9 L1046.2,989.6 L1042.8,997 L1039.7,1003.1 L1037,1007.5 M1190.2,130.9 L1198.2,135.3 L1207.5,141.4 L1217.7,148.8 L1228.7,157.5 L1240,167.1 L1251.1,177.5 L1261.3,188.3 L1270.7,199.5 L1279.7,211 L1288.4,222.8 L1296.9,234.9 L1305.2,247.2 L1313.2,259.8 L1320.9,272.5 L1328.3,285.4 L1335.1,298.5 L1341.5,311.7 L1347.4,325 L1353,338.4 L1358.3,351.9 L1363.1,365.4 L1367.4,379 L1371.4,392.6 L1374.9,406.2 L1378,419.7 L1380.5,433.3 L1382.6,446.9 L1384.5,460.5 L1386.3,474.1 L1387.9,487.7 L1389.2,501.3 L1390.2,514.9 L1391,528.4 L1391.6,542 L1392,555.6 L1392.2,569.2 L1392,582.8 L1391.6,596.4 L1391,610 L1390.2,623.5 L1389.2,637.1 L1387.9,650.7 L1386.3,664.3 L1384.5,677.9 L1382.6,691.5 L1380.5,705.1 L1378,718.7 L1374.9,732.2 L1371.4,745.8 L1367.4,759.4 L1363.1,773 L1358.3,786.5 L1353,800 L1347.4,813.4 L1341.5,826.7 L1335.1,839.9 L1328.3,853 L1320.9,865.9 L1313.2,878.6 L1305.2,891.2 L1296.9,903.5 L1288.4,915.6 L1279.7,927.4 L1270.7,938.9 L1261.3,950.1 L1251.1,960.9 L1240,971.3 L1228.7,980.9 L1217.7,989.6 L1207.5,997 L1198.2,1003.1 L1190.2,1007.5 M1343.4,130.9 L1356.8,135.3 L1372.2,141.4 L1389.2,148.8 L1407.5,157.5 L1426.4,167.1 L1444.8,177.5 L1461.8,188.3 L1477.5,199.5 L1492.5,211 L1507.1,222.8 L1521.3,234.9 L1535.1,247.2 L1548.4,259.8 L1561.3,272.5 L1573.5,285.4 L1584.9,298.5 L1595.5,311.7 L1605.3,325 L1614.7,338.4 L1623.6,351.9 L1631.6,365.4 L1638.8,379 L1645.3,392.6 L1651.2,406.2 L1656.3,419.7 L1660.6,433.3 L1664.1,446.9 L1667.2,460.5 L1670.1,474.1 L1672.8,487.7 L1675,501.3 L1676.7,514.9 L1678,528.4 L1679,542 L1679.6,555.6 L1680,569.2 L1679.6,582.8 L1679,596.4 L1678,610 L1676.7,623.5 L1675,637.1 L1672.8,650.7 L1670.1,664.3 L1667.2,677.9 L1664.1,691.5 L1660.6,705.1 L1656.3,718.7 L1651.2,732.2 L1645.3,745.8 L1638.8,759.4 L1631.6,773 L1623.6,786.5 L1614.7,800 L1605.3,813.4 L1595.5,826.7 L1584.9,839.9 L1573.5,853 L1561.3,865.9 L1548.4,878.6 L1535.1,891.2 L1521.3,903.5 L1507.1,915.6 L1492.5,927.4 L1477.5,938.9 L1461.8,950.1 L1444.8,960.9 L1426.4,971.3 L1407.5,980.9 L1389.2,989.6 L1372.2,997 L1356.8,1003.1 L1343.4,1007.5 M577.5,130.9 L564.1,135.3 L548.7,141.4 L531.7,148.8 L513.4,157.5 L494.5,167.1 L476.1,177.5 L459.1,188.3 L443.4,199.5 L428.4,211 L413.8,222.8 L399.6,234.9 L385.8,247.2 L372.5,259.8 L359.6,272.5 L347.4,285.4 L336,298.5 L325.4,311.7 L315.6,325 L306.2,338.4 L297.3,351.9 L289.3,365.4 L282.1,379 L275.6,392.6 L269.7,406.2 L264.6,419.7 L260.3,433.3 L256.8,446.9 L253.7,460.5 L250.8,474.1 L248.1,487.7 L245.9,501.3 L244.2,514.9 L242.9,528.4 L241.9,542 L241.3,555.6 L240.9,569.2 L241.3,582.8 L241.9,596.4 L242.9,610 L244.2,623.5 L245.9,637.1 L248.1,650.7 L250.8,664.3 L253.7,677.9 L256.8,691.5 L260.3,705.1 L264.6,718.7 L269.7,732.2 L275.6,745.8 L282.1,759.4 L289.3,773 L297.3,786.5 L306.2,800 L315.6,813.4 L325.4,826.7 L336,839.9 L347.4,853 L359.6,865.9 L372.5,878.6 L385.8,891.2 L399.6,903.5 L413.8,915.6 L428.4,927.4 L443.4,938.9 L459.1,950.1 L476.1,960.9 L494.5,971.3 L513.4,980.9 L531.7,989.6 L548.7,997 L564.1,1003.1 L577.5,1007.5 M730.7,130.9 L722.7,135.3 L713.4,141.4 L703.2,148.8 L692.2,157.5 L680.9,167.1 L669.8,177.5 L659.6,188.3 L650.2,199.5 L641.2,211 L632.5,222.8 L624,234.9 L615.7,247.2 L607.7,259.8 L600,272.5 L592.6,285.4 L585.8,298.5 L579.4,311.7 L573.5,325 L567.9,338.4 L562.6,351.9 L557.8,365.4 L553.5,379 L549.5,392.6 L546,406.2 L542.9,419.7 L540.4,433.3 L538.3,446.9 L536.4,460.5 L534.6,474.1 L533,487.7 L531.7,501.3 L530.7,514.9 L529.9,528.4 L529.3,542 L528.9,555.6 L528.7,569.2 L528.9,582.8 L529.3,596.4 L529.9,610 L530.7,623.5 L531.7,637.1 L533,650.7 L534.6,664.3 L536.4,677.9 L538.3,691.5 L540.4,705.1 L542.9,718.7 L546,732.2 L549.5,745.8 L553.5,759.4 L557.8,773 L562.6,786.5 L567.9,800 L573.5,813.4 L579.4,826.7 L585.8,839.9 L592.6,853 L600,865.9 L607.7,878.6 L615.7,891.2 L624,903.5 L632.5,915.6 L641.2,927.4 L650.2,938.9 L659.6,950.1 L669.8,960.9 L680.9,971.3 L692.2,980.9 L703.2,989.6 L713.4,997 L722.7,1003.1 L730.7,1007.5" fill="none" stroke="#000" stroke-width="1.1" stroke-dasharray="4.1,1.78"/>
<path d="M500.9,130.9 L484.9,135.3 L466.4,141.4 L445.9,148.8 L424,157.5 L401.3,167.1 L379.2,177.5 L358.8,188.3 L340,199.5 L321.9,211 L304.5,222.8 L287.5,234.9 L270.9,247.2 L254.9,259.8 L239.5,272.5 L224.8,285.4 L211.1,298.5 L198.4,311.7 L186.6,325 L175.3,338.4 L164.7,351.9 L155.1,365.4 L146.5,379 L138.6,392.6 L131.5,406.2 L125.4,419.7 L120.3,433.3 L116.1,446.9 L112.4,460.5 L108.8,474.1 L105.6,487.7 L103,501.3 L101,514.9 L99.4,528.4 L98.2,542 L97.4,555.6 L97,569.2 L97.4,582.8 L98.2,596.4 L99.4,610 L101,623.5 L103,637.1 L105.6,650.7 L108.8,664.3 L112.4,677.9 L116.1,691.5 L120.3,705.1 L125.4,718.7 L131.5,732.2 L138.6,745.8 L146.5,759.4 L155.1,773 L164.7,786.5 L175.3,800 L186.6,813.4 L198.4,826.7 L211.1,839.9 L224.8,853 L239.5,865.9 L254.9,878.6 L270.9,891.2 L287.5,903.5 L304.5,915.6 L321.9,927.4 L340,938.9 L358.8,950.1 L379.2,960.9 L401.3,971.3 L424,980.9 L445.9,989.6 L466.4,997 L484.9,1003.1 L500.9,1007.5 L1420,1007.5 L1436,1003.1 L1454.5,997 L1475,989.6 L1496.9,980.9 L1519.6,971.3 L1541.7,960.9 L1562.1,950.1 L1580.9,938.9 L1599,927.4 L1616.4,915.6 L1633.4,903.5 L1650,891.2 L1666,878.6 L1681.4,865.9 L1696.1,853 L1709.8,839.9 L1722.5,826.7 L1734.3,813.4 L1745.6,800 L1756.2,786.5 L1765.8,773 L1774.4,759.4 L1782.3,745.8 L1789.4,732.2 L1795.5,718.7 L1800.6,705.1 L1804.8,691.5 L1808.5,677.9 L1812.1,664.3 L1815.3,650.7 L1817.9,637.1 L1819.9,623.5 L1821.5,610 L1822.7,596.4 L1823.5,582.8 L1823.9,569.2 L1823.5,555.6 L1822.7,542 L1821.5,528.4 L1819.9,514.9 L1817.9,501.3 L1815.3,487.7 L1812.1,474.1 L1808.5,460.5 L1804.8,446.9 L1800.6,433.3 L1795.5,419.7 L1789.4,406.2 L1782.3,392.6 L1774.4,379 L1765.8,365.4 L1756.2,351.9 L1745.6,338.4 L1734.3,325 L1722.5,311.7 L1709.8,298.5 L1696.1,285.4 L1681.4,272.5 L1666,259.8 L1650,247.2 L1633.4,234.9 L1616.4,222.8 L1599,211 L1580.9,199.5 L1562.1,188.3 L1541.7,177.5 L1519.6,167.1 L1496.9,157.5 L1475,148.8 L1454.5,141.4 L1436,135.3 L1420,130.9Z" fill="none" stroke="#000" stroke-width="1"/>
<text x="95.7" y="1045.6" font-size="29.2">Source: ERA5 Reanalysis</text>
<text x="1837.6" y="1045.6" font-size="29.2" text-anchor="end">Map by: Brian Brettschneider</text>
<rect x="141.6" y="1191" width="234.3" height="49.5" fill="#2E75C5"/>
<rect x="375.6" y="1191" width="234.3" height="49.5" fill="#74AED2"/>
<rect x="609.6" y="1191" width="234.3" height="49.5" fill="#C6DFED"/>
<rect x="843.6" y="1191" width="234.3" height="49.5" fill="#ffffff"/>
<rect x="1077.6" y="1191" width="234.3" height="49.5" fill="#F9CDB7"/>
<rect x="1311.6" y="1191" width="234.3" height="49.5" fill="#E6866E"/>
<rect x="1545.6" y="1191" width="234.3" height="49.5" fill="#C72A35"/>
<text class="b" x="208.8" y="1223.8" font-size="29" textLength="118.3" lengthAdjust="spacingAndGlyphs" fill="#fff" stroke="#fff" stroke-width="8" stroke-linejoin="round">Record</text>
<text class="b" x="208.8" y="1223.8" font-size="29" textLength="118.3" lengthAdjust="spacingAndGlyphs" fill="#000" stroke="#000" stroke-width="0.7">Record</text>
<text class="b" x="394.5" y="1223.8" font-size="29" textLength="206.5" lengthAdjust="spacingAndGlyphs" fill="#fff" stroke="#fff" stroke-width="8" stroke-linejoin="round">Much Below</text>
<text class="b" x="394.5" y="1223.8" font-size="29" textLength="206.5" lengthAdjust="spacingAndGlyphs" fill="#000" stroke="#000" stroke-width="0.7">Much Below</text>
<text class="b" x="679.4" y="1223.8" font-size="29" textLength="104.1" lengthAdjust="spacingAndGlyphs" fill="#fff" stroke="#fff" stroke-width="8" stroke-linejoin="round">Below</text>
<text class="b" x="679.4" y="1223.8" font-size="29" textLength="104.1" lengthAdjust="spacingAndGlyphs" fill="#000" stroke="#000" stroke-width="0.7">Below</text>
<text class="b" x="853.1" y="1223.8" font-size="29" textLength="215.4" lengthAdjust="spacingAndGlyphs" fill="#fff" stroke="#fff" stroke-width="8" stroke-linejoin="round">Near Normal</text>
<text class="b" x="853.1" y="1223.8" font-size="29" textLength="215.4" lengthAdjust="spacingAndGlyphs" fill="#000" stroke="#000" stroke-width="0.7">Near Normal</text>
<text class="b" x="1152.5" y="1223.8" font-size="29" textLength="107.3" lengthAdjust="spacingAndGlyphs" fill="#fff" stroke="#fff" stroke-width="8" stroke-linejoin="round">Above</text>
<text class="b" x="1152.5" y="1223.8" font-size="29" textLength="107.3" lengthAdjust="spacingAndGlyphs" fill="#000" stroke="#000" stroke-width="0.7">Above</text>
<text class="b" x="1325.2" y="1223.8" font-size="29" textLength="208.7" lengthAdjust="spacingAndGlyphs" fill="#fff" stroke="#fff" stroke-width="8" stroke-linejoin="round">Much Above</text>
<text class="b" x="1325.2" y="1223.8" font-size="29" textLength="208.7" lengthAdjust="spacingAndGlyphs" fill="#000" stroke="#000" stroke-width="0.7">Much Above</text>
<text class="b" x="1593.1" y="1223.8" font-size="29" textLength="118.8" lengthAdjust="spacingAndGlyphs" fill="#fff" stroke="#fff" stroke-width="8" stroke-linejoin="round">Record</text>
<text class="b" x="1593.1" y="1223.8" font-size="29" textLength="118.8" lengthAdjust="spacingAndGlyphs" fill="#000" stroke="#000" stroke-width="0.7">Record</text>
<text x="960" y="1286.3" font-size="34.8" text-anchor="middle" xml:space="preserve">Compared to 1991-2020 Base Period   (Records Since 1940)</text>
<path d="M183.2,1352 V1607.5 M221.9,1352 V1607.5 M260.6,1352 V1607.5 M299.4,1352 V1607.5 M338.1,1352 V1607.5 M376.8,1352 V1607.5 M415.6,1352 V1607.5 M454.3,1352 V1607.5 M493,1352 V1607.5 M531.7,1352 V1607.5 M570.5,1352 V1607.5 M609.2,1352 V1607.5 M647.9,1352 V1607.5 M686.7,1352 V1607.5 M725.4,1352 V1607.5 M764.1,1352 V1607.5 M802.9,1352 V1607.5 M841.6,1352 V1607.5 M880.3,1352 V1607.5 M919.1,1352 V1607.5 M957.8,1352 V1607.5 M996.5,1352 V1607.5 M1035.2,1352 V1607.5 M1074,1352 V1607.5 M1112.7,1352 V1607.5 M1151.4,1352 V1607.5 M1190.2,1352 V1607.5 M1228.9,1352 V1607.5 M1267.6,1352 V1607.5 M1306.4,1352 V1607.5 M1345.1,1352 V1607.5 M1383.8,1352 V1607.5 M1422.6,1352 V1607.5 M1461.3,1352 V1607.5 M1500,1352 V1607.5 M1538.8,1352 V1607.5 M1577.5,1352 V1607.5 M1616.2,1352 V1607.5 M1654.9,1352 V1607.5 M1693.7,1352 V1607.5 M1732.4,1352 V1607.5 M1771.1,1352 V1607.5 M1809.9,1352 V1607.5 M163.8,1596.3 H1848.6 M163.8,1535.2 H1848.6 M163.8,1474.2 H1848.6 M163.8,1413.1 H1848.6 M163.8,1352 H1848.6" fill="none" stroke="#b0b0b0" stroke-width="1.1"/>
<g fill="#808080"><circle cx="183.2" cy="1549" r="6.9"/><circle cx="202.5" cy="1559.8" r="6.9"/><circle cx="221.9" cy="1586.9" r="6.9"/><circle cx="241.3" cy="1586.9" r="6.9"/><circle cx="260.6" cy="1488.6" r="6.9"/><circle cx="280" cy="1534.6" r="6.9"/><circle cx="299.4" cy="1570.6" r="6.9"/><circle cx="318.7" cy="1545.3" r="6.9"/><circle cx="338.1" cy="1543.1" r="6.9"/><circle cx="357.5" cy="1550.1" r="6.9"/><circle cx="376.8" cy="1561.4" r="6.9"/><circle cx="396.2" cy="1520.1" r="6.9"/><circle cx="415.6" cy="1527.7" r="6.9"/><circle cx="434.9" cy="1516.2" r="6.9"/><circle cx="454.3" cy="1594.9" r="6.9"/><circle cx="473.6" cy="1575.9" r="6.9"/><circle cx="493" cy="1590.3" r="6.9"/><circle cx="512.4" cy="1536.2" r="6.9"/><circle cx="531.7" cy="1537.1" r="6.9"/><circle cx="551.1" cy="1542.1" r="6.9"/><circle cx="570.5" cy="1535.2" r="6.9"/><circle cx="589.8" cy="1540.4" r="6.9"/><circle cx="609.2" cy="1558.6" r="6.9"/><circle cx="628.6" cy="1544.4" r="6.9"/><circle cx="647.9" cy="1546.7" r="6.9"/><circle cx="667.3" cy="1564.4" r="6.9"/><circle cx="686.7" cy="1521.4" r="6.9"/><circle cx="706" cy="1543.7" r="6.9"/><circle cx="725.4" cy="1552.5" r="6.9"/><circle cx="744.8" cy="1529.5" r="6.9"/><circle cx="764.1" cy="1541.5" r="6.9"/><circle cx="783.5" cy="1579.3" r="6.9"/><circle cx="802.9" cy="1543.1" r="6.9"/><circle cx="822.2" cy="1526.5" r="6.9"/><circle cx="841.6" cy="1577.7" r="6.9"/><circle cx="861" cy="1584.6" r="6.9"/><circle cx="880.3" cy="1584.6" r="6.9"/><circle cx="899.7" cy="1529.5" r="6.9"/><circle cx="919.1" cy="1547.2" r="6.9"/><circle cx="938.4" cy="1520.3" r="6.9"/><circle cx="957.8" cy="1497.8" r="6.9"/><circle cx="977.2" cy="1502.4" r="6.9"/><circle cx="996.5" cy="1528.8" r="6.9"/><circle cx="1015.9" cy="1494.4" r="6.9"/><circle cx="1035.2" cy="1536.2" r="6.9"/><circle cx="1054.6" cy="1543.1" r="6.9"/><circle cx="1074" cy="1530" r="6.9"/><circle cx="1093.3" cy="1493.2" r="6.9"/><circle cx="1112.7" cy="1480.1" r="6.9"/><circle cx="1132.1" cy="1508.6" r="6.9"/><circle cx="1151.4" cy="1482.2" r="6.9"/><circle cx="1170.8" cy="1463.3" r="6.9"/><circle cx="1190.2" cy="1528.8" r="6.9"/><circle cx="1209.5" cy="1505.2" r="6.9"/><circle cx="1228.9" cy="1501.7" r="6.9"/><circle cx="1248.3" cy="1485.9" r="6.9"/><circle cx="1267.6" cy="1503.1" r="6.9"/><circle cx="1287" cy="1500.5" r="6.9"/><circle cx="1306.4" cy="1440" r="6.9"/><circle cx="1325.7" cy="1517.3" r="6.9"/><circle cx="1345.1" cy="1510.4" r="6.9"/><circle cx="1364.5" cy="1488.6" r="6.9"/><circle cx="1383.8" cy="1465.7" r="6.9"/><circle cx="1403.2" cy="1476" r="6.9"/><circle cx="1422.6" cy="1501.3" r="6.9"/><circle cx="1441.9" cy="1465.2" r="6.9"/><circle cx="1461.3" cy="1472.1" r="6.9"/><circle cx="1480.7" cy="1470.7" r="6.9"/><circle cx="1500" cy="1505.9" r="6.9"/><circle cx="1519.4" cy="1476" r="6.9"/><circle cx="1538.8" cy="1439.7" r="6.9"/><circle cx="1558.1" cy="1457.6" r="6.9"/><circle cx="1577.5" cy="1467.3" r="6.9"/><circle cx="1596.8" cy="1465.7" r="6.9"/><circle cx="1616.2" cy="1454.6" r="6.9"/><circle cx="1635.6" cy="1450" r="6.9"/><circle cx="1654.9" cy="1425.5" r="6.9"/><circle cx="1674.3" cy="1432.4" r="6.9"/><circle cx="1693.7" cy="1436.5" r="6.9"/><circle cx="1713" cy="1409.8" r="6.9"/><circle cx="1732.4" cy="1410.3" r="6.9"/><circle cx="1751.8" cy="1430.1" r="6.9"/><circle cx="1771.1" cy="1423.9" r="6.9"/><circle cx="1790.5" cy="1387.1" r="6.9"/><circle cx="1809.9" cy="1362.3" r="6.9"/></g>
<circle cx="1829.2" cy="1400.9" r="10.4" fill="#ff0000"/>
<path d="M183.2,1582.1 L1829.2,1434.2" stroke="#000" stroke-width="1.3" stroke-dasharray="5.1,2.2" fill="none"/>
<path d="M183.2,1549 L202.5,1559.8 L221.9,1586.9 L241.3,1586.9 L260.6,1488.6 L280,1534.6 L299.4,1570.6 L318.7,1545.3 L338.1,1543.1 L357.5,1550.1 L376.8,1561.4 L396.2,1520.1 L415.6,1527.7 L434.9,1516.2 L454.3,1594.9 L473.6,1575.9 L493,1590.3 L512.4,1536.2 L531.7,1537.1 L551.1,1542.1 L570.5,1535.2 L589.8,1540.4 L609.2,1558.6 L628.6,1544.4 L647.9,1546.7 L667.3,1564.4 L686.7,1521.4 L706,1543.7 L725.4,1552.5 L744.8,1529.5 L764.1,1541.5 L783.5,1579.3 L802.9,1543.1 L822.2,1526.5 L841.6,1577.7 L861,1584.6 L880.3,1584.6 L899.7,1529.5 L919.1,1547.2 L938.4,1520.3 L957.8,1497.8 L977.2,1502.4 L996.5,1528.8 L1015.9,1494.4 L1035.2,1536.2 L1054.6,1543.1 L1074,1530 L1093.3,1493.2 L1112.7,1480.1 L1132.1,1508.6 L1151.4,1482.2 L1170.8,1463.3 L1190.2,1528.8 L1209.5,1505.2 L1228.9,1501.7 L1248.3,1485.9 L1267.6,1503.1 L1287,1500.5 L1306.4,1440 L1325.7,1517.3 L1345.1,1510.4 L1364.5,1488.6 L1383.8,1465.7 L1403.2,1476 L1422.6,1501.3 L1441.9,1465.2 L1461.3,1472.1 L1480.7,1470.7 L1500,1505.9 L1519.4,1476 L1538.8,1439.7 L1558.1,1457.6 L1577.5,1467.3 L1596.8,1465.7 L1616.2,1454.6 L1635.6,1450 L1654.9,1425.5 L1674.3,1432.4 L1693.7,1436.5 L1713,1409.8 L1732.4,1410.3 L1751.8,1430.1 L1771.1,1423.9 L1790.5,1387.1 L1809.9,1362.3 L1829.2,1400.9" fill="none" stroke="#000" stroke-width="2.8" stroke-linejoin="round" stroke-linecap="butt"/>
<rect x="163.8" y="1352" width="1684.8" height="255.5" fill="none" stroke="#000" stroke-width="1.1"/>
<path d="M183.2,1607.5 v4.9 M221.9,1607.5 v4.9 M260.6,1607.5 v4.9 M299.4,1607.5 v4.9 M338.1,1607.5 v4.9 M376.8,1607.5 v4.9 M415.6,1607.5 v4.9 M454.3,1607.5 v4.9 M493,1607.5 v4.9 M531.7,1607.5 v4.9 M570.5,1607.5 v4.9 M609.2,1607.5 v4.9 M647.9,1607.5 v4.9 M686.7,1607.5 v4.9 M725.4,1607.5 v4.9 M764.1,1607.5 v4.9 M802.9,1607.5 v4.9 M841.6,1607.5 v4.9 M880.3,1607.5 v4.9 M919.1,1607.5 v4.9 M957.8,1607.5 v4.9 M996.5,1607.5 v4.9 M1035.2,1607.5 v4.9 M1074,1607.5 v4.9 M1112.7,1607.5 v4.9 M1151.4,1607.5 v4.9 M1190.2,1607.5 v4.9 M1228.9,1607.5 v4.9 M1267.6,1607.5 v4.9 M1306.4,1607.5 v4.9 M1345.1,1607.5 v4.9 M1383.8,1607.5 v4.9 M1422.6,1607.5 v4.9 M1461.3,1607.5 v4.9 M1500,1607.5 v4.9 M1538.8,1607.5 v4.9 M1577.5,1607.5 v4.9 M1616.2,1607.5 v4.9 M1654.9,1607.5 v4.9 M1693.7,1607.5 v4.9 M1732.4,1607.5 v4.9 M1771.1,1607.5 v4.9 M1809.9,1607.5 v4.9 M163.8,1596.3 h-4.9 M163.8,1535.2 h-4.9 M163.8,1474.2 h-4.9 M163.8,1413.1 h-4.9 M163.8,1352 h-4.9" fill="none" stroke="#000" stroke-width="1.1"/>
<text x="100.4" y="1603.9" font-size="22.8" textLength="51.8" lengthAdjust="spacingAndGlyphs">5560</text>
<text x="100.4" y="1542.8" font-size="22.8" textLength="51.8" lengthAdjust="spacingAndGlyphs">5570</text>
<text x="100.4" y="1481.8" font-size="22.8" textLength="51.8" lengthAdjust="spacingAndGlyphs">5580</text>
<text x="100.4" y="1420.7" font-size="22.8" textLength="51.8" lengthAdjust="spacingAndGlyphs">5590</text>
<text x="100.4" y="1359.6" font-size="22.8" textLength="51.8" lengthAdjust="spacingAndGlyphs">5600</text>
<text transform="translate(189.1,1671.4) rotate(-90)" font-size="22.8" textLength="52.4" lengthAdjust="spacingAndGlyphs">1940</text>
<text transform="translate(227.8,1671.4) rotate(-90)" font-size="22.8" textLength="52.4" lengthAdjust="spacingAndGlyphs">1942</text>
<text transform="translate(266.5,1671.4) rotate(-90)" font-size="22.8" textLength="52.4" lengthAdjust="spacingAndGlyphs">1944</text>
<text transform="translate(305.3,1671.4) rotate(-90)" font-size="22.8" textLength="52.4" lengthAdjust="spacingAndGlyphs">1946</text>
<text transform="translate(344,1671.4) rotate(-90)" font-size="22.8" textLength="52.4" lengthAdjust="spacingAndGlyphs">1948</text>
<text transform="translate(382.7,1671.4) rotate(-90)" font-size="22.8" textLength="52.4" lengthAdjust="spacingAndGlyphs">1950</text>
<text transform="translate(421.5,1671.4) rotate(-90)" font-size="22.8" textLength="52.4" lengthAdjust="spacingAndGlyphs">1952</text>
<text transform="translate(460.2,1671.4) rotate(-90)" font-size="22.8" textLength="52.4" lengthAdjust="spacingAndGlyphs">1954</text>
<text transform="translate(498.9,1671.4) rotate(-90)" font-size="22.8" textLength="52.4" lengthAdjust="spacingAndGlyphs">1956</text>
<text transform="translate(537.6,1671.4) rotate(-90)" font-size="22.8" textLength="52.4" lengthAdjust="spacingAndGlyphs">1958</text>
<text transform="translate(576.4,1671.4) rotate(-90)" font-size="22.8" textLength="52.4" lengthAdjust="spacingAndGlyphs">1960</text>
<text transform="translate(615.1,1671.4) rotate(-90)" font-size="22.8" textLength="52.4" lengthAdjust="spacingAndGlyphs">1962</text>
<text transform="translate(653.8,1671.4) rotate(-90)" font-size="22.8" textLength="52.4" lengthAdjust="spacingAndGlyphs">1964</text>
<text transform="translate(692.6,1671.4) rotate(-90)" font-size="22.8" textLength="52.4" lengthAdjust="spacingAndGlyphs">1966</text>
<text transform="translate(731.3,1671.4) rotate(-90)" font-size="22.8" textLength="52.4" lengthAdjust="spacingAndGlyphs">1968</text>
<text transform="translate(770,1671.4) rotate(-90)" font-size="22.8" textLength="52.4" lengthAdjust="spacingAndGlyphs">1970</text>
<text transform="translate(808.8,1671.4) rotate(-90)" font-size="22.8" textLength="52.4" lengthAdjust="spacingAndGlyphs">1972</text>
<text transform="translate(847.5,1671.4) rotate(-90)" font-size="22.8" textLength="52.4" lengthAdjust="spacingAndGlyphs">1974</text>
<text transform="translate(886.2,1671.4) rotate(-90)" font-size="22.8" textLength="52.4" lengthAdjust="spacingAndGlyphs">1976</text>
<text transform="translate(925,1671.4) rotate(-90)" font-size="22.8" textLength="52.4" lengthAdjust="spacingAndGlyphs">1978</text>
<text transform="translate(963.7,1671.4) rotate(-90)" font-size="22.8" textLength="52.4" lengthAdjust="spacingAndGlyphs">1980</text>
<text transform="translate(1002.4,1671.4) rotate(-90)" font-size="22.8" textLength="52.4" lengthAdjust="spacingAndGlyphs">1982</text>
<text transform="translate(1041.1,1671.4) rotate(-90)" font-size="22.8" textLength="52.4" lengthAdjust="spacingAndGlyphs">1984</text>
<text transform="translate(1079.9,1671.4) rotate(-90)" font-size="22.8" textLength="52.4" lengthAdjust="spacingAndGlyphs">1986</text>
<text transform="translate(1118.6,1671.4) rotate(-90)" font-size="22.8" textLength="52.4" lengthAdjust="spacingAndGlyphs">1988</text>
<text transform="translate(1157.3,1671.4) rotate(-90)" font-size="22.8" textLength="52.4" lengthAdjust="spacingAndGlyphs">1990</text>
<text transform="translate(1196.1,1671.4) rotate(-90)" font-size="22.8" textLength="52.4" lengthAdjust="spacingAndGlyphs">1992</text>
<text transform="translate(1234.8,1671.4) rotate(-90)" font-size="22.8" textLength="52.4" lengthAdjust="spacingAndGlyphs">1994</text>
<text transform="translate(1273.5,1671.4) rotate(-90)" font-size="22.8" textLength="52.4" lengthAdjust="spacingAndGlyphs">1996</text>
<text transform="translate(1312.3,1671.4) rotate(-90)" font-size="22.8" textLength="52.4" lengthAdjust="spacingAndGlyphs">1998</text>
<text transform="translate(1351,1671.4) rotate(-90)" font-size="22.8" textLength="52.4" lengthAdjust="spacingAndGlyphs">2000</text>
<text transform="translate(1389.7,1671.4) rotate(-90)" font-size="22.8" textLength="52.4" lengthAdjust="spacingAndGlyphs">2002</text>
<text transform="translate(1428.5,1671.4) rotate(-90)" font-size="22.8" textLength="52.4" lengthAdjust="spacingAndGlyphs">2004</text>
<text transform="translate(1467.2,1671.4) rotate(-90)" font-size="22.8" textLength="52.4" lengthAdjust="spacingAndGlyphs">2006</text>
<text transform="translate(1505.9,1671.4) rotate(-90)" font-size="22.8" textLength="52.4" lengthAdjust="spacingAndGlyphs">2008</text>
<text transform="translate(1544.7,1671.4) rotate(-90)" font-size="22.8" textLength="52.4" lengthAdjust="spacingAndGlyphs">2010</text>
<text transform="translate(1583.4,1671.4) rotate(-90)" font-size="22.8" textLength="52.4" lengthAdjust="spacingAndGlyphs">2012</text>
<text transform="translate(1622.1,1671.4) rotate(-90)" font-size="22.8" textLength="52.4" lengthAdjust="spacingAndGlyphs">2014</text>
<text transform="translate(1660.8,1671.4) rotate(-90)" font-size="22.8" textLength="52.4" lengthAdjust="spacingAndGlyphs">2016</text>
<text transform="translate(1699.6,1671.4) rotate(-90)" font-size="22.8" textLength="52.4" lengthAdjust="spacingAndGlyphs">2018</text>
<text transform="translate(1738.3,1671.4) rotate(-90)" font-size="22.8" textLength="52.4" lengthAdjust="spacingAndGlyphs">2020</text>
<text transform="translate(1777,1671.4) rotate(-90)" font-size="22.8" textLength="52.4" lengthAdjust="spacingAndGlyphs">2022</text>
<text transform="translate(1815.8,1671.4) rotate(-90)" font-size="22.8" textLength="52.4" lengthAdjust="spacingAndGlyphs">2024</text>
<text class="b" transform="translate(91.1,1482.7) rotate(-90)" font-size="30.6" text-anchor="middle">Meters</text>
</svg>
</body></html>
